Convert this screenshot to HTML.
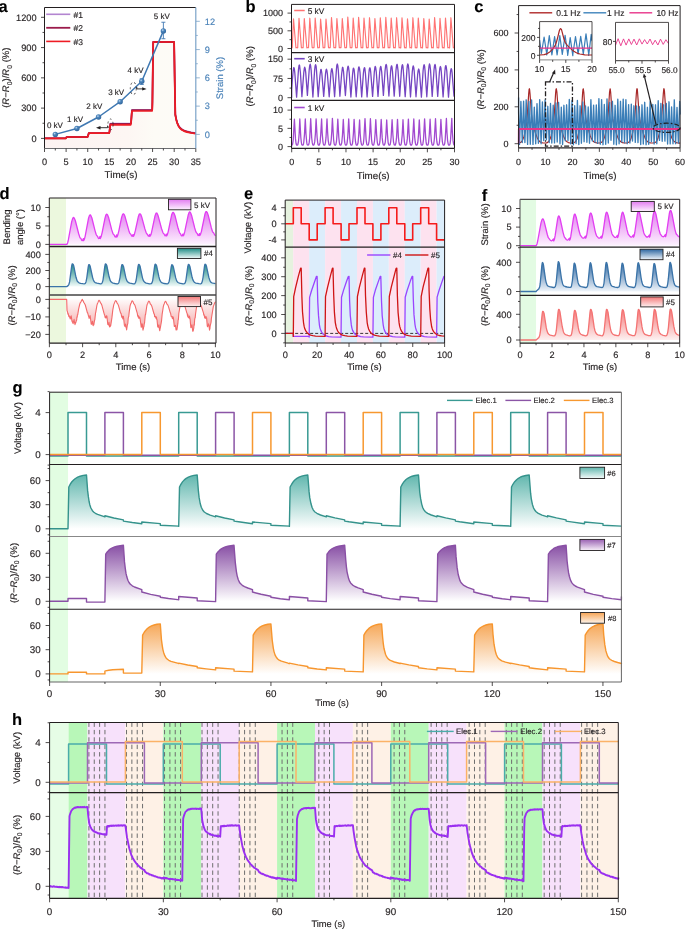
<!DOCTYPE html>
<html><head><meta charset="utf-8"><style>
html,body{margin:0;padding:0;background:#fff;width:685px;height:930px;overflow:hidden}
svg{display:block;will-change:transform}
text{font-family:"Liberation Sans", sans-serif;text-rendering:geometricPrecision}
</style></head><body>
<svg width="685" height="930" viewBox="0 0 685 930" font-family='"Liberation Sans", sans-serif'><defs><radialGradient id="sph" cx="0.38" cy="0.35" r="0.7"><stop offset="0" stop-color="#c8dcef"/><stop offset="0.35" stop-color="#4d86bd"/><stop offset="1" stop-color="#2f649a"/></radialGradient><linearGradient id="aFill" gradientUnits="userSpaceOnUse" x1="44.5" y1="0" x2="195.8" y2="0"><stop offset="0" stop-color="#fdf3f2"/><stop offset="0.55" stop-color="#fdf6f3"/><stop offset="0.72" stop-color="#fdfbf6"/><stop offset="1" stop-color="#fdfbf7"/></linearGradient><linearGradient id="gMag" x1="0" y1="0" x2="0" y2="1"><stop offset="0" stop-color="#e27cf0" stop-opacity="1"/><stop offset="1" stop-color="#fdf2fe" stop-opacity="1"/></linearGradient><linearGradient id="gTeal" x1="0" y1="0" x2="0" y2="1"><stop offset="0" stop-color="#1c8b84" stop-opacity="1"/><stop offset="1" stop-color="#f2fbfa" stop-opacity="1"/></linearGradient><linearGradient id="gBlue" x1="0" y1="0" x2="0" y2="1"><stop offset="0" stop-color="#2d66a0" stop-opacity="1"/><stop offset="1" stop-color="#f0f5fb" stop-opacity="1"/></linearGradient><linearGradient id="gPink" x1="0" y1="0" x2="0" y2="1"><stop offset="0" stop-color="#fefafa" stop-opacity="1"/><stop offset="1" stop-color="#f5a3a3" stop-opacity="1"/></linearGradient><linearGradient id="gPink2" x1="0" y1="0" x2="0" y2="1"><stop offset="0" stop-color="#f47b7b" stop-opacity="1"/><stop offset="1" stop-color="#fdf0f0" stop-opacity="1"/></linearGradient><linearGradient id="gG6" x1="0" y1="0" x2="0" y2="1"><stop offset="0" stop-color="#5fb6ad" stop-opacity="1"/><stop offset="1" stop-color="#ffffff" stop-opacity="1"/></linearGradient><linearGradient id="gG7" x1="0" y1="0" x2="0" y2="1"><stop offset="0" stop-color="#8c55a8" stop-opacity="1"/><stop offset="1" stop-color="#ffffff" stop-opacity="1"/></linearGradient><linearGradient id="gG8" x1="0" y1="0" x2="0" y2="1"><stop offset="0" stop-color="#f5a04a" stop-opacity="1"/><stop offset="1" stop-color="#ffffff" stop-opacity="1"/></linearGradient><linearGradient id="gL6" x1="0" y1="0" x2="0" y2="1"><stop offset="0" stop-color="#5fb6ad" stop-opacity="1"/><stop offset="1" stop-color="#f5fbfa" stop-opacity="1"/></linearGradient><linearGradient id="gL7" x1="0" y1="0" x2="0" y2="1"><stop offset="0" stop-color="#9a62b3" stop-opacity="1"/><stop offset="1" stop-color="#f7f0f9" stop-opacity="1"/></linearGradient><linearGradient id="gL8" x1="0" y1="0" x2="0" y2="1"><stop offset="0" stop-color="#f7a555" stop-opacity="1"/><stop offset="1" stop-color="#fdf3ea" stop-opacity="1"/></linearGradient><linearGradient id="gG6u" gradientUnits="userSpaceOnUse" x1="0" y1="474.17" x2="0" y2="528.8"><stop offset="0" stop-color="#5fb6ad" stop-opacity="1"/><stop offset="1" stop-color="#ffffff" stop-opacity="1"/></linearGradient><linearGradient id="gG7u" gradientUnits="userSpaceOnUse" x1="0" y1="546.9" x2="0" y2="601.3"><stop offset="0" stop-color="#8c55a8" stop-opacity="1"/><stop offset="1" stop-color="#ffffff" stop-opacity="1"/></linearGradient><linearGradient id="gG8u" gradientUnits="userSpaceOnUse" x1="0" y1="619.05" x2="0" y2="673.9"><stop offset="0" stop-color="#f5a04a" stop-opacity="1"/><stop offset="1" stop-color="#ffffff" stop-opacity="1"/></linearGradient></defs><polygon points="44.5,138.4 65.9,138.4 66.5,137.2 66.9,137.0 87.4,137.0 87.8,136.6 88.8,133.2 109.1,133.2 109.5,131.8 110.1,125.8 110.5,124.8 130.7,124.8 131.0,123.3 131.7,113.5 132.0,111.0 152.0,111.0 152.2,110.1 152.4,102.3 153.2,42.0 174.1,42.0 175.3,114.7 176.3,119.9 177.3,123.4 178.5,126.1 179.8,128.1 181.7,129.8 184.0,131.1 187.0,132.1 191.1,133.0 195.8,133.7 195.8,148.5 44.5,148.5" fill="url(#aFill)" stroke="none" />
<polyline points="44.5,138.1 65.9,138.1 66.5,136.9 66.9,136.7 87.4,136.7 87.8,136.3 88.8,132.9 109.1,132.8 109.5,131.5 110.3,123.7 110.5,123.5 130.7,123.5 131.0,123.0 132.0,109.9 152.0,109.8 152.2,109.0 152.4,101.2 153.2,41.7 174.1,41.7 175.3,114.4 176.3,119.2 177.3,122.7 178.5,125.4 179.8,127.4 181.7,129.1 184.0,130.4 187.0,131.4 191.1,132.3 195.8,133.0" fill="none" stroke="#b385d0" stroke-width="1.6" stroke-linejoin="round" />
<polyline points="44.5,138.4 65.9,138.4 66.5,137.2 66.9,137.0 87.4,137.0 87.8,136.6 88.8,133.2 109.1,133.2 109.5,131.8 110.3,124.0 110.5,123.8 130.7,123.8 131.0,123.3 132.0,110.2 152.0,110.1 152.2,109.3 152.4,101.5 153.2,42.0 174.1,42.0 175.3,114.7 176.3,119.5 177.3,123.0 178.5,125.7 179.8,127.7 181.7,129.4 184.0,130.7 187.0,131.7 191.1,132.6 195.8,133.3" fill="none" stroke="#9b1b4b" stroke-width="1.8" stroke-linejoin="round" />
<polyline points="44.5,138.4 65.9,138.4 66.5,137.2 66.9,137.0 87.4,137.0 87.8,136.6 88.8,133.2 109.1,133.2 109.5,131.8 110.1,125.8 110.5,124.8 130.7,124.8 131.0,123.3 131.7,113.5 132.0,111.0 152.0,111.0 152.2,110.1 152.4,102.3 153.2,42.0 174.1,42.0 175.3,114.7 176.3,119.9 177.3,123.4 178.5,126.1 179.8,128.1 181.7,129.8 184.0,131.1 187.0,132.1 191.1,133.0 195.8,133.7" fill="none" stroke="#ee1c24" stroke-width="1.7" stroke-linejoin="round" />
<line x1="46.2" y1="14.3" x2="70.3" y2="14.3" stroke="#b385d0" stroke-width="1.6" />
<text x="73.5" y="17.5" font-size="8.5" text-anchor="start" fill="#231f20" stroke="#231f20" stroke-width="0.15" font-weight="normal" >#1</text>
<line x1="46.2" y1="27.8" x2="70.3" y2="27.8" stroke="#9b1b4b" stroke-width="1.8" />
<text x="73.5" y="31" font-size="8.5" text-anchor="start" fill="#231f20" stroke="#231f20" stroke-width="0.15" font-weight="normal" >#2</text>
<line x1="46.2" y1="41.4" x2="70.3" y2="41.4" stroke="#ee1c24" stroke-width="1.6" />
<text x="73.5" y="44.6" font-size="8.5" text-anchor="start" fill="#231f20" stroke="#231f20" stroke-width="0.15" font-weight="normal" >#3</text>
<polyline points="55.3,134.4 76.9,128.5 98.5,117.0 120.2,101.7 141.8,81.2 163.4,30.9" fill="none" stroke="#3f78b2" stroke-width="1.5" stroke-linejoin="round" />
<line x1="163.38" y1="38.74" x2="163.38" y2="22.24" stroke="#3f78b2" stroke-width="0.9" />
<line x1="161.38" y1="38.74" x2="165.38" y2="38.74" stroke="#3f78b2" stroke-width="0.9" />
<line x1="161.38" y1="22.24" x2="165.38" y2="22.24" stroke="#3f78b2" stroke-width="0.9" />
<line x1="141.76" y1="84.45" x2="141.76" y2="78.79" stroke="#3f78b2" stroke-width="0.9" />
<line x1="139.76" y1="84.45" x2="143.76" y2="84.45" stroke="#3f78b2" stroke-width="0.9" />
<line x1="139.76" y1="78.79" x2="143.76" y2="78.79" stroke="#3f78b2" stroke-width="0.9" />
<circle cx="55.31" cy="134.4" r="2.7" fill="url(#sph)"/>
<circle cx="76.92" cy="128.46" r="2.7" fill="url(#sph)"/>
<circle cx="98.54" cy="116.96" r="2.7" fill="url(#sph)"/>
<circle cx="120.15" cy="101.7" r="2.7" fill="url(#sph)"/>
<circle cx="141.76" cy="81.24" r="2.7" fill="url(#sph)"/>
<circle cx="163.38" cy="30.91" r="2.7" fill="url(#sph)"/>
<text x="46.9" y="128.2" font-size="8" text-anchor="start" fill="#231f20" stroke="#231f20" stroke-width="0.15" font-weight="normal" >0 kV</text>
<text x="67.1" y="122" font-size="8" text-anchor="start" fill="#231f20" stroke="#231f20" stroke-width="0.15" font-weight="normal" >1 kV</text>
<text x="86.3" y="108.9" font-size="8" text-anchor="start" fill="#231f20" stroke="#231f20" stroke-width="0.15" font-weight="normal" >2 kV</text>
<text x="108.2" y="94.5" font-size="8" text-anchor="start" fill="#231f20" stroke="#231f20" stroke-width="0.15" font-weight="normal" >3 kV</text>
<text x="127.5" y="72.7" font-size="8" text-anchor="start" fill="#231f20" stroke="#231f20" stroke-width="0.15" font-weight="normal" >4 kV</text>
<text x="153.8" y="18.9" font-size="8" text-anchor="start" fill="#231f20" stroke="#231f20" stroke-width="0.15" font-weight="normal" >5 kV</text>
<ellipse cx="110.5" cy="124.5" rx="2.6" ry="5.5" fill="none" stroke="#231f20" stroke-width="0.75" stroke-dasharray="2,2.6"/>
<ellipse cx="133.3" cy="88.4" rx="3.0" ry="6.3" fill="none" stroke="#231f20" stroke-width="0.75" stroke-dasharray="2,2.6"/>
<polyline points="107.6,125.6 107.6,127.7 99.0,127.7" fill="none" stroke="#231f20" stroke-width="0.9" stroke-linejoin="round" />
<polygon points="96.0,127.7 100.5,126.0 100.5,129.4" fill="#231f20" stroke="none" />
<polyline points="136.8,87.0 136.8,88.9 143.5,88.9" fill="none" stroke="#231f20" stroke-width="0.9" stroke-linejoin="round" />
<polygon points="146.6,88.9 142.2,87.2 142.2,90.6" fill="#231f20" stroke="none" />
<line x1="44.5" y1="7.5" x2="195.8" y2="7.5" stroke="#231f20" stroke-width="1" />
<line x1="44.5" y1="7.5" x2="44.5" y2="148.5" stroke="#231f20" stroke-width="1" />
<line x1="44.5" y1="148.5" x2="195.8" y2="148.5" stroke="#6d6e71" stroke-width="1.2" />
<line x1="195.8" y1="7.5" x2="195.8" y2="148.5" stroke="#7ba3c8" stroke-width="1.2" />
<line x1="41" y1="138.4" x2="44.5" y2="138.4" stroke="#231f20" stroke-width="0.8" />
<text x="36.5" y="141.6" font-size="9.2" text-anchor="end" fill="#231f20" stroke="#231f20" stroke-width="0.15" font-weight="normal" >0</text>
<line x1="41" y1="108.12" x2="44.5" y2="108.12" stroke="#231f20" stroke-width="0.8" />
<text x="36.5" y="111.33" font-size="9.2" text-anchor="end" fill="#231f20" stroke="#231f20" stroke-width="0.15" font-weight="normal" >300</text>
<line x1="41" y1="77.85" x2="44.5" y2="77.85" stroke="#231f20" stroke-width="0.8" />
<text x="36.5" y="81.05" font-size="9.2" text-anchor="end" fill="#231f20" stroke="#231f20" stroke-width="0.15" font-weight="normal" >600</text>
<line x1="41" y1="47.58" x2="44.5" y2="47.58" stroke="#231f20" stroke-width="0.8" />
<text x="36.5" y="50.78" font-size="9.2" text-anchor="end" fill="#231f20" stroke="#231f20" stroke-width="0.15" font-weight="normal" >900</text>
<line x1="41" y1="17.3" x2="44.5" y2="17.3" stroke="#231f20" stroke-width="0.8" />
<text x="36.5" y="20.5" font-size="9.2" text-anchor="end" fill="#231f20" stroke="#231f20" stroke-width="0.15" font-weight="normal" >1200</text>
<line x1="42.5" y1="123.26" x2="44.5" y2="123.26" stroke="#231f20" stroke-width="0.8" />
<line x1="42.5" y1="92.99" x2="44.5" y2="92.99" stroke="#231f20" stroke-width="0.8" />
<line x1="42.5" y1="62.71" x2="44.5" y2="62.71" stroke="#231f20" stroke-width="0.8" />
<line x1="42.5" y1="32.44" x2="44.5" y2="32.44" stroke="#231f20" stroke-width="0.8" />
<line x1="195.8" y1="134.4" x2="199.8" y2="134.4" stroke="#7ba3c8" stroke-width="0.8" />
<text x="204.8" y="137.6" font-size="9.2" text-anchor="start" fill="#4a82b8" stroke="#4a82b8" stroke-width="0.15" font-weight="normal" >0</text>
<line x1="195.8" y1="106.12" x2="199.8" y2="106.12" stroke="#7ba3c8" stroke-width="0.8" />
<text x="204.8" y="109.33" font-size="9.2" text-anchor="start" fill="#4a82b8" stroke="#4a82b8" stroke-width="0.15" font-weight="normal" >3</text>
<line x1="195.8" y1="77.85" x2="199.8" y2="77.85" stroke="#7ba3c8" stroke-width="0.8" />
<text x="204.8" y="81.05" font-size="9.2" text-anchor="start" fill="#4a82b8" stroke="#4a82b8" stroke-width="0.15" font-weight="normal" >6</text>
<line x1="195.8" y1="49.58" x2="199.8" y2="49.58" stroke="#7ba3c8" stroke-width="0.8" />
<text x="204.8" y="52.78" font-size="9.2" text-anchor="start" fill="#4a82b8" stroke="#4a82b8" stroke-width="0.15" font-weight="normal" >9</text>
<line x1="195.8" y1="21.3" x2="199.8" y2="21.3" stroke="#7ba3c8" stroke-width="0.8" />
<text x="204.8" y="24.5" font-size="9.2" text-anchor="start" fill="#4a82b8" stroke="#4a82b8" stroke-width="0.15" font-weight="normal" >12</text>
<line x1="195.8" y1="120.26" x2="197.8" y2="120.26" stroke="#7ba3c8" stroke-width="0.8" />
<line x1="195.8" y1="91.99" x2="197.8" y2="91.99" stroke="#7ba3c8" stroke-width="0.8" />
<line x1="195.8" y1="63.71" x2="197.8" y2="63.71" stroke="#7ba3c8" stroke-width="0.8" />
<line x1="195.8" y1="35.44" x2="197.8" y2="35.44" stroke="#7ba3c8" stroke-width="0.8" />
<line x1="44.5" y1="148.5" x2="44.5" y2="152" stroke="#231f20" stroke-width="0.8" />
<text x="44.5" y="165.3" font-size="9.2" text-anchor="middle" fill="#231f20" stroke="#231f20" stroke-width="0.15" font-weight="normal" >0</text>
<line x1="66.11" y1="148.5" x2="66.11" y2="152" stroke="#231f20" stroke-width="0.8" />
<text x="66.11" y="165.3" font-size="9.2" text-anchor="middle" fill="#231f20" stroke="#231f20" stroke-width="0.15" font-weight="normal" >5</text>
<line x1="87.73" y1="148.5" x2="87.73" y2="152" stroke="#231f20" stroke-width="0.8" />
<text x="87.73" y="165.3" font-size="9.2" text-anchor="middle" fill="#231f20" stroke="#231f20" stroke-width="0.15" font-weight="normal" >10</text>
<line x1="109.34" y1="148.5" x2="109.34" y2="152" stroke="#231f20" stroke-width="0.8" />
<text x="109.34" y="165.3" font-size="9.2" text-anchor="middle" fill="#231f20" stroke="#231f20" stroke-width="0.15" font-weight="normal" >15</text>
<line x1="130.96" y1="148.5" x2="130.96" y2="152" stroke="#231f20" stroke-width="0.8" />
<text x="130.96" y="165.3" font-size="9.2" text-anchor="middle" fill="#231f20" stroke="#231f20" stroke-width="0.15" font-weight="normal" >20</text>
<line x1="152.57" y1="148.5" x2="152.57" y2="152" stroke="#231f20" stroke-width="0.8" />
<text x="152.57" y="165.3" font-size="9.2" text-anchor="middle" fill="#231f20" stroke="#231f20" stroke-width="0.15" font-weight="normal" >25</text>
<line x1="174.19" y1="148.5" x2="174.19" y2="152" stroke="#231f20" stroke-width="0.8" />
<text x="174.19" y="165.3" font-size="9.2" text-anchor="middle" fill="#231f20" stroke="#231f20" stroke-width="0.15" font-weight="normal" >30</text>
<line x1="195.8" y1="148.5" x2="195.8" y2="152" stroke="#231f20" stroke-width="0.8" />
<text x="195.8" y="165.3" font-size="9.2" text-anchor="middle" fill="#231f20" stroke="#231f20" stroke-width="0.15" font-weight="normal" >35</text>
<line x1="55.31" y1="148.5" x2="55.31" y2="150.5" stroke="#231f20" stroke-width="0.8" />
<line x1="76.92" y1="148.5" x2="76.92" y2="150.5" stroke="#231f20" stroke-width="0.8" />
<line x1="98.54" y1="148.5" x2="98.54" y2="150.5" stroke="#231f20" stroke-width="0.8" />
<line x1="120.15" y1="148.5" x2="120.15" y2="150.5" stroke="#231f20" stroke-width="0.8" />
<line x1="141.76" y1="148.5" x2="141.76" y2="150.5" stroke="#231f20" stroke-width="0.8" />
<line x1="163.38" y1="148.5" x2="163.38" y2="150.5" stroke="#231f20" stroke-width="0.8" />
<line x1="184.99" y1="148.5" x2="184.99" y2="150.5" stroke="#231f20" stroke-width="0.8" />
<text x="121" y="178.3" font-size="9.8" text-anchor="middle" fill="#231f20" stroke="#231f20" stroke-width="0.15" font-weight="normal" >Time(s)</text>
<text x="9.5" y="77.7" font-size="9.5" text-anchor="middle" fill="#231f20" stroke="#231f20" stroke-width="0.15" font-weight="normal" transform="rotate(-90 9.5 77.7)" >(<tspan font-style="italic">R</tspan>−<tspan font-style="italic">R</tspan><tspan font-size="72%" dy="2.2">0</tspan><tspan dy="-2.2">)/</tspan><tspan font-style="italic">R</tspan><tspan font-size="72%" dy="2.2">0</tspan><tspan dy="-2.2"> (%)</tspan></text>
<text x="222.6" y="78" font-size="9.5" text-anchor="middle" fill="#4a82b8" stroke="#4a82b8" stroke-width="0.15" font-weight="normal" transform="rotate(-90 222.6 78)" >Strain (%)</text>
<text x="-1.5" y="11.7" font-size="16.5" text-anchor="start" fill="#000" stroke="#000" stroke-width="0.1" font-weight="bold" >a</text>
<polyline points="291.7,48.5 291.8,47.6 292.0,47.5 292.2,47.8 293.5,18.8 295.9,47.5 296.0,47.8 296.5,47.6 297.1,47.8 297.4,47.5 297.7,47.7 299.0,18.3 301.4,47.8 301.9,47.6 302.6,47.8 302.8,47.5 303.1,47.7 304.3,18.6 306.8,47.5 306.8,47.8 307.3,47.6 308.0,47.8 308.2,47.5 308.5,47.6 309.8,18.2 312.2,47.6 312.3,47.8 312.8,47.6 313.4,47.8 313.6,47.5 313.9,47.7 314.0,47.6 315.2,18.1 317.7,47.8 318.2,47.6 318.8,47.8 319.0,47.5 319.3,47.7 319.4,47.5 320.6,19.0 323.1,47.6 323.1,47.8 323.7,47.6 324.3,47.8 324.5,47.5 324.7,47.7 324.8,47.5 326.0,19.0 328.5,47.7 329.2,47.6 329.7,47.8 330.0,47.5 330.2,47.7 331.5,17.5 333.9,47.7 334.6,47.6 335.1,47.8 335.4,47.5 335.6,47.7 335.7,47.4 336.9,18.5 339.3,47.7 339.9,47.6 340.6,47.8 340.8,47.5 341.0,47.7 342.3,18.5 344.8,47.7 345.4,47.6 345.9,47.8 346.3,47.5 346.5,47.7 347.8,17.1 350.2,47.8 350.8,47.6 351.4,47.8 351.7,47.5 351.9,47.7 352.0,47.2 353.2,18.0 355.6,47.8 356.2,47.6 356.8,47.8 357.1,47.5 357.3,47.7 358.6,17.3 361.1,47.8 361.7,47.6 362.2,47.8 362.5,47.5 362.8,47.7 362.8,47.1 364.0,18.0 366.5,47.8 367.1,47.6 367.6,47.8 367.9,47.5 368.2,47.7 369.5,17.7 371.9,47.8 372.5,47.6 373.1,47.8 373.3,47.5 373.6,47.7 374.9,18.6 377.3,47.8 378.0,47.6 378.5,47.8 378.8,47.5 379.0,47.7 380.3,17.8 382.8,47.8 383.4,47.6 383.9,47.8 384.2,47.5 384.5,47.7 385.8,17.4 388.2,47.8 388.8,47.6 389.4,47.8 389.6,47.5 389.9,47.7 391.2,18.0 393.6,47.8 394.2,47.6 394.8,47.8 395.1,47.5 395.3,47.8 396.6,17.7 399.1,47.8 399.7,47.6 400.2,47.8 400.5,47.5 400.8,47.8 402.0,17.8 404.5,47.8 405.1,47.6 405.6,47.8 405.9,47.5 406.2,47.8 407.5,18.9 409.9,47.8 410.5,47.6 411.1,47.8 411.3,47.5 411.6,47.8 412.9,17.7 415.3,47.8 415.9,47.6 416.5,47.8 416.8,47.5 417.0,47.8 418.3,18.0 420.8,47.8 421.3,47.6 421.9,47.8 422.2,47.5 422.5,47.8 423.8,18.6 426.2,47.8 426.7,47.6 427.4,47.8 427.6,47.5 427.9,47.8 429.2,19.1 431.6,47.4 431.6,47.8 432.2,47.6 432.8,47.8 433.1,47.5 433.3,47.8 434.6,17.6 437.1,47.8 437.6,47.6 438.2,47.8 438.5,47.5 438.8,47.8 440.0,18.4 442.4,47.4 442.5,47.8 443.0,47.6 443.6,47.8 443.9,47.5 444.2,47.8 445.5,18.0 447.8,47.4 447.9,47.8 448.5,47.6 449.1,47.8 449.3,47.5 449.6,47.8 450.9,17.7 453.3,47.4 453.3,47.8 453.9,47.6 454.5,47.8" fill="none" stroke="#ff7373" stroke-width="1.15" stroke-linejoin="round" />
<polyline points="291.7,97.7 291.7,90.0 292.3,80.7 293.1,71.5 293.7,67.7 294.0,67.7 294.3,68.6 294.8,72.8 296.6,97.1 298.5,69.3 299.0,65.5 299.3,65.0 299.6,65.6 300.4,72.5 301.9,96.6 303.8,72.3 304.3,68.5 304.7,67.2 305.2,68.6 305.7,72.4 307.4,95.4 309.2,69.8 309.7,65.6 310.2,64.2 310.6,65.7 311.2,70.7 312.9,97.0 314.6,70.3 315.1,66.0 315.6,64.6 316.1,66.1 316.5,70.6 318.2,96.6 319.9,76.1 320.7,70.0 320.9,69.4 321.2,69.6 321.8,73.0 323.7,96.4 325.5,73.9 326.0,70.3 326.4,69.1 326.9,70.5 327.4,74.2 329.2,96.8 330.9,73.6 331.4,69.9 331.9,68.6 332.3,70.1 332.8,73.9 334.6,96.6 336.4,69.7 336.8,65.4 337.3,64.0 337.8,65.7 338.3,70.2 339.9,96.3 341.6,74.5 342.4,67.9 342.7,67.3 342.9,67.6 343.5,71.3 345.4,95.5 347.1,71.9 347.7,67.4 348.0,66.3 348.2,66.1 348.6,67.6 349.2,72.5 350.9,97.0 352.6,73.8 353.1,69.3 353.4,68.3 353.6,68.1 354.1,69.6 354.5,73.6 356.2,96.8 358.0,72.6 358.5,68.1 358.8,67.0 359.0,66.9 359.5,68.4 360.0,72.4 361.7,96.9 363.4,73.3 363.9,69.2 364.4,67.6 364.6,67.8 364.9,68.8 365.4,73.3 367.1,96.9 368.9,73.3 369.3,69.3 369.8,67.8 370.0,68.0 370.3,68.9 370.8,73.2 372.6,96.4 374.3,72.2 374.8,68.0 375.2,66.4 375.4,66.6 375.7,67.6 376.3,72.2 378.0,96.4 379.7,72.0 380.2,67.9 380.7,66.4 380.9,66.6 381.1,67.6 381.7,72.1 383.4,95.4 385.1,70.3 385.6,66.0 386.1,64.4 386.3,64.6 386.6,65.7 387.1,70.5 388.9,96.0 390.6,71.6 391.0,67.4 391.5,65.8 391.7,66.0 392.0,67.1 392.5,71.8 394.2,96.1 396.0,70.2 396.5,65.9 397.0,64.3 397.2,64.5 397.4,65.6 398.0,70.4 399.7,96.3 401.4,70.7 401.9,66.3 402.4,64.7 402.6,64.9 402.9,66.1 403.3,70.2 405.2,96.7 406.9,70.1 407.3,65.6 407.8,63.9 408.3,65.3 408.8,69.6 410.5,96.9 412.3,71.5 412.8,67.4 413.2,65.8 413.7,67.2 414.2,71.1 416.0,96.8 417.7,74.2 418.2,70.4 418.7,69.0 419.1,70.2 419.6,73.9 421.4,97.1 423.1,70.6 423.6,66.3 424.1,64.7 424.6,66.1 425.0,70.3 426.8,96.8 428.6,70.0 429.1,65.6 429.5,64.0 430.0,65.5 430.5,69.8 432.2,96.4 434.0,70.2 434.5,65.9 435.0,64.4 435.4,65.8 435.9,70.0 437.7,96.4 439.4,72.0 439.9,67.9 440.4,66.5 440.9,67.9 441.3,71.9 443.1,96.9 444.9,71.3 445.3,67.1 445.7,65.6 445.9,65.7 446.2,66.6 446.8,71.2 448.5,97.1 450.2,75.0 450.6,70.8 451.1,68.8 451.3,68.7 451.6,69.3 452.1,72.9 454.0,96.1 454.5,89.3" fill="none" stroke="#7545c2" stroke-width="1.3" stroke-linejoin="round" />
<polyline points="291.7,146.6 291.7,145.1 292.2,144.9 292.6,144.1 293.2,140.1 294.4,119.2 295.5,138.9 296.0,143.3 296.4,144.6 296.7,145.1 297.4,145.1 297.8,144.7 298.5,141.5 299.2,133.1 299.8,119.0 300.8,137.2 301.3,142.0 301.7,144.4 302.2,145.1 302.8,145.1 303.1,144.9 303.5,143.9 303.8,142.0 304.5,134.1 305.3,119.0 306.0,134.2 306.7,142.0 307.0,143.9 307.4,144.9 308.2,145.1 308.7,144.7 309.2,142.4 309.7,137.9 310.7,118.7 311.7,138.0 312.3,142.9 312.8,144.8 313.1,145.1 313.5,145.1 314.0,144.8 314.7,141.9 315.4,133.8 316.1,118.9 317.1,137.2 317.6,142.0 318.0,144.4 318.5,145.1 319.3,145.0 319.7,144.1 320.1,142.4 320.7,134.9 321.6,119.0 322.2,133.1 322.9,141.5 323.3,143.7 323.7,144.9 323.9,145.1 324.3,145.1 324.9,144.8 325.4,142.8 326.0,137.7 327.0,119.0 327.6,132.0 328.2,140.3 328.9,144.4 329.2,145.0 329.8,145.1 330.2,144.9 330.6,144.1 331.2,140.0 331.8,131.4 332.4,118.3 333.6,139.5 334.1,143.6 334.5,144.7 334.9,145.1 335.5,145.1 335.9,144.5 336.5,141.2 337.1,133.4 337.8,119.1 338.8,137.3 339.3,142.1 339.7,144.4 340.2,145.1 341.0,145.0 341.4,144.1 341.8,142.3 342.5,134.8 343.3,119.5 344.0,133.4 344.6,141.7 345.0,143.7 345.4,144.9 345.6,145.1 346.1,145.1 346.6,144.8 347.1,142.8 347.7,137.7 348.7,119.0 349.7,138.1 350.2,142.6 350.7,144.8 351.2,145.1 351.7,145.1 352.0,144.9 352.4,143.8 352.7,141.7 353.4,133.5 354.1,119.4 355.1,137.6 355.5,141.7 356.0,144.3 356.4,145.1 357.3,145.0 357.7,144.1 358.1,142.3 358.7,135.0 359.6,120.0 360.2,133.7 360.9,141.7 361.6,144.8 362.0,145.1 362.7,145.0 363.0,144.5 363.4,143.2 363.9,138.5 365.0,118.6 366.1,139.6 366.7,143.7 367.0,144.8 367.4,145.1 368.0,145.1 368.4,144.6 369.1,141.0 369.7,133.1 370.4,118.7 371.5,139.1 372.1,143.8 372.5,144.8 372.8,145.1 373.5,145.1 373.8,144.6 374.5,141.2 375.1,133.5 375.8,119.6 376.6,134.6 377.3,142.2 377.6,144.0 378.0,145.0 378.4,145.1 378.9,145.1 379.4,144.3 379.9,141.7 380.3,136.6 381.2,119.5 382.2,137.9 382.8,142.8 383.3,144.8 383.8,145.1 384.3,145.1 384.5,144.9 384.9,143.8 385.3,141.8 385.9,135.0 386.7,120.0 387.5,134.8 388.1,142.3 388.5,144.1 388.9,145.0 389.7,145.1 390.2,144.5 390.6,142.2 391.1,137.5 392.1,119.7 392.9,134.7 393.5,141.8 394.2,144.8 394.6,145.1 395.3,145.0 395.9,143.0 396.5,138.2 397.5,119.3 398.4,137.1 398.9,141.9 399.4,144.3 399.9,145.1 400.4,145.1 400.8,145.0 401.2,144.0 401.5,142.3 402.2,134.9 403.0,119.7 403.7,133.7 404.4,141.8 405.0,144.8 405.4,145.1 406.1,145.0 406.7,143.4 407.3,138.9 408.4,119.1 409.1,133.7 409.7,141.3 410.4,144.7 410.8,145.1 411.5,145.1 411.8,144.6 412.2,143.4 412.7,138.9 413.8,119.0 414.7,137.2 415.2,142.0 415.7,144.4 416.2,145.1 416.7,145.1 417.0,145.0 417.4,144.0 417.8,142.2 418.5,134.7 419.3,119.9 420.0,133.8 420.6,141.3 421.2,144.7 421.6,145.1 422.3,145.1 422.6,144.7 422.9,143.7 423.5,139.6 424.6,118.9 425.6,136.9 426.1,141.9 426.5,144.4 427.0,145.1 427.6,145.1 427.9,144.9 428.3,144.0 428.6,142.1 429.3,134.3 430.1,119.2 430.8,133.8 431.4,141.3 432.1,144.7 432.4,145.1 433.1,145.1 433.5,144.7 433.8,143.6 434.3,139.5 435.5,118.7 436.4,137.1 436.9,142.0 437.4,144.4 437.9,145.1 438.4,145.1 438.8,144.9 439.2,144.0 439.5,142.1 440.2,134.3 440.9,119.3 441.7,133.8 442.3,141.3 442.9,144.5 443.3,145.1 443.9,145.1 444.3,144.7 444.7,143.6 445.2,139.5 446.4,118.5 447.0,132.7 447.6,140.8 448.3,144.5 448.7,145.1 449.3,145.1 449.7,144.7 450.1,143.6 450.6,139.4 451.8,118.4 452.3,131.2 453.0,140.4 453.6,144.2 454.0,144.9 454.5,145.1" fill="none" stroke="#a24ad0" stroke-width="1.3" stroke-linejoin="round" />
<line x1="294.2" y1="10.5" x2="304.7" y2="10.5" stroke="#ff7373" stroke-width="1.5" />
<text x="307.7" y="13.6" font-size="8.3" text-anchor="start" fill="#231f20" stroke="#231f20" stroke-width="0.15" font-weight="normal" >5 kV</text>
<line x1="294.2" y1="58.7" x2="304.7" y2="58.7" stroke="#7545c2" stroke-width="1.6" />
<text x="307.7" y="61.8" font-size="8.3" text-anchor="start" fill="#231f20" stroke="#231f20" stroke-width="0.15" font-weight="normal" >3 kV</text>
<line x1="294.2" y1="107.5" x2="304.7" y2="107.5" stroke="#a24ad0" stroke-width="1.6" />
<text x="307.7" y="110.6" font-size="8.3" text-anchor="start" fill="#231f20" stroke="#231f20" stroke-width="0.15" font-weight="normal" >1 kV</text>
<line x1="291.5" y1="4.4" x2="454.5" y2="4.4" stroke="#231f20" stroke-width="1" />
<line x1="291.5" y1="4.4" x2="291.5" y2="148.3" stroke="#231f20" stroke-width="1" />
<line x1="454.5" y1="4.4" x2="454.5" y2="148.3" stroke="#231f20" stroke-width="1" />
<line x1="291.5" y1="52.7" x2="454.5" y2="52.7" stroke="#231f20" stroke-width="1.2" />
<line x1="291.5" y1="100.3" x2="454.5" y2="100.3" stroke="#231f20" stroke-width="1.2" />
<line x1="291.5" y1="148.3" x2="454.5" y2="148.3" stroke="#231f20" stroke-width="1.2" />
<line x1="287.5" y1="48.5" x2="291.5" y2="48.5" stroke="#231f20" stroke-width="0.8" />
<text x="283" y="51.7" font-size="9" text-anchor="end" fill="#231f20" stroke="#231f20" stroke-width="0.15" font-weight="normal" >0</text>
<line x1="287.5" y1="30.8" x2="291.5" y2="30.8" stroke="#231f20" stroke-width="0.8" />
<text x="283" y="34" font-size="9" text-anchor="end" fill="#231f20" stroke="#231f20" stroke-width="0.15" font-weight="normal" >500</text>
<line x1="287.5" y1="13.1" x2="291.5" y2="13.1" stroke="#231f20" stroke-width="0.8" />
<text x="283" y="16.3" font-size="9" text-anchor="end" fill="#231f20" stroke="#231f20" stroke-width="0.15" font-weight="normal" >1000</text>
<line x1="289.5" y1="39.65" x2="291.5" y2="39.65" stroke="#231f20" stroke-width="0.8" />
<line x1="289.5" y1="21.95" x2="291.5" y2="21.95" stroke="#231f20" stroke-width="0.8" />
<line x1="287.5" y1="97.7" x2="291.5" y2="97.7" stroke="#231f20" stroke-width="0.8" />
<text x="283" y="100.9" font-size="9" text-anchor="end" fill="#231f20" stroke="#231f20" stroke-width="0.15" font-weight="normal" >0</text>
<line x1="287.5" y1="78.45" x2="291.5" y2="78.45" stroke="#231f20" stroke-width="0.8" />
<text x="283" y="81.65" font-size="9" text-anchor="end" fill="#231f20" stroke="#231f20" stroke-width="0.15" font-weight="normal" >75</text>
<line x1="287.5" y1="59.2" x2="291.5" y2="59.2" stroke="#231f20" stroke-width="0.8" />
<text x="283" y="62.4" font-size="9" text-anchor="end" fill="#231f20" stroke="#231f20" stroke-width="0.15" font-weight="normal" >150</text>
<line x1="289.5" y1="88.08" x2="291.5" y2="88.08" stroke="#231f20" stroke-width="0.8" />
<line x1="289.5" y1="68.83" x2="291.5" y2="68.83" stroke="#231f20" stroke-width="0.8" />
<line x1="287.5" y1="146.6" x2="291.5" y2="146.6" stroke="#231f20" stroke-width="0.8" />
<text x="283" y="149.8" font-size="9" text-anchor="end" fill="#231f20" stroke="#231f20" stroke-width="0.15" font-weight="normal" >0</text>
<line x1="287.5" y1="128.35" x2="291.5" y2="128.35" stroke="#231f20" stroke-width="0.8" />
<text x="283" y="131.55" font-size="9" text-anchor="end" fill="#231f20" stroke="#231f20" stroke-width="0.15" font-weight="normal" >5</text>
<line x1="287.5" y1="110.1" x2="291.5" y2="110.1" stroke="#231f20" stroke-width="0.8" />
<text x="283" y="113.3" font-size="9" text-anchor="end" fill="#231f20" stroke="#231f20" stroke-width="0.15" font-weight="normal" >10</text>
<line x1="289.5" y1="137.47" x2="291.5" y2="137.47" stroke="#231f20" stroke-width="0.8" />
<line x1="289.5" y1="119.22" x2="291.5" y2="119.22" stroke="#231f20" stroke-width="0.8" />
<line x1="291.7" y1="148.3" x2="291.7" y2="152.3" stroke="#231f20" stroke-width="0.8" />
<text x="291.7" y="165.3" font-size="9" text-anchor="middle" fill="#231f20" stroke="#231f20" stroke-width="0.15" font-weight="normal" >0</text>
<line x1="318.83" y1="148.3" x2="318.83" y2="152.3" stroke="#231f20" stroke-width="0.8" />
<text x="318.83" y="165.3" font-size="9" text-anchor="middle" fill="#231f20" stroke="#231f20" stroke-width="0.15" font-weight="normal" >5</text>
<line x1="345.97" y1="148.3" x2="345.97" y2="152.3" stroke="#231f20" stroke-width="0.8" />
<text x="345.97" y="165.3" font-size="9" text-anchor="middle" fill="#231f20" stroke="#231f20" stroke-width="0.15" font-weight="normal" >10</text>
<line x1="373.1" y1="148.3" x2="373.1" y2="152.3" stroke="#231f20" stroke-width="0.8" />
<text x="373.1" y="165.3" font-size="9" text-anchor="middle" fill="#231f20" stroke="#231f20" stroke-width="0.15" font-weight="normal" >15</text>
<line x1="400.23" y1="148.3" x2="400.23" y2="152.3" stroke="#231f20" stroke-width="0.8" />
<text x="400.23" y="165.3" font-size="9" text-anchor="middle" fill="#231f20" stroke="#231f20" stroke-width="0.15" font-weight="normal" >20</text>
<line x1="427.37" y1="148.3" x2="427.37" y2="152.3" stroke="#231f20" stroke-width="0.8" />
<text x="427.37" y="165.3" font-size="9" text-anchor="middle" fill="#231f20" stroke="#231f20" stroke-width="0.15" font-weight="normal" >25</text>
<line x1="454.5" y1="148.3" x2="454.5" y2="152.3" stroke="#231f20" stroke-width="0.8" />
<text x="454.5" y="165.3" font-size="9" text-anchor="middle" fill="#231f20" stroke="#231f20" stroke-width="0.15" font-weight="normal" >30</text>
<line x1="305.27" y1="148.3" x2="305.27" y2="150.3" stroke="#231f20" stroke-width="0.8" />
<line x1="332.4" y1="148.3" x2="332.4" y2="150.3" stroke="#231f20" stroke-width="0.8" />
<line x1="359.53" y1="148.3" x2="359.53" y2="150.3" stroke="#231f20" stroke-width="0.8" />
<line x1="386.67" y1="148.3" x2="386.67" y2="150.3" stroke="#231f20" stroke-width="0.8" />
<line x1="413.8" y1="148.3" x2="413.8" y2="150.3" stroke="#231f20" stroke-width="0.8" />
<line x1="440.93" y1="148.3" x2="440.93" y2="150.3" stroke="#231f20" stroke-width="0.8" />
<text x="373.2" y="178.5" font-size="9.8" text-anchor="middle" fill="#231f20" stroke="#231f20" stroke-width="0.15" font-weight="normal" >Time(s)</text>
<text x="253.3" y="76.3" font-size="9.5" text-anchor="middle" fill="#231f20" stroke="#231f20" stroke-width="0.15" font-weight="normal" transform="rotate(-90 253.3 76.3)" >(<tspan font-style="italic">R</tspan>−<tspan font-style="italic">R</tspan><tspan font-size="72%" dy="2.2">0</tspan><tspan dy="-2.2">)/</tspan><tspan font-style="italic">R</tspan><tspan font-size="72%" dy="2.2">0</tspan><tspan dy="-2.2"> (%)</tspan></text>
<text x="245.5" y="11.6" font-size="16.5" text-anchor="start" fill="#000" stroke="#000" stroke-width="0.1" font-weight="bold" >b</text>
<polyline points="518.6,143.0 519.9,142.8 520.9,142.3 521.7,141.5 522.5,140.3 524.0,136.4 525.5,130.1 526.3,125.5 527.0,119.9 528.7,93.6 529.1,89.5 529.4,88.7 529.6,89.6 530.0,93.6 531.5,114.9 532.6,122.3 535.0,131.6 537.1,137.4 538.0,139.3 538.9,140.7 540.0,141.8 541.2,142.5 542.8,142.9 544.9,143.0 546.5,142.9 547.7,142.4 548.6,141.5 549.4,140.3 550.3,138.4 551.1,135.9 552.5,129.3 553.6,122.3 554.4,113.0 555.6,93.3 556.0,89.4 556.3,88.7 556.9,92.2 558.5,115.1 559.4,121.8 561.6,130.2 563.5,136.2 565.1,139.6 566.0,140.9 567.0,141.8 568.4,142.6 570.2,143.0 572.5,143.0 574.1,142.6 575.2,141.9 576.0,140.9 576.8,139.4 577.6,137.2 579.3,129.9 580.6,122.1 581.4,112.7 582.6,93.0 583.0,89.3 583.3,88.8 583.8,92.4 585.0,110.6 585.8,118.7 587.2,125.3 590.1,135.5 591.2,138.1 592.3,140.0 593.5,141.5 594.8,142.4 597.0,143.0 599.7,143.0 601.3,142.5 602.5,141.5 603.7,139.3 604.8,136.2 606.0,131.1 607.1,125.0 608.2,114.3 609.5,92.7 610.1,88.8 610.3,89.2 610.7,92.7 611.9,110.9 612.8,118.9 614.0,124.9 616.7,134.4 617.7,137.3 618.7,139.2 619.8,140.8 621.0,141.9 622.5,142.6 624.5,143.0 626.6,143.0 628.2,142.5 629.1,141.9 629.9,140.9 631.2,137.9 632.6,132.9 633.8,126.6 634.8,117.5 636.3,94.2 636.7,89.8 637.0,88.7 637.3,89.3 637.5,91.5 638.9,111.2 639.7,119.1 640.8,124.4 643.5,134.0 645.5,139.0 646.6,140.6 647.6,141.7 649.0,142.5 650.7,142.9 653.0,143.0 654.6,142.7 655.6,142.2 656.4,141.4 657.2,140.1 657.9,138.6 659.2,133.9 660.6,127.3 661.6,118.8 663.3,93.9 663.7,89.7 663.9,88.7 664.2,89.5 664.5,91.7 665.8,111.5 666.5,118.2 667.4,123.4 669.7,132.0 671.7,137.7 672.8,139.7 673.9,141.1 675.0,142.0 676.3,142.7 677.9,143.0 680.1,143.1" fill="none" stroke="#a82828" stroke-width="1.2" stroke-linejoin="round" />
<polyline points="518.6,97.6 518.6,113.0 519.5,144.4 520.9,101.5 522.3,142.5 523.6,101.2 524.9,142.6 526.2,99.8 527.6,144.4 528.9,101.5 530.3,144.2 531.6,100.0 533.0,144.4 534.3,107.2 535.7,143.8 537.0,103.6 538.4,143.3 539.7,99.7 541.1,143.7 542.4,102.0 543.7,140.6 545.1,99.9 546.4,139.7 547.8,106.3 549.2,142.5 550.5,103.4 551.8,143.0 553.2,105.2 554.5,142.9 555.9,102.8 557.2,142.0 558.6,102.5 560.0,143.8 561.3,107.1 562.6,144.4 563.9,105.3 565.3,140.8 566.6,104.8 568.0,140.6 569.3,99.5 570.7,143.9 572.0,100.8 573.4,144.8 573.4,139.1 574.7,105.7 576.1,143.6 577.4,100.4 578.8,144.5 580.1,105.8 581.4,143.2 582.8,101.9 584.1,141.7 585.5,105.9 586.9,142.3 588.2,106.9 589.5,143.2 590.9,99.7 592.3,141.1 593.6,105.1 595.0,142.4 596.3,105.0 597.6,143.4 598.9,98.6 600.3,144.2 601.6,99.6 603.0,144.7 604.3,104.5 605.7,144.3 607.0,98.9 608.3,143.1 609.7,102.4 611.0,140.3 612.4,101.3 613.7,138.7 613.8,144.2 615.1,105.3 616.4,144.8 617.8,99.2 619.1,143.8 620.5,101.3 621.8,142.1 623.2,99.1 624.5,142.8 625.9,99.7 627.2,143.7 628.6,104.6 629.9,143.0 631.3,104.1 632.5,141.0 633.9,105.8 635.3,142.4 636.6,106.0 638.0,142.6 639.3,106.7 640.7,144.6 642.0,104.8 643.3,144.0 644.7,102.3 646.1,144.7 647.4,107.3 648.7,144.3 650.1,101.7 651.4,141.7 652.8,104.5 654.1,144.1 655.5,104.8 656.8,143.7 658.2,100.7 659.5,140.4 660.9,103.4 662.2,141.3 663.6,104.8 664.9,141.1 666.3,103.5 667.6,144.1 669.0,101.8 670.2,143.9 671.6,107.0 673.0,143.8 674.3,99.8 675.6,143.7 677.0,107.4 678.4,143.0 679.7,101.5 680.1,114.5" fill="none" stroke="#3a7eb8" stroke-width="1.35" stroke-linejoin="round" />
<polyline points="518.6,143.7 518.7,128.9 518.8,129.1 518.9,128.7 519.1,129.2 519.2,128.8 519.4,129.1 519.5,128.7 519.6,129.2 519.7,128.8 519.9,129.1 520.0,128.7 520.1,129.2 520.2,128.8 520.5,129.1 520.6,128.7 520.7,129.2 520.8,128.8 521.0,129.1 521.1,128.7 521.2,129.1 521.3,128.8 521.5,129.1 521.6,128.7 521.7,129.1 521.9,128.8 522.1,129.1 522.2,128.7 522.3,129.1 522.4,128.8 522.6,129.1 522.7,128.7 522.8,129.1 522.9,128.8 523.1,129.1 523.3,128.7 523.4,129.1 523.5,128.8 523.7,129.1 523.8,128.7 523.9,129.1 524.0,128.8 524.2,129.1 524.3,128.7 524.4,129.1 524.5,128.8 524.8,129.1 524.9,128.7 525.0,129.1 525.1,128.8 525.3,129.1 525.4,128.7 525.5,129.1 525.6,128.8 525.8,129.1 525.9,128.7 526.1,129.1 526.2,128.8 526.4,129.1 526.5,128.7 526.6,129.1 526.7,128.8 526.9,129.1 527.0,128.7 527.1,129.1 527.2,128.8 527.5,129.1 527.6,128.7 527.7,129.1 527.8,128.8 528.0,129.1 528.1,128.7 528.2,129.1 528.3,128.8 528.5,129.1 528.6,128.7 528.7,129.1 528.9,128.8 529.1,129.1 529.2,128.7 529.3,129.1 529.4,128.8 529.6,129.1 529.7,128.7 529.8,129.1 529.9,128.8 530.1,129.1 530.3,128.7 530.4,129.1 530.5,128.8 530.7,129.1 530.8,128.7 530.9,129.1 531.0,128.8 531.2,129.1 531.3,128.7 531.4,129.1 531.5,128.8 531.8,129.1 531.9,128.7 532.0,129.1 532.1,128.8 532.3,129.1 532.4,128.7 532.5,129.1 532.6,128.8 532.8,129.1 532.9,128.7 533.1,129.1 533.2,128.8 533.4,129.1 533.5,128.7 533.6,129.1 533.7,128.8 533.9,129.1 534.0,128.7 534.1,129.1 534.2,128.8 534.5,129.1 534.6,128.7 534.7,129.1 534.8,128.8 535.0,129.1 535.1,128.7 535.2,129.1 535.3,128.8 535.5,129.1 535.6,128.7 535.7,129.1 535.9,128.8 536.1,129.1 536.2,128.7 536.3,129.1 536.4,128.8 536.6,129.1 536.7,128.7 536.8,129.1 536.9,128.8 537.1,129.1 537.3,128.7 537.4,129.1 537.5,128.8 537.7,129.1 537.8,128.7 537.9,129.1 538.0,128.8 538.2,129.1 538.3,128.7 538.4,129.1 538.5,128.8 538.8,129.1 538.9,128.7 539.0,129.1 539.1,128.8 539.3,129.1 539.4,128.7 539.5,129.1 539.6,128.8 539.8,129.1 539.9,128.7 540.0,129.1 540.2,128.8 540.4,129.1 540.5,128.7 540.6,129.1 540.7,128.8 540.9,129.1 541.0,128.7 541.1,129.1 541.2,128.8 541.4,129.1 541.6,128.7 541.7,129.1 541.8,128.8 542.0,129.1 542.1,128.7 542.2,129.1 542.3,128.8 542.5,129.1 542.6,128.7 542.7,129.1 542.8,128.8 543.1,129.1 543.2,128.7 543.3,129.1 543.4,128.8 543.6,129.1 543.7,128.7 543.8,129.1 543.9,128.8 544.1,129.1 544.2,128.7 544.4,129.1 544.5,128.8 544.7,129.1 544.8,128.7 544.9,129.1 545.0,128.8 545.2,129.1 545.3,128.7 545.4,129.1 545.5,128.8 545.8,129.1 545.9,128.7 546.0,129.1 546.1,128.8 546.3,129.1 546.4,128.7 546.5,129.1 546.6,128.8 546.8,129.1 546.9,128.7 547.0,129.1 547.2,128.8 547.4,129.1 547.5,128.7 547.6,129.1 547.7,128.8 547.9,129.1 548.0,128.7 548.1,129.1 548.2,128.8 548.4,129.1 548.6,128.7 548.7,129.1 548.8,128.8 549.0,129.1 549.1,128.7 549.2,129.1 549.3,128.8 549.5,129.1 549.6,128.7 549.7,129.1 549.8,128.8 550.1,129.1 550.2,128.7 550.3,129.1 550.4,128.8 550.6,129.1 550.7,128.7 550.8,129.1 550.9,128.8 551.1,129.1 551.2,128.7 551.4,129.1 551.5,128.8 551.7,129.1 551.8,128.7 551.9,129.1 552.0,128.8 552.2,129.1 552.3,128.7 552.4,129.1 552.5,128.8 552.8,129.1 552.9,128.7 553.0,129.1 553.1,128.8 553.3,129.1 553.4,128.7 553.5,129.1 553.6,128.8 553.8,129.1 553.9,128.7 554.0,129.1 554.2,128.8 554.4,129.1 554.5,128.7 554.6,129.1 554.7,128.8 554.9,129.1 555.0,128.7 555.1,129.1 555.2,128.8 555.4,129.1 555.6,128.7 555.7,129.1 555.8,128.8 556.0,129.1 556.1,128.7 556.2,129.1 556.3,128.8 556.5,129.1 556.6,128.7 556.7,129.1 556.8,128.8 557.1,129.1 557.2,128.7 557.3,129.1 557.4,128.8 557.6,129.1 557.7,128.7 557.8,129.1 557.9,128.8 558.1,129.1 558.2,128.7 558.3,129.1 558.5,128.8 558.7,129.1 558.8,128.7 558.9,129.1 559.0,128.8 559.2,129.1 559.3,128.7 559.4,129.1 559.5,128.8 559.7,129.1 559.9,128.7 560.0,129.1 560.1,128.8 560.3,129.1 560.4,128.7 560.5,129.1 560.6,128.8 560.8,129.1 560.9,128.7 561.0,129.1 561.1,128.8 561.4,129.1 561.5,128.7 561.6,129.1 561.7,128.8 561.9,129.1 562.0,128.7 562.1,129.1 562.2,128.8 562.4,129.1 562.5,128.7 562.7,129.1 562.8,128.8 563.0,129.1 563.1,128.7 563.2,129.1 563.3,128.8 563.5,129.1 563.6,128.7 563.7,129.1 563.8,128.8 564.1,129.1 564.2,128.7 564.3,129.1 564.4,128.8 564.6,129.1 564.7,128.7 564.8,129.1 564.9,128.8 565.1,129.1 565.2,128.7 565.3,129.1 565.5,128.8 565.7,129.1 565.8,128.7 565.9,129.1 566.0,128.8 566.2,129.1 566.3,128.7 566.4,129.1 566.5,128.8 566.7,129.1 566.9,128.7 567.0,129.1 567.1,128.8 567.3,129.1 567.4,128.7 567.5,129.1 567.6,128.8 567.8,129.1 567.9,128.7 568.0,129.1 568.1,128.8 568.4,129.1 568.5,128.7 568.6,129.1 568.7,128.8 568.9,129.1 569.0,128.7 569.1,129.1 569.2,128.8 569.4,129.1 569.5,128.7 569.7,129.1 569.8,128.8 570.0,129.1 570.1,128.7 570.2,129.1 570.3,128.8 570.5,129.1 570.6,128.7 570.7,129.1 570.8,128.8 571.1,129.1 571.2,128.7 571.3,129.1 571.4,128.8 571.6,129.1 571.7,128.7 571.8,129.1 571.9,128.8 572.1,129.1 572.2,128.7 572.3,129.1 572.5,128.8 572.7,129.1 572.8,128.7 572.9,129.1 573.0,128.9 573.2,129.1 573.3,128.7 573.4,129.1 573.5,128.9 573.7,129.1 573.9,128.7 574.0,129.1 574.1,128.9 574.3,129.1 574.4,128.7 574.5,129.1 574.6,128.9 574.8,129.1 574.9,128.7 575.0,129.1 575.1,128.9 575.4,129.1 575.5,128.7 575.6,129.1 575.7,128.9 575.9,129.1 576.0,128.7 576.1,129.1 576.2,128.9 576.4,129.1 576.5,128.7 576.6,129.1 576.8,128.9 577.0,129.1 577.1,128.7 577.2,129.1 577.3,128.9 577.5,129.1 577.6,128.7 577.7,129.1 577.8,128.9 578.0,129.1 578.2,128.7 578.3,129.1 578.4,128.9 578.6,129.1 578.7,128.7 578.8,129.1 578.9,128.9 579.1,129.1 579.2,128.7 579.3,129.1 579.4,128.9 579.7,129.1 579.8,128.7 579.9,129.1 580.0,128.9 580.2,129.1 580.3,128.7 580.4,129.1 580.5,128.9 580.7,129.1 580.8,128.7 581.0,129.1 581.1,128.9 581.3,129.1 581.4,128.7 581.5,129.1 581.6,128.9 581.8,129.1 581.9,128.7 582.0,129.1 582.1,128.9 582.4,129.1 582.5,128.7 582.6,129.1 582.7,128.9 582.9,129.1 583.0,128.7 583.1,129.1 583.2,128.9 583.4,129.1 583.5,128.7 583.6,129.1 583.8,128.9 584.0,129.1 584.1,128.7 584.2,129.1 584.3,128.9 584.5,129.1 584.6,128.7 584.7,129.1 584.8,128.9 585.0,129.1 585.2,128.7 585.3,129.1 585.4,128.9 585.6,129.1 585.7,128.7 585.8,129.1 585.9,128.9 586.1,129.1 586.2,128.7 586.3,129.1 586.4,128.9 586.7,129.1 586.8,128.7 586.9,129.1 587.0,128.9 587.2,129.1 587.3,128.7 587.4,129.1 587.5,128.9 587.7,129.1 587.8,128.7 588.0,129.1 588.1,128.9 588.3,129.1 588.4,128.7 588.5,129.1 588.6,128.9 588.8,129.1 588.9,128.7 589.0,129.1 589.1,128.9 589.4,129.1 589.5,128.7 589.6,129.1 589.7,128.9 589.9,129.1 590.0,128.7 590.1,129.1 590.2,128.9 590.4,129.1 590.5,128.7 590.6,129.1 590.8,128.9 591.0,129.1 591.1,128.7 591.2,129.1 591.3,128.9 591.5,129.1 591.6,128.7 591.7,129.1 591.8,128.9 592.0,129.1 592.2,128.7 592.3,129.1 592.4,128.9 592.6,129.1 592.7,128.7 592.8,129.1 592.9,128.9 593.1,129.1 593.2,128.7 593.3,129.1 593.4,128.9 593.7,129.1 593.8,128.7 593.9,129.1 594.0,128.9 594.2,129.1 594.3,128.7 594.4,129.1 594.5,128.9 594.7,129.1 594.8,128.7 594.9,129.1 595.1,128.9 595.3,129.1 595.4,128.7 595.5,129.1 595.6,128.9 595.8,129.1 595.9,128.7 596.0,129.1 596.1,128.9 596.3,129.1 596.5,128.7 596.6,129.1 596.7,128.9 596.9,129.1 597.0,128.7 597.1,129.1 597.2,128.9 597.4,129.1 597.5,128.7 597.6,129.1 597.7,128.9 598.0,129.1 598.1,128.7 598.2,129.1 598.3,128.9 598.5,129.1 598.6,128.7 598.7,129.1 598.8,128.9 599.0,129.1 599.1,128.7 599.3,129.1 599.5,128.9 599.6,129.1 599.7,128.7 599.8,129.1 600.0,128.9 600.1,129.1 600.2,128.7 600.3,129.1 600.5,128.9 600.7,129.1 600.8,128.7 600.9,129.1 601.1,128.9 601.2,129.1 601.3,128.7 601.4,129.1 601.6,128.9 601.7,129.1 601.8,128.7 601.9,129.1 602.2,128.9 602.3,129.1 602.4,128.7 602.5,129.1 602.7,128.9 602.8,129.1 602.9,128.7 603.0,129.1 603.2,128.9 603.3,129.1 603.5,128.7 603.6,129.1 603.8,128.9 603.9,129.1 604.0,128.7 604.1,129.1 604.3,128.9 604.4,129.1 604.5,128.7 604.6,129.1 604.9,128.9 605.0,129.1 605.1,128.7 605.2,129.1 605.4,128.9 605.5,129.1 605.6,128.7 605.7,129.1 605.9,128.9 606.0,129.1 606.1,128.7 606.3,129.1 606.5,128.9 606.6,129.1 606.7,128.7 606.8,129.1 607.0,128.9 607.1,129.1 607.2,128.7 607.3,129.1 607.5,128.9 607.7,129.1 607.8,128.7 607.9,129.1 608.1,128.9 608.2,129.1 608.3,128.7 608.4,129.1 608.6,128.9 608.7,129.1 608.8,128.7 608.9,129.1 609.2,128.9 609.3,129.1 609.4,128.7 609.5,129.1 609.7,128.9 609.8,129.1 609.9,128.7 610.0,129.1 610.2,128.9 610.3,129.1 610.5,128.7 610.6,129.1 610.8,128.9 610.9,129.1 611.0,128.7 611.1,129.1 611.3,128.9 611.4,129.1 611.5,128.7 611.6,129.1 611.9,128.9 612.0,129.1 612.1,128.7 612.2,129.1 612.4,128.9 612.5,129.1 612.6,128.7 612.7,129.1 612.9,128.9 613.0,129.1 613.1,128.7 613.3,129.1 613.5,128.9 613.6,129.1 613.7,128.7 613.8,129.1 614.0,128.9 614.1,129.1 614.2,128.7 614.3,129.1 614.5,128.9 614.6,129.1 614.8,128.7 614.9,129.1 615.1,128.9 615.2,129.1 615.3,128.7 615.4,129.1 615.6,128.9 615.7,129.1 615.8,128.7 615.9,129.1 616.2,128.9 616.3,129.1 616.4,128.7 616.5,129.1 616.7,128.9 616.8,129.1 616.9,128.7 617.0,129.1 617.2,128.9 617.3,129.1 617.4,128.7 617.6,129.1 617.8,128.9 617.9,129.1 618.0,128.7 618.1,129.1 618.3,128.9 618.4,129.1 618.5,128.7 618.6,129.1 618.8,128.9 619.0,129.1 619.1,128.7 619.2,129.1 619.4,128.9 619.5,129.1 619.6,128.7 619.7,129.1 619.9,128.9 620.0,129.1 620.1,128.7 620.2,129.1 620.5,128.9 620.6,129.1 620.7,128.7 620.8,129.1 621.0,128.9 621.1,129.1 621.2,128.7 621.3,129.1 621.5,128.9 621.6,129.1 621.8,128.7 621.9,129.1 622.1,128.9 622.2,129.1 622.3,128.7 622.4,129.1 622.6,128.9 622.7,129.1 622.8,128.7 622.9,129.1 623.2,128.9 623.3,129.1 623.4,128.7 623.5,129.1 623.7,128.9 623.8,129.1 623.9,128.7 624.0,129.1 624.2,128.9 624.3,129.1 624.4,128.7 624.6,129.1 624.8,128.9 624.9,129.1 625.0,128.7 625.1,129.1 625.3,128.9 625.4,129.1 625.5,128.7 625.6,129.1 625.8,128.9 626.0,129.1 626.1,128.7 626.2,129.1 626.4,128.8 626.5,129.1 626.6,128.7 626.7,129.1 626.9,128.8 627.0,129.1 627.1,128.7 627.2,129.1 627.5,128.8 627.6,129.1 627.7,128.7 627.8,129.1 628.0,128.8 628.1,129.1 628.2,128.7 628.3,129.1 628.5,128.8 628.6,129.1 628.8,128.7 628.9,129.1 629.1,128.8 629.2,129.1 629.3,128.7 629.4,129.1 629.6,128.8 629.7,129.1 629.8,128.7 629.9,129.1 630.2,128.8 630.3,129.1 630.4,128.7 630.5,129.1 630.7,128.8 630.8,129.1 630.9,128.7 631.0,129.1 631.2,128.8 631.3,129.1 631.4,128.7 631.6,129.1 631.8,128.8 631.9,129.1 632.0,128.7 632.1,129.1 632.3,128.8 632.4,129.1 632.5,128.7 632.6,129.1 632.8,128.8 632.9,129.1 633.1,128.7 633.2,129.1 633.4,128.8 633.5,129.1 633.6,128.7 633.7,129.1 633.9,128.8 634.0,129.1 634.1,128.7 634.2,129.1 634.5,128.8 634.6,129.1 634.7,128.7 634.8,129.1 635.0,128.8 635.1,129.1 635.2,128.7 635.3,129.1 635.5,128.8 635.6,129.1 635.7,128.7 635.9,129.1 636.1,128.8 636.2,129.1 636.3,128.7 636.4,129.1 636.6,128.8 636.7,129.1 636.8,128.7 636.9,129.1 637.1,128.8 637.3,129.1 637.4,128.7 637.5,129.1 637.7,128.8 637.8,129.1 637.9,128.7 638.0,129.1 638.2,128.8 638.3,129.1 638.4,128.7 638.5,129.1 638.8,128.8 638.9,129.1 639.0,128.7 639.1,129.1 639.3,128.8 639.4,129.1 639.5,128.7 639.6,129.1 639.8,128.8 639.9,129.1 640.1,128.7 640.2,129.1 640.4,128.8 640.5,129.1 640.6,128.7 640.7,129.1 640.9,128.8 641.0,129.1 641.1,128.7 641.2,129.1 641.5,128.8 641.6,129.1 641.7,128.7 641.8,129.1 642.0,128.8 642.1,129.1 642.2,128.7 642.3,129.1 642.5,128.8 642.6,129.1 642.7,128.7 642.9,129.1 643.1,128.8 643.2,129.1 643.3,128.7 643.4,129.1 643.6,128.8 643.7,129.1 643.8,128.7 643.9,129.1 644.1,128.8 644.3,129.1 644.4,128.7 644.5,129.1 644.7,128.8 644.8,129.1 644.9,128.7 645.0,129.1 645.2,128.8 645.3,129.1 645.4,128.7 645.5,129.1 645.8,128.8 645.9,129.1 646.0,128.7 646.1,129.1 646.3,128.8 646.4,129.1 646.5,128.7 646.6,129.1 646.8,128.8 646.9,129.1 647.1,128.7 647.2,129.1 647.4,128.8 647.5,129.1 647.6,128.7 647.7,129.1 647.9,128.8 648.0,129.1 648.1,128.7 648.2,129.1 648.5,128.8 648.6,129.1 648.7,128.7 648.8,129.1 649.0,128.8 649.1,129.1 649.2,128.7 649.3,129.1 649.5,128.8 649.6,129.1 649.7,128.7 649.9,129.1 650.1,128.8 650.2,129.1 650.3,128.7 650.4,129.1 650.6,128.8 650.7,129.1 650.8,128.7 650.9,129.1 651.1,128.8 651.3,129.1 651.4,128.7 651.5,129.1 651.7,128.8 651.8,129.1 651.9,128.7 652.0,129.1 652.2,128.8 652.3,129.1 652.4,128.7 652.5,129.1 652.8,128.8 652.9,129.1 653.0,128.7 653.1,129.1 653.3,128.8 653.4,129.1 653.5,128.7 653.6,129.1 653.8,128.8 653.9,129.1 654.0,128.7 654.2,129.1 654.4,128.8 654.5,129.1 654.6,128.7 654.7,129.1 654.9,128.8 655.0,129.1 655.1,128.7 655.2,129.1 655.4,128.8 655.6,129.1 655.7,128.7 655.8,129.1 656.0,128.8 656.1,129.1 656.2,128.7 656.3,129.1 656.5,128.8 656.6,129.1 656.7,128.7 656.8,129.1 657.1,128.8 657.2,129.1 657.3,128.7 657.4,129.1 657.6,128.8 657.7,129.1 657.8,128.7 657.9,129.1 658.1,128.8 658.2,129.1 658.4,128.7 658.5,129.1 658.7,128.8 658.8,129.1 658.9,128.7 659.0,129.1 659.2,128.8 659.3,129.1 659.4,128.7 659.5,129.1 659.8,128.8 659.9,129.1 660.0,128.7 660.1,129.1 660.3,128.8 660.4,129.1 660.5,128.7 660.6,129.1 660.8,128.8 660.9,129.1 661.0,128.7 661.2,129.1 661.4,128.8 661.5,129.1 661.6,128.7 661.7,129.1 661.9,128.8 662.0,129.1 662.1,128.7 662.2,129.1 662.4,128.8 662.6,129.1 662.7,128.7 662.8,129.1 663.0,128.8 663.1,129.1 663.2,128.7 663.3,129.1 663.5,128.8 663.6,129.1 663.7,128.7 663.8,129.1 664.1,128.8 664.2,129.1 664.3,128.7 664.4,129.1 664.6,128.8 664.7,129.1 664.8,128.7 664.9,129.1 665.1,128.8 665.2,129.1 665.4,128.7 665.5,129.1 665.7,128.8 665.8,129.1 665.9,128.7 666.0,129.1 666.2,128.8 666.3,129.1 666.4,128.7 666.5,129.1 666.8,128.8 666.9,129.1 667.0,128.7 667.1,129.1 667.3,128.8 667.4,129.1 667.5,128.7 667.6,129.1 667.8,128.8 667.9,129.1 668.0,128.7 668.2,129.1 668.4,128.8 668.5,129.1 668.6,128.7 668.7,129.1 668.9,128.8 669.0,129.1 669.1,128.7 669.2,129.1 669.4,128.8 669.6,129.1 669.7,128.7 669.8,129.1 670.0,128.8 670.1,129.1 670.2,128.7 670.3,129.1 670.5,128.8 670.6,129.1 670.7,128.7 670.8,129.1 671.1,128.8 671.2,129.1 671.3,128.7 671.4,129.1 671.6,128.8 671.7,129.1 671.8,128.7 671.9,129.1 672.1,128.8 672.2,129.1 672.3,128.7 672.5,129.1 672.7,128.8 672.8,129.1 672.9,128.7 673.0,129.1 673.2,128.8 673.3,129.1 673.4,128.7 673.5,129.1 673.7,128.8 673.9,129.1 674.0,128.7 674.1,129.1 674.3,128.8 674.4,129.1 674.5,128.7 674.6,129.1 674.8,128.8 674.9,129.1 675.0,128.7 675.1,129.1 675.4,128.8 675.5,129.1 675.6,128.7 675.7,129.1 675.9,128.8 676.0,129.1 676.1,128.7 676.2,129.1 676.4,128.8 676.5,129.1 676.7,128.7 676.8,129.1 677.0,128.8 677.1,129.1 677.2,128.7 677.3,129.1 677.5,128.8 677.6,129.1 677.7,128.7 677.8,129.1 678.1,128.8 678.2,129.2 678.3,128.7 678.4,129.1 678.6,128.8 678.7,129.2 678.8,128.7 678.9,129.1 679.1,128.8 679.2,129.2 679.3,128.7 679.5,129.1 679.7,128.8 679.8,129.2 679.9,128.7 680.0,129.1 680.1,128.9" fill="none" stroke="#e8358a" stroke-width="1.6" stroke-linejoin="round" />
<rect x="545.52" y="81.9" width="26.92" height="64.3" fill="none" stroke="#231f20" stroke-width="1.3" stroke-dasharray="5,2,1.5,2"/>
<line x1="549.6" y1="81.9" x2="553.8" y2="72.5" stroke="#231f20" stroke-width="1.2" />
<polygon points="555.1,69.6 551.9,73.3 555.4,74.4" fill="#231f20" stroke="none" />
<ellipse cx="666.6" cy="127.8" rx="13.5" ry="4.6" fill="none" stroke="#231f20" stroke-width="1.2" stroke-dasharray="5,2,1.5,2"/>
<line x1="656" y1="124.3" x2="644.6" y2="77.2" stroke="#231f20" stroke-width="1.2" />
<polygon points="643.8,73.6 642.9,77.8 646.4,77.0" fill="#231f20" stroke="none" />
<line x1="529.4" y1="12.8" x2="552.2" y2="12.8" stroke="#b02a2a" stroke-width="1.4" />
<text x="556.2" y="15.9" font-size="8.5" text-anchor="start" fill="#231f20" stroke="#231f20" stroke-width="0.15" font-weight="normal" >0.1 Hz</text>
<line x1="583.4" y1="12.8" x2="606.2" y2="12.8" stroke="#3f84bc" stroke-width="1.4" />
<text x="607" y="15.9" font-size="8.5" text-anchor="start" fill="#231f20" stroke="#231f20" stroke-width="0.15" font-weight="normal" >1 Hz</text>
<line x1="629.4" y1="12.8" x2="652.2" y2="12.8" stroke="#e8358a" stroke-width="1.4" />
<text x="656.4" y="15.9" font-size="8.5" text-anchor="start" fill="#231f20" stroke="#231f20" stroke-width="0.15" font-weight="normal" >10 Hz</text>
<rect x="539.6" y="21.6" width="52.4" height="38.3" fill="#fff" />
<clipPath id="ci1"><rect x="539.6" y="21.6" width="52.39999999999998" height="38.3"/></clipPath>
<polyline points="539.6,40.2 541.4,53.5 544.1,37.0 546.6,53.2 546.7,55.0 549.3,35.6 551.9,55.0 554.6,36.6 557.1,54.8 559.8,35.5 562.3,54.4 565.1,35.4 567.6,53.7 567.7,55.5 570.2,37.6 572.8,55.6 572.9,53.8 575.5,36.7 578.1,53.9 580.7,36.4 583.3,53.8 586.0,33.8 588.6,53.7 588.7,55.4 591.2,34.3 592.0,41.3" fill="none" stroke="#3a7eb8" stroke-width="1.2" stroke-linejoin="round" clip-path="url(#ci1)"/>
<polyline points="539.6,55.0 544.2,54.6 547.3,53.6 550.1,51.7 552.9,48.8 554.7,46.2 555.9,43.7 557.1,39.8 559.4,30.5 560.1,28.9 560.6,28.6 561.2,29.1 561.7,30.3 564.1,39.5 565.5,43.0 567.5,45.6 571.8,49.6 573.9,51.3 575.9,52.5 577.8,53.4 579.9,54.0 584.8,54.8 592.0,55.0" fill="none" stroke="#a82828" stroke-width="1.2" stroke-linejoin="round" clip-path="url(#ci1)"/>
<line x1="539.6" y1="48.14" x2="592" y2="48.14" stroke="#e8358a" stroke-width="1.2" />
<line x1="539.6" y1="21.6" x2="592" y2="21.6" stroke="#231f20" stroke-width="0.8" />
<line x1="539.6" y1="21.6" x2="539.6" y2="59.9" stroke="#231f20" stroke-width="0.8" />
<line x1="592" y1="21.6" x2="592" y2="59.9" stroke="#231f20" stroke-width="0.8" />
<line x1="539.6" y1="59.9" x2="592" y2="59.9" stroke="#888" stroke-width="1.0" />
<line x1="537" y1="55.3" x2="539.6" y2="55.3" stroke="#231f20" stroke-width="0.8" />
<text x="535.4" y="58.5" font-size="8.5" text-anchor="end" fill="#231f20" stroke="#231f20" stroke-width="0.15" font-weight="normal" >0</text>
<line x1="537" y1="37.4" x2="539.6" y2="37.4" stroke="#231f20" stroke-width="0.8" />
<text x="535.4" y="40.6" font-size="8.5" text-anchor="end" fill="#231f20" stroke="#231f20" stroke-width="0.15" font-weight="normal" >200</text>
<line x1="538" y1="46.35" x2="539.6" y2="46.35" stroke="#231f20" stroke-width="0.8" />
<line x1="538" y1="28.45" x2="539.6" y2="28.45" stroke="#231f20" stroke-width="0.8" />
<line x1="539.6" y1="59.9" x2="539.6" y2="62.9" stroke="#231f20" stroke-width="0.8" />
<text x="539.6" y="72.3" font-size="8.5" text-anchor="middle" fill="#231f20" stroke="#231f20" stroke-width="0.15" font-weight="normal" >10</text>
<line x1="565.8" y1="59.9" x2="565.8" y2="62.9" stroke="#231f20" stroke-width="0.8" />
<text x="565.8" y="72.3" font-size="8.5" text-anchor="middle" fill="#231f20" stroke="#231f20" stroke-width="0.15" font-weight="normal" >15</text>
<line x1="592" y1="59.9" x2="592" y2="62.9" stroke="#231f20" stroke-width="0.8" />
<text x="592" y="72.3" font-size="8.5" text-anchor="middle" fill="#231f20" stroke="#231f20" stroke-width="0.15" font-weight="normal" >20</text>
<line x1="552.7" y1="59.9" x2="552.7" y2="61.9" stroke="#231f20" stroke-width="0.8" />
<line x1="578.9" y1="59.9" x2="578.9" y2="61.9" stroke="#231f20" stroke-width="0.8" />
<rect x="615.5" y="22.4" width="53" height="38.3" fill="#fff" />
<polyline points="615.5,45.2 618.1,38.7 620.8,45.8 623.5,38.9 626.1,45.1 628.8,38.9 631.4,44.5 634.0,39.1 636.7,45.0 639.4,38.8 642.0,44.1 644.6,39.6 647.3,44.0 650.0,39.0 652.6,44.7 655.2,40.2 657.9,45.0 660.5,39.1 663.2,44.4 665.9,39.7 668.5,43.6" fill="none" stroke="#e8358a" stroke-width="0.9" stroke-linejoin="round" />
<line x1="615.5" y1="22.4" x2="668.5" y2="22.4" stroke="#231f20" stroke-width="0.8" />
<line x1="615.5" y1="22.4" x2="615.5" y2="60.7" stroke="#231f20" stroke-width="0.8" />
<line x1="668.5" y1="22.4" x2="668.5" y2="60.7" stroke="#231f20" stroke-width="0.8" />
<line x1="615.5" y1="60.7" x2="668.5" y2="60.7" stroke="#231f20" stroke-width="0.9" />
<line x1="613" y1="41.4" x2="615.5" y2="41.4" stroke="#231f20" stroke-width="0.8" />
<text x="612.3" y="44.6" font-size="8.5" text-anchor="end" fill="#231f20" stroke="#231f20" stroke-width="0.15" font-weight="normal" >80</text>
<line x1="615.5" y1="60.7" x2="615.5" y2="63.7" stroke="#231f20" stroke-width="0.8" />
<text x="616.5" y="72.6" font-size="8.3" text-anchor="middle" fill="#231f20" stroke="#231f20" stroke-width="0.15" font-weight="normal" >55.0</text>
<line x1="642" y1="60.7" x2="642" y2="63.7" stroke="#231f20" stroke-width="0.8" />
<text x="643" y="72.6" font-size="8.3" text-anchor="middle" fill="#231f20" stroke="#231f20" stroke-width="0.15" font-weight="normal" >55.5</text>
<line x1="668.5" y1="60.7" x2="668.5" y2="63.7" stroke="#231f20" stroke-width="0.8" />
<text x="669.5" y="72.6" font-size="8.3" text-anchor="middle" fill="#231f20" stroke="#231f20" stroke-width="0.15" font-weight="normal" >56.0</text>
<line x1="628.75" y1="60.7" x2="628.75" y2="62.5" stroke="#231f20" stroke-width="0.8" />
<line x1="655.25" y1="60.7" x2="655.25" y2="62.5" stroke="#231f20" stroke-width="0.8" />
<line x1="518.6" y1="5.6" x2="680.1" y2="5.6" stroke="#231f20" stroke-width="1" />
<line x1="518.6" y1="5.6" x2="518.6" y2="147.9" stroke="#231f20" stroke-width="1" />
<line x1="680.1" y1="5.6" x2="680.1" y2="147.9" stroke="#231f20" stroke-width="1" />
<line x1="518.6" y1="147.9" x2="680.1" y2="147.9" stroke="#231f20" stroke-width="1.2" />
<line x1="514.6" y1="143.7" x2="518.6" y2="143.7" stroke="#231f20" stroke-width="0.8" />
<text x="508.6" y="146.9" font-size="9" text-anchor="end" fill="#231f20" stroke="#231f20" stroke-width="0.15" font-weight="normal" >0</text>
<line x1="514.6" y1="106.8" x2="518.6" y2="106.8" stroke="#231f20" stroke-width="0.8" />
<text x="508.6" y="110" font-size="9" text-anchor="end" fill="#231f20" stroke="#231f20" stroke-width="0.15" font-weight="normal" >200</text>
<line x1="514.6" y1="69.9" x2="518.6" y2="69.9" stroke="#231f20" stroke-width="0.8" />
<text x="508.6" y="73.1" font-size="9" text-anchor="end" fill="#231f20" stroke="#231f20" stroke-width="0.15" font-weight="normal" >400</text>
<line x1="514.6" y1="33" x2="518.6" y2="33" stroke="#231f20" stroke-width="0.8" />
<text x="508.6" y="36.2" font-size="9" text-anchor="end" fill="#231f20" stroke="#231f20" stroke-width="0.15" font-weight="normal" >600</text>
<line x1="516.6" y1="125.25" x2="518.6" y2="125.25" stroke="#231f20" stroke-width="0.8" />
<line x1="516.6" y1="88.35" x2="518.6" y2="88.35" stroke="#231f20" stroke-width="0.8" />
<line x1="516.6" y1="51.45" x2="518.6" y2="51.45" stroke="#231f20" stroke-width="0.8" />
<line x1="516.6" y1="14.55" x2="518.6" y2="14.55" stroke="#231f20" stroke-width="0.8" />
<line x1="518.6" y1="147.9" x2="518.6" y2="151.9" stroke="#231f20" stroke-width="0.8" />
<text x="518.6" y="165.3" font-size="9" text-anchor="middle" fill="#231f20" stroke="#231f20" stroke-width="0.15" font-weight="normal" >0</text>
<line x1="545.52" y1="147.9" x2="545.52" y2="151.9" stroke="#231f20" stroke-width="0.8" />
<text x="545.52" y="165.3" font-size="9" text-anchor="middle" fill="#231f20" stroke="#231f20" stroke-width="0.15" font-weight="normal" >10</text>
<line x1="572.43" y1="147.9" x2="572.43" y2="151.9" stroke="#231f20" stroke-width="0.8" />
<text x="572.43" y="165.3" font-size="9" text-anchor="middle" fill="#231f20" stroke="#231f20" stroke-width="0.15" font-weight="normal" >20</text>
<line x1="599.35" y1="147.9" x2="599.35" y2="151.9" stroke="#231f20" stroke-width="0.8" />
<text x="599.35" y="165.3" font-size="9" text-anchor="middle" fill="#231f20" stroke="#231f20" stroke-width="0.15" font-weight="normal" >30</text>
<line x1="626.27" y1="147.9" x2="626.27" y2="151.9" stroke="#231f20" stroke-width="0.8" />
<text x="626.27" y="165.3" font-size="9" text-anchor="middle" fill="#231f20" stroke="#231f20" stroke-width="0.15" font-weight="normal" >40</text>
<line x1="653.18" y1="147.9" x2="653.18" y2="151.9" stroke="#231f20" stroke-width="0.8" />
<text x="653.18" y="165.3" font-size="9" text-anchor="middle" fill="#231f20" stroke="#231f20" stroke-width="0.15" font-weight="normal" >50</text>
<line x1="680.1" y1="147.9" x2="680.1" y2="151.9" stroke="#231f20" stroke-width="0.8" />
<text x="680.1" y="165.3" font-size="9" text-anchor="middle" fill="#231f20" stroke="#231f20" stroke-width="0.15" font-weight="normal" >60</text>
<line x1="532.06" y1="147.9" x2="532.06" y2="149.9" stroke="#231f20" stroke-width="0.8" />
<line x1="558.98" y1="147.9" x2="558.98" y2="149.9" stroke="#231f20" stroke-width="0.8" />
<line x1="585.89" y1="147.9" x2="585.89" y2="149.9" stroke="#231f20" stroke-width="0.8" />
<line x1="612.81" y1="147.9" x2="612.81" y2="149.9" stroke="#231f20" stroke-width="0.8" />
<line x1="639.73" y1="147.9" x2="639.73" y2="149.9" stroke="#231f20" stroke-width="0.8" />
<line x1="666.64" y1="147.9" x2="666.64" y2="149.9" stroke="#231f20" stroke-width="0.8" />
<text x="600" y="178.5" font-size="9.8" text-anchor="middle" fill="#231f20" stroke="#231f20" stroke-width="0.15" font-weight="normal" >Time(s)</text>
<text x="483.5" y="79.5" font-size="9.5" text-anchor="middle" fill="#231f20" stroke="#231f20" stroke-width="0.15" font-weight="normal" transform="rotate(-90 483.5 79.5)" >(<tspan font-style="italic">R</tspan>−<tspan font-style="italic">R</tspan><tspan font-size="72%" dy="2.2">0</tspan><tspan dy="-2.2">)/</tspan><tspan font-style="italic">R</tspan><tspan font-size="72%" dy="2.2">0</tspan><tspan dy="-2.2"> (%)</tspan></text>
<text x="474.3" y="11.7" font-size="16.5" text-anchor="start" fill="#000" stroke="#000" stroke-width="0.1" font-weight="bold" >c</text>
<rect x="49.3" y="198" width="16.7" height="145.2" fill="#ecf8de" />
<polygon points="49.4,244.4 66.9,244.4 67.7,242.7 68.4,239.7 71.7,221.6 72.7,218.4 73.4,217.5 73.8,217.6 74.3,218.2 75.3,220.5 78.6,233.5 79.7,236.9 80.2,238.0 81.0,238.6 81.5,240.0 82.1,240.7 82.6,240.4 83.4,238.6 83.6,240.7 84.3,239.5 85.2,236.1 88.5,218.3 89.3,215.9 89.7,215.2 90.0,214.9 90.4,215.0 90.9,215.7 91.9,218.0 95.0,230.6 96.1,234.2 96.7,235.5 97.6,236.4 98.1,237.8 98.7,238.5 99.3,238.1 100.0,236.4 100.2,238.5 100.5,238.1 101.1,236.8 102.2,232.3 105.0,218.1 105.9,215.0 106.3,214.4 106.6,214.1 107.0,214.3 107.6,215.0 108.5,217.2 111.6,229.4 112.7,232.9 113.3,234.1 114.2,235.0 114.8,236.4 115.3,237.0 115.9,236.6 116.6,234.9 116.8,237.0 117.2,236.6 117.7,235.3 118.8,231.1 121.6,217.5 122.5,214.6 122.9,214.0 123.3,213.8 123.6,213.9 124.2,214.6 125.1,216.8 129.2,231.8 129.9,233.4 130.8,234.3 131.8,236.2 132.3,236.1 133.0,234.6 133.2,236.3 133.4,236.2 133.8,235.8 134.3,234.6 135.4,230.4 138.2,217.3 139.1,214.5 139.5,214.0 139.9,213.8 140.2,213.9 140.8,214.6 141.7,216.9 144.9,228.9 146.2,232.7 146.7,233.7 147.3,234.1 148.4,236.2 148.9,236.1 149.7,234.5 149.8,236.3 150.0,236.2 150.8,235.0 151.5,232.6 155.0,215.9 155.8,213.8 156.1,213.2 156.5,213.0 156.9,213.2 157.4,214.0 158.3,216.3 161.5,228.5 162.8,232.3 163.3,233.3 163.9,233.7 165.0,235.8 165.5,235.7 166.3,234.1 166.5,235.9 166.8,235.7 167.2,235.0 168.1,232.1 171.6,215.1 172.4,213.0 172.7,212.5 173.1,212.3 173.5,212.5 174.0,213.3 175.0,215.7 178.1,228.3 179.4,232.3 179.9,233.3 180.5,233.7 181.2,235.4 181.6,235.9 182.2,235.7 182.9,234.1 183.1,235.9 183.8,235.0 184.7,231.9 188.3,214.7 189.0,212.6 189.4,212.1 189.7,211.9 190.1,212.1 190.7,213.0 191.6,215.4 194.7,228.0 195.8,231.6 196.6,233.0 197.1,233.3 197.9,235.1 198.2,235.5 198.8,235.3 199.5,233.6 199.7,235.5 200.4,234.6 201.4,231.5 204.9,214.3 205.6,212.2 206.0,211.7 206.4,211.6 206.7,211.8 207.3,212.6 208.2,215.1 211.3,227.7 212.4,231.3 213.2,232.6 213.7,233.0 214.7,235.0 215.0,235.2 215.4,234.9 215.4,244.4 49.4,244.4" fill="url(#gMag)" stroke="none" />
<polyline points="49.4,244.4 66.9,244.4 67.7,242.7 68.4,239.7 71.7,221.6 72.7,218.4 73.4,217.5 73.8,217.6 74.3,218.2 75.3,220.5 78.6,233.5 79.7,236.9 80.2,238.0 81.0,238.6 81.5,240.0 82.1,240.7 82.6,240.4 83.4,238.6 83.6,240.7 84.3,239.5 85.2,236.1 88.5,218.3 89.3,215.9 89.7,215.2 90.0,214.9 90.4,215.0 90.9,215.7 91.9,218.0 95.0,230.6 96.1,234.2 96.7,235.5 97.6,236.4 98.1,237.8 98.7,238.5 99.3,238.1 100.0,236.4 100.2,238.5 100.5,238.1 101.1,236.8 102.2,232.3 105.0,218.1 105.9,215.0 106.3,214.4 106.6,214.1 107.0,214.3 107.6,215.0 108.5,217.2 111.6,229.4 112.7,232.9 113.3,234.1 114.2,235.0 114.8,236.4 115.3,237.0 115.9,236.6 116.6,234.9 116.8,237.0 117.2,236.6 117.7,235.3 118.8,231.1 121.6,217.5 122.5,214.6 122.9,214.0 123.3,213.8 123.6,213.9 124.2,214.6 125.1,216.8 129.2,231.8 129.9,233.4 130.8,234.3 131.8,236.2 132.3,236.1 133.0,234.6 133.2,236.3 133.4,236.2 133.8,235.8 134.3,234.6 135.4,230.4 138.2,217.3 139.1,214.5 139.5,214.0 139.9,213.8 140.2,213.9 140.8,214.6 141.7,216.9 144.9,228.9 146.2,232.7 146.7,233.7 147.3,234.1 148.4,236.2 148.9,236.1 149.7,234.5 149.8,236.3 150.0,236.2 150.8,235.0 151.5,232.6 155.0,215.9 155.8,213.8 156.1,213.2 156.5,213.0 156.9,213.2 157.4,214.0 158.3,216.3 161.5,228.5 162.8,232.3 163.3,233.3 163.9,233.7 165.0,235.8 165.5,235.7 166.3,234.1 166.5,235.9 166.8,235.7 167.2,235.0 168.1,232.1 171.6,215.1 172.4,213.0 172.7,212.5 173.1,212.3 173.5,212.5 174.0,213.3 175.0,215.7 178.1,228.3 179.4,232.3 179.9,233.3 180.5,233.7 181.2,235.4 181.6,235.9 182.2,235.7 182.9,234.1 183.1,235.9 183.8,235.0 184.7,231.9 188.3,214.7 189.0,212.6 189.4,212.1 189.7,211.9 190.1,212.1 190.7,213.0 191.6,215.4 194.7,228.0 195.8,231.6 196.6,233.0 197.1,233.3 197.9,235.1 198.2,235.5 198.8,235.3 199.5,233.6 199.7,235.5 200.4,234.6 201.4,231.5 204.9,214.3 205.6,212.2 206.0,211.7 206.4,211.6 206.7,211.8 207.3,212.6 208.2,215.1 211.3,227.7 212.4,231.3 213.2,232.6 213.7,233.0 214.7,235.0 215.0,235.2 215.4,234.9" fill="none" stroke="#e23ef2" stroke-width="1.3" stroke-linejoin="round" />
<polygon points="49.4,286.6 66.7,286.6 68.1,285.6 68.9,284.3 69.6,281.9 71.7,265.9 72.1,264.1 72.4,263.9 73.1,264.3 73.8,266.0 76.0,277.3 77.2,281.0 78.1,282.1 79.0,282.8 80.6,283.3 82.9,283.7 84.2,283.8 84.8,283.7 85.4,283.2 86.0,281.9 86.8,277.8 88.2,267.1 88.6,265.1 88.9,264.6 89.6,264.9 90.2,266.3 92.6,277.5 93.3,279.8 94.1,281.5 95.2,282.6 96.9,283.2 100.5,283.8 101.2,283.8 101.7,283.5 102.4,282.2 103.0,280.1 104.8,266.4 105.2,264.4 105.5,263.9 106.2,264.3 106.9,265.8 109.1,276.8 110.3,280.7 111.0,281.8 112.0,282.6 113.2,283.1 115.0,283.5 116.8,283.8 117.8,283.8 118.5,283.3 119.0,282.2 120.0,277.6 121.4,266.9 121.8,265.0 122.1,264.6 122.8,264.9 123.5,266.4 125.8,277.6 126.5,279.9 127.3,281.5 128.5,282.6 130.0,283.2 133.4,283.8 134.3,283.8 134.8,283.6 135.5,282.5 136.2,280.0 138.0,266.7 138.4,264.8 138.7,264.4 139.4,264.8 140.1,266.3 142.4,277.6 143.1,279.9 143.8,281.3 144.8,282.4 146.2,283.1 149.6,283.8 151.2,283.7 152.0,282.8 152.7,280.6 154.6,266.4 155.0,264.5 155.3,264.2 156.0,264.5 156.7,266.1 158.8,276.4 159.7,279.9 160.9,281.9 162.2,282.9 164.3,283.5 167.1,283.8 167.9,283.6 168.6,282.8 169.2,281.2 169.7,278.3 171.2,266.8 171.7,265.0 171.9,264.7 172.6,265.1 173.3,266.7 175.7,277.9 176.4,280.0 177.0,281.4 178.0,282.5 179.5,283.2 183.1,283.8 184.5,283.6 185.2,282.8 185.9,280.5 187.8,266.4 188.3,264.7 188.5,264.4 189.2,264.8 189.9,266.5 192.1,277.3 192.8,279.6 193.7,281.4 194.6,282.5 195.9,283.1 198.9,283.7 200.7,283.8 201.3,283.5 201.7,283.0 202.4,281.0 203.1,277.0 204.5,266.1 204.9,264.4 205.2,264.2 205.8,264.6 206.5,266.3 208.8,277.2 210.0,280.9 210.8,282.1 211.8,282.8 213.2,283.2 215.4,283.7 215.4,286.6 49.4,286.6" fill="url(#gTeal)" stroke="none" />
<polyline points="49.4,286.6 66.7,286.6 68.1,285.6 68.9,284.3 69.6,281.9 71.7,265.9 72.1,264.1 72.4,263.9 73.1,264.3 73.8,266.0 76.0,277.3 77.2,281.0 78.1,282.1 79.0,282.8 80.6,283.3 82.9,283.7 84.2,283.8 84.8,283.7 85.4,283.2 86.0,281.9 86.8,277.8 88.2,267.1 88.6,265.1 88.9,264.6 89.6,264.9 90.2,266.3 92.6,277.5 93.3,279.8 94.1,281.5 95.2,282.6 96.9,283.2 100.5,283.8 101.2,283.8 101.7,283.5 102.4,282.2 103.0,280.1 104.8,266.4 105.2,264.4 105.5,263.9 106.2,264.3 106.9,265.8 109.1,276.8 110.3,280.7 111.0,281.8 112.0,282.6 113.2,283.1 115.0,283.5 116.8,283.8 117.8,283.8 118.5,283.3 119.0,282.2 120.0,277.6 121.4,266.9 121.8,265.0 122.1,264.6 122.8,264.9 123.5,266.4 125.8,277.6 126.5,279.9 127.3,281.5 128.5,282.6 130.0,283.2 133.4,283.8 134.3,283.8 134.8,283.6 135.5,282.5 136.2,280.0 138.0,266.7 138.4,264.8 138.7,264.4 139.4,264.8 140.1,266.3 142.4,277.6 143.1,279.9 143.8,281.3 144.8,282.4 146.2,283.1 149.6,283.8 151.2,283.7 152.0,282.8 152.7,280.6 154.6,266.4 155.0,264.5 155.3,264.2 156.0,264.5 156.7,266.1 158.8,276.4 159.7,279.9 160.9,281.9 162.2,282.9 164.3,283.5 167.1,283.8 167.9,283.6 168.6,282.8 169.2,281.2 169.7,278.3 171.2,266.8 171.7,265.0 171.9,264.7 172.6,265.1 173.3,266.7 175.7,277.9 176.4,280.0 177.0,281.4 178.0,282.5 179.5,283.2 183.1,283.8 184.5,283.6 185.2,282.8 185.9,280.5 187.8,266.4 188.3,264.7 188.5,264.4 189.2,264.8 189.9,266.5 192.1,277.3 192.8,279.6 193.7,281.4 194.6,282.5 195.9,283.1 198.9,283.7 200.7,283.8 201.3,283.5 201.7,283.0 202.4,281.0 203.1,277.0 204.5,266.1 204.9,264.4 205.2,264.2 205.8,264.6 206.5,266.3 208.8,277.2 210.0,280.9 210.8,282.1 211.8,282.8 213.2,283.2 215.4,283.7" fill="none" stroke="#3a74a8" stroke-width="1.3" stroke-linejoin="round" />
<polygon points="49.4,299.4 66.7,299.4 67.0,310.4 67.7,312.7 67.9,314.2 68.2,313.6 68.9,316.6 69.1,315.7 69.3,316.1 70.3,319.0 70.8,316.3 71.0,317.3 71.2,315.8 72.0,321.5 72.2,320.6 72.4,322.3 72.7,322.4 73.1,323.7 73.6,320.9 73.9,321.3 74.1,319.3 74.6,323.2 74.8,323.1 75.0,324.7 75.3,322.5 75.5,323.2 75.8,322.4 76.0,322.2 76.2,320.9 76.7,320.0 76.9,316.9 77.2,317.2 77.4,314.7 77.7,314.8 78.6,309.1 79.8,304.0 80.3,302.7 81.0,301.8 81.7,300.2 82.4,299.4 82.6,300.3 83.1,300.7 83.8,302.5 84.5,303.4 85.3,305.0 87.4,312.9 87.6,312.6 88.6,316.4 88.8,316.5 89.1,318.4 89.5,317.0 89.8,317.7 90.0,315.5 90.2,316.0 91.2,324.1 91.4,323.1 91.7,324.2 91.9,324.1 92.4,321.2 92.6,321.2 93.1,325.7 93.6,324.3 93.8,324.8 94.5,320.3 94.8,319.9 95.5,313.2 95.7,312.6 96.9,305.3 97.4,303.6 97.8,302.9 98.6,300.9 99.0,300.3 99.7,301.0 100.5,302.9 101.2,303.7 101.9,305.3 104.3,314.3 104.5,314.4 105.2,317.7 105.4,316.3 105.9,318.0 106.6,315.7 106.9,316.3 107.8,324.5 108.1,324.3 108.3,324.9 108.8,323.9 109.0,322.3 109.5,326.9 110.0,326.5 110.2,326.6 110.4,324.9 110.7,325.7 111.9,317.9 112.8,309.9 113.8,304.6 115.2,301.1 115.7,300.6 116.4,301.3 117.1,303.2 117.8,304.0 118.5,305.6 120.6,313.2 120.9,313.0 121.1,313.6 121.8,317.3 122.1,316.0 122.3,317.4 122.5,317.1 122.8,318.9 123.3,316.2 123.7,318.7 124.4,325.4 124.7,325.4 124.9,326.4 125.2,325.1 125.4,325.1 125.6,324.0 125.9,327.0 126.3,328.0 126.6,330.0 127.3,325.2 127.8,323.7 128.2,318.5 128.5,316.8 128.7,316.8 129.2,312.1 130.1,305.9 130.6,304.1 131.1,303.3 131.6,301.8 132.0,301.0 132.3,300.8 133.0,301.6 133.7,303.6 134.4,304.3 134.9,305.2 137.3,313.4 137.7,316.1 138.0,315.8 138.2,317.1 138.5,315.9 138.9,318.4 139.2,317.6 139.4,318.1 139.6,317.0 140.1,318.8 141.3,327.3 141.8,324.2 142.0,323.9 142.3,324.0 143.0,330.2 143.2,328.1 143.4,328.9 143.7,326.7 143.9,326.6 144.2,324.1 144.6,322.5 145.3,314.8 145.6,314.4 146.8,306.0 147.2,304.3 147.7,303.5 148.2,302.0 148.9,301.1 149.6,301.9 150.3,304.0 151.0,304.6 151.8,306.2 153.9,313.5 154.1,314.2 154.4,314.0 154.6,316.7 154.8,316.1 155.1,316.8 155.6,316.4 155.8,318.2 156.0,317.1 156.5,317.1 156.7,319.4 157.0,319.5 157.7,326.7 157.9,325.5 158.2,327.3 158.6,326.2 158.9,324.8 159.4,329.1 159.8,330.8 160.1,328.5 160.3,328.0 161.5,321.1 162.2,313.8 163.4,306.2 163.9,304.5 164.3,303.7 164.8,302.2 165.5,301.3 166.2,302.2 167.0,304.2 167.7,304.8 168.4,306.4 170.3,312.9 170.5,312.9 171.2,316.5 171.9,317.0 172.2,316.5 172.4,318.8 172.7,317.6 173.1,316.9 173.4,317.8 174.3,326.4 174.8,326.3 175.0,325.7 175.3,326.5 175.5,325.3 176.0,329.8 176.2,330.0 176.7,328.4 176.9,329.8 177.9,323.2 178.1,320.3 178.4,319.5 178.8,313.5 180.0,306.4 180.5,304.7 181.4,302.4 182.2,301.6 182.9,302.5 183.6,304.5 184.3,305.1 185.0,306.7 186.9,313.1 187.1,313.2 187.6,316.3 187.9,314.8 188.3,317.7 188.6,317.7 188.8,317.3 189.0,317.3 189.3,318.1 189.5,316.0 190.2,320.2 190.5,324.3 190.9,327.6 191.2,326.9 191.4,327.3 191.9,324.8 192.8,331.3 193.1,331.1 193.8,328.0 194.0,324.6 194.3,325.2 194.7,319.3 195.0,317.9 195.2,317.6 195.5,314.5 196.4,307.8 196.9,305.6 198.3,302.2 198.8,301.9 199.3,302.4 200.2,304.7 200.7,305.1 201.4,306.4 203.5,313.2 203.8,315.1 204.0,314.5 204.2,314.9 204.7,317.8 205.0,316.9 205.2,318.4 205.7,317.9 205.9,316.4 206.4,318.2 206.6,317.9 207.3,326.1 207.6,326.8 208.0,325.4 208.3,325.5 208.5,323.8 209.0,325.6 209.5,330.2 209.7,328.4 209.9,328.9 210.2,325.8 211.1,322.1 211.4,318.5 213.3,306.6 214.7,302.9 215.2,302.2 215.4,302.4 215.4,299.4 49.4,299.4" fill="url(#gPink)" stroke="none" />
<polyline points="49.4,299.4 66.7,299.4 67.0,310.4 67.7,312.7 67.9,314.2 68.2,313.6 68.9,316.6 69.1,315.7 69.3,316.1 70.3,319.0 70.8,316.3 71.0,317.3 71.2,315.8 72.0,321.5 72.2,320.6 72.4,322.3 72.7,322.4 73.1,323.7 73.6,320.9 73.9,321.3 74.1,319.3 74.6,323.2 74.8,323.1 75.0,324.7 75.3,322.5 75.5,323.2 75.8,322.4 76.0,322.2 76.2,320.9 76.7,320.0 76.9,316.9 77.2,317.2 77.4,314.7 77.7,314.8 78.6,309.1 79.8,304.0 80.3,302.7 81.0,301.8 81.7,300.2 82.4,299.4 82.6,300.3 83.1,300.7 83.8,302.5 84.5,303.4 85.3,305.0 87.4,312.9 87.6,312.6 88.6,316.4 88.8,316.5 89.1,318.4 89.5,317.0 89.8,317.7 90.0,315.5 90.2,316.0 91.2,324.1 91.4,323.1 91.7,324.2 91.9,324.1 92.4,321.2 92.6,321.2 93.1,325.7 93.6,324.3 93.8,324.8 94.5,320.3 94.8,319.9 95.5,313.2 95.7,312.6 96.9,305.3 97.4,303.6 97.8,302.9 98.6,300.9 99.0,300.3 99.7,301.0 100.5,302.9 101.2,303.7 101.9,305.3 104.3,314.3 104.5,314.4 105.2,317.7 105.4,316.3 105.9,318.0 106.6,315.7 106.9,316.3 107.8,324.5 108.1,324.3 108.3,324.9 108.8,323.9 109.0,322.3 109.5,326.9 110.0,326.5 110.2,326.6 110.4,324.9 110.7,325.7 111.9,317.9 112.8,309.9 113.8,304.6 115.2,301.1 115.7,300.6 116.4,301.3 117.1,303.2 117.8,304.0 118.5,305.6 120.6,313.2 120.9,313.0 121.1,313.6 121.8,317.3 122.1,316.0 122.3,317.4 122.5,317.1 122.8,318.9 123.3,316.2 123.7,318.7 124.4,325.4 124.7,325.4 124.9,326.4 125.2,325.1 125.4,325.1 125.6,324.0 125.9,327.0 126.3,328.0 126.6,330.0 127.3,325.2 127.8,323.7 128.2,318.5 128.5,316.8 128.7,316.8 129.2,312.1 130.1,305.9 130.6,304.1 131.1,303.3 131.6,301.8 132.0,301.0 132.3,300.8 133.0,301.6 133.7,303.6 134.4,304.3 134.9,305.2 137.3,313.4 137.7,316.1 138.0,315.8 138.2,317.1 138.5,315.9 138.9,318.4 139.2,317.6 139.4,318.1 139.6,317.0 140.1,318.8 141.3,327.3 141.8,324.2 142.0,323.9 142.3,324.0 143.0,330.2 143.2,328.1 143.4,328.9 143.7,326.7 143.9,326.6 144.2,324.1 144.6,322.5 145.3,314.8 145.6,314.4 146.8,306.0 147.2,304.3 147.7,303.5 148.2,302.0 148.9,301.1 149.6,301.9 150.3,304.0 151.0,304.6 151.8,306.2 153.9,313.5 154.1,314.2 154.4,314.0 154.6,316.7 154.8,316.1 155.1,316.8 155.6,316.4 155.8,318.2 156.0,317.1 156.5,317.1 156.7,319.4 157.0,319.5 157.7,326.7 157.9,325.5 158.2,327.3 158.6,326.2 158.9,324.8 159.4,329.1 159.8,330.8 160.1,328.5 160.3,328.0 161.5,321.1 162.2,313.8 163.4,306.2 163.9,304.5 164.3,303.7 164.8,302.2 165.5,301.3 166.2,302.2 167.0,304.2 167.7,304.8 168.4,306.4 170.3,312.9 170.5,312.9 171.2,316.5 171.9,317.0 172.2,316.5 172.4,318.8 172.7,317.6 173.1,316.9 173.4,317.8 174.3,326.4 174.8,326.3 175.0,325.7 175.3,326.5 175.5,325.3 176.0,329.8 176.2,330.0 176.7,328.4 176.9,329.8 177.9,323.2 178.1,320.3 178.4,319.5 178.8,313.5 180.0,306.4 180.5,304.7 181.4,302.4 182.2,301.6 182.9,302.5 183.6,304.5 184.3,305.1 185.0,306.7 186.9,313.1 187.1,313.2 187.6,316.3 187.9,314.8 188.3,317.7 188.6,317.7 188.8,317.3 189.0,317.3 189.3,318.1 189.5,316.0 190.2,320.2 190.5,324.3 190.9,327.6 191.2,326.9 191.4,327.3 191.9,324.8 192.8,331.3 193.1,331.1 193.8,328.0 194.0,324.6 194.3,325.2 194.7,319.3 195.0,317.9 195.2,317.6 195.5,314.5 196.4,307.8 196.9,305.6 198.3,302.2 198.8,301.9 199.3,302.4 200.2,304.7 200.7,305.1 201.4,306.4 203.5,313.2 203.8,315.1 204.0,314.5 204.2,314.9 204.7,317.8 205.0,316.9 205.2,318.4 205.7,317.9 205.9,316.4 206.4,318.2 206.6,317.9 207.3,326.1 207.6,326.8 208.0,325.4 208.3,325.5 208.5,323.8 209.0,325.6 209.5,330.2 209.7,328.4 209.9,328.9 210.2,325.8 211.1,322.1 211.4,318.5 213.3,306.6 214.7,302.9 215.2,302.2 215.4,302.4" fill="none" stroke="#f36a6a" stroke-width="1.1" stroke-linejoin="round" />
<line x1="49.3" y1="198" x2="216" y2="198" stroke="#231f20" stroke-width="1" />
<line x1="49.3" y1="198" x2="49.3" y2="343.2" stroke="#231f20" stroke-width="1" />
<line x1="216" y1="198" x2="216" y2="343.2" stroke="#231f20" stroke-width="1" />
<line x1="49.3" y1="246.5" x2="216" y2="246.5" stroke="#231f20" stroke-width="1.3" />
<line x1="49.3" y1="295" x2="216" y2="295" stroke="#444" stroke-width="1.3" />
<line x1="49.3" y1="343.2" x2="216" y2="343.2" stroke="#231f20" stroke-width="1.2" />
<rect x="168.5" y="199.3" width="22.4" height="10.5" fill="url(#gMag)" stroke="#231f20" stroke-width="0.9"/>
<text x="194" y="207.55" font-size="8" text-anchor="start" fill="#231f20" stroke="#231f20" stroke-width="0.15" font-weight="normal" >5 kV</text>
<rect x="177.4" y="248.3" width="23.5" height="10.2" fill="url(#gTeal)" stroke="#231f20" stroke-width="0.9"/>
<text x="204" y="256.4" font-size="8" text-anchor="start" fill="#231f20" stroke="#231f20" stroke-width="0.15" font-weight="normal" >#4</text>
<rect x="178" y="296.5" width="22.5" height="10.1" fill="url(#gPink2)" stroke="#231f20" stroke-width="0.9"/>
<text x="203.5" y="304.55" font-size="8" text-anchor="start" fill="#231f20" stroke="#231f20" stroke-width="0.15" font-weight="normal" >#5</text>
<line x1="45.3" y1="244.4" x2="49.3" y2="244.4" stroke="#231f20" stroke-width="0.8" />
<text x="40.8" y="247.6" font-size="9.2" text-anchor="end" fill="#231f20" stroke="#231f20" stroke-width="0.15" font-weight="normal" >0</text>
<line x1="45.3" y1="225.95" x2="49.3" y2="225.95" stroke="#231f20" stroke-width="0.8" />
<text x="40.8" y="229.15" font-size="9.2" text-anchor="end" fill="#231f20" stroke="#231f20" stroke-width="0.15" font-weight="normal" >5</text>
<line x1="45.3" y1="207.5" x2="49.3" y2="207.5" stroke="#231f20" stroke-width="0.8" />
<text x="40.8" y="210.7" font-size="9.2" text-anchor="end" fill="#231f20" stroke="#231f20" stroke-width="0.15" font-weight="normal" >10</text>
<line x1="47.3" y1="235.18" x2="49.3" y2="235.18" stroke="#231f20" stroke-width="0.8" />
<line x1="47.3" y1="216.72" x2="49.3" y2="216.72" stroke="#231f20" stroke-width="0.8" />
<line x1="45.3" y1="286.6" x2="49.3" y2="286.6" stroke="#231f20" stroke-width="0.8" />
<text x="40.8" y="289.8" font-size="9.2" text-anchor="end" fill="#231f20" stroke="#231f20" stroke-width="0.15" font-weight="normal" >0</text>
<line x1="45.3" y1="270.5" x2="49.3" y2="270.5" stroke="#231f20" stroke-width="0.8" />
<text x="40.8" y="273.7" font-size="9.2" text-anchor="end" fill="#231f20" stroke="#231f20" stroke-width="0.15" font-weight="normal" >200</text>
<line x1="45.3" y1="254.4" x2="49.3" y2="254.4" stroke="#231f20" stroke-width="0.8" />
<text x="40.8" y="257.6" font-size="9.2" text-anchor="end" fill="#231f20" stroke="#231f20" stroke-width="0.15" font-weight="normal" >400</text>
<line x1="47.3" y1="278.55" x2="49.3" y2="278.55" stroke="#231f20" stroke-width="0.8" />
<line x1="47.3" y1="262.45" x2="49.3" y2="262.45" stroke="#231f20" stroke-width="0.8" />
<line x1="45.3" y1="299.4" x2="49.3" y2="299.4" stroke="#231f20" stroke-width="0.8" />
<text x="40.8" y="302.6" font-size="9.2" text-anchor="end" fill="#231f20" stroke="#231f20" stroke-width="0.15" font-weight="normal" >0</text>
<line x1="45.3" y1="316.9" x2="49.3" y2="316.9" stroke="#231f20" stroke-width="0.8" />
<text x="40.8" y="320.1" font-size="9.2" text-anchor="end" fill="#231f20" stroke="#231f20" stroke-width="0.15" font-weight="normal" >−10</text>
<line x1="45.3" y1="334.4" x2="49.3" y2="334.4" stroke="#231f20" stroke-width="0.8" />
<text x="40.8" y="337.6" font-size="9.2" text-anchor="end" fill="#231f20" stroke="#231f20" stroke-width="0.15" font-weight="normal" >−20</text>
<line x1="47.3" y1="308.15" x2="49.3" y2="308.15" stroke="#231f20" stroke-width="0.8" />
<line x1="47.3" y1="325.65" x2="49.3" y2="325.65" stroke="#231f20" stroke-width="0.8" />
<line x1="49.4" y1="343.2" x2="49.4" y2="347.2" stroke="#231f20" stroke-width="0.8" />
<text x="49.4" y="357.5" font-size="9.2" text-anchor="middle" fill="#231f20" stroke="#231f20" stroke-width="0.15" font-weight="normal" >0</text>
<line x1="82.6" y1="343.2" x2="82.6" y2="347.2" stroke="#231f20" stroke-width="0.8" />
<text x="82.6" y="357.5" font-size="9.2" text-anchor="middle" fill="#231f20" stroke="#231f20" stroke-width="0.15" font-weight="normal" >2</text>
<line x1="115.8" y1="343.2" x2="115.8" y2="347.2" stroke="#231f20" stroke-width="0.8" />
<text x="115.8" y="357.5" font-size="9.2" text-anchor="middle" fill="#231f20" stroke="#231f20" stroke-width="0.15" font-weight="normal" >4</text>
<line x1="149" y1="343.2" x2="149" y2="347.2" stroke="#231f20" stroke-width="0.8" />
<text x="149" y="357.5" font-size="9.2" text-anchor="middle" fill="#231f20" stroke="#231f20" stroke-width="0.15" font-weight="normal" >6</text>
<line x1="182.2" y1="343.2" x2="182.2" y2="347.2" stroke="#231f20" stroke-width="0.8" />
<text x="182.2" y="357.5" font-size="9.2" text-anchor="middle" fill="#231f20" stroke="#231f20" stroke-width="0.15" font-weight="normal" >8</text>
<line x1="215.4" y1="343.2" x2="215.4" y2="347.2" stroke="#231f20" stroke-width="0.8" />
<text x="215.4" y="357.5" font-size="9.2" text-anchor="middle" fill="#231f20" stroke="#231f20" stroke-width="0.15" font-weight="normal" >10</text>
<line x1="66" y1="343.2" x2="66" y2="345.2" stroke="#231f20" stroke-width="0.8" />
<line x1="99.2" y1="343.2" x2="99.2" y2="345.2" stroke="#231f20" stroke-width="0.8" />
<line x1="132.4" y1="343.2" x2="132.4" y2="345.2" stroke="#231f20" stroke-width="0.8" />
<line x1="165.6" y1="343.2" x2="165.6" y2="345.2" stroke="#231f20" stroke-width="0.8" />
<line x1="198.8" y1="343.2" x2="198.8" y2="345.2" stroke="#231f20" stroke-width="0.8" />
<text x="133" y="369.5" font-size="9.5" text-anchor="middle" fill="#231f20" stroke="#231f20" stroke-width="0.15" font-weight="normal" >Time (s)</text>
<text x="9.6" y="227" font-size="9.5" text-anchor="middle" fill="#231f20" stroke="#231f20" stroke-width="0.15" font-weight="normal" transform="rotate(-90 9.6 227)" >Bending</text>
<text x="22.9" y="227" font-size="9.5" text-anchor="middle" fill="#231f20" stroke="#231f20" stroke-width="0.15" font-weight="normal" transform="rotate(-90 22.9 227)" >angle (°)</text>
<text x="14.5" y="295.5" font-size="9.5" text-anchor="middle" fill="#231f20" stroke="#231f20" stroke-width="0.15" font-weight="normal" transform="rotate(-90 14.5 295.5)" >(<tspan font-style="italic">R</tspan>−<tspan font-style="italic">R</tspan><tspan font-size="72%" dy="2.2">0</tspan><tspan dy="-2.2">)/</tspan><tspan font-style="italic">R</tspan><tspan font-size="72%" dy="2.2">0</tspan><tspan dy="-2.2"> (%)</tspan></text>
<text x="-0.5" y="199.3" font-size="16.5" text-anchor="start" fill="#000" stroke="#000" stroke-width="0.1" font-weight="bold" >d</text>
<rect x="285.2" y="200.1" width="8.06" height="142.9" fill="#e6f2df" />
<rect x="293.26" y="200.1" width="15.93" height="142.9" fill="#fde2ef" />
<rect x="309.19" y="200.1" width="15.93" height="142.9" fill="#dcedfb" />
<rect x="325.12" y="200.1" width="15.93" height="142.9" fill="#fde2ef" />
<rect x="341.06" y="200.1" width="15.93" height="142.9" fill="#dcedfb" />
<rect x="356.99" y="200.1" width="15.93" height="142.9" fill="#fde2ef" />
<rect x="372.92" y="200.1" width="15.93" height="142.9" fill="#dcedfb" />
<rect x="388.85" y="200.1" width="15.93" height="142.9" fill="#fde2ef" />
<rect x="404.78" y="200.1" width="15.93" height="142.9" fill="#dcedfb" />
<rect x="420.71" y="200.1" width="15.93" height="142.9" fill="#fde2ef" />
<rect x="436.63" y="200.1" width="7.97" height="142.9" fill="#dcedfb" />
<polyline points="285.3,223.8 293.3,223.8 293.3,207.7 301.2,207.7 301.2,223.8 309.2,223.8 309.2,239.9 317.2,239.9 317.2,223.8 325.1,223.8 325.1,207.7 333.1,207.7 333.1,223.8 341.1,223.8 341.1,239.9 349.0,239.9 349.0,223.8 357.0,223.8 357.0,207.7 365.0,207.7 365.0,223.8 372.9,223.8 372.9,239.9 380.9,239.9 380.9,223.8 388.8,223.8 388.8,207.7 396.8,207.7 396.8,223.8 404.8,223.8 404.8,239.9 412.7,239.9 412.7,223.8 420.7,223.8 420.7,207.7 428.7,207.7 428.7,223.8 436.6,223.8 436.6,239.9 444.6,239.9" fill="none" stroke="#f51c1c" stroke-width="1.6" stroke-linejoin="round" stroke-linejoin="miter"/>
<line x1="285.2" y1="333.4" x2="444.6" y2="333.4" stroke="#231f20" stroke-width="0.9" stroke-dasharray="3,2"/>
<polyline points="285.3,333.4 293.2,333.4 293.3,336.4 309.1,336.4 309.2,337.1 309.6,297.4 311.5,290.7 314.5,282.0 316.5,276.3 317.1,276.3 317.8,302.3 318.5,315.4 319.4,324.8 320.0,328.1 320.8,330.4 321.7,332.3 323.0,333.9 324.6,335.1 326.5,336.0 328.7,336.6 331.5,336.9 341.0,337.2 341.5,297.3 343.5,290.4 346.4,281.7 348.3,276.5 349.0,276.3 349.6,300.4 350.3,315.6 351.3,324.9 351.9,328.1 352.6,330.4 353.7,332.4 354.9,334.0 356.5,335.2 358.5,336.0 360.7,336.6 363.5,336.9 372.9,337.2 373.4,297.3 375.3,290.3 378.4,281.4 380.2,276.4 380.8,276.3 381.5,300.9 382.2,315.8 383.2,325.0 383.8,328.2 384.5,330.4 385.5,332.5 386.8,334.0 388.4,335.2 390.3,336.0 392.6,336.6 395.4,336.9 404.8,337.2 405.2,297.2 407.2,290.3 410.3,281.1 412.1,276.4 412.7,276.3 413.3,299.0 414.0,314.9 415.0,324.6 415.6,327.9 416.4,330.5 417.4,332.5 418.7,334.0 420.3,335.2 422.2,336.0 424.4,336.6 427.2,336.9 436.6,337.2 437.1,297.1 439.2,290.0 442.3,280.9 444.0,276.3 444.6,276.3" fill="none" stroke="#9a45ff" stroke-width="1.3" stroke-linejoin="round" />
<polyline points="285.3,333.4 293.2,333.4 293.3,336.4 293.7,296.7 295.6,287.7 298.4,276.1 300.6,268.2 301.2,268.2 301.9,297.0 302.5,311.8 303.5,322.5 304.1,326.2 304.8,328.8 305.8,330.9 307.1,332.7 308.6,334.1 310.6,335.1 312.8,335.7 315.6,336.1 325.1,336.4 325.5,296.6 327.5,287.6 330.4,275.8 332.4,268.4 332.5,268.2 333.0,268.2 333.7,295.0 334.4,312.1 335.3,322.6 336.0,326.2 336.7,328.8 337.7,331.0 338.9,332.8 340.5,334.1 342.5,335.1 344.7,335.7 347.5,336.1 356.9,336.4 357.4,296.6 359.4,287.2 362.4,275.4 364.3,268.3 364.4,268.2 364.9,268.2 365.5,295.5 366.3,312.3 367.2,322.8 367.9,326.3 368.6,328.9 369.6,331.1 370.9,332.9 372.5,334.2 374.4,335.1 376.6,335.7 379.4,336.1 388.8,336.4 389.3,296.5 391.3,287.1 394.4,274.8 396.1,268.3 396.8,268.2 397.4,296.0 398.1,312.6 399.1,322.9 399.7,326.4 400.5,328.9 401.5,331.2 402.8,332.9 404.4,334.2 406.3,335.1 408.5,335.7 411.3,336.1 420.7,336.4 421.2,296.4 423.2,286.7 426.4,274.4 428.0,268.2 428.7,268.2 429.1,291.0 429.8,308.6 430.6,319.7 431.6,326.5 432.3,328.9 433.2,330.9 434.3,332.5 435.7,333.8 437.3,334.8 439.2,335.5 441.6,335.9 444.6,336.2" fill="none" stroke="#cf1515" stroke-width="1.3" stroke-linejoin="round" />
<line x1="367.1" y1="255" x2="390.4" y2="255" stroke="#9a45ff" stroke-width="1.4" />
<text x="393" y="258" font-size="8" text-anchor="start" fill="#231f20" stroke="#231f20" stroke-width="0.15" font-weight="normal" >#4</text>
<line x1="405.1" y1="255" x2="428.4" y2="255" stroke="#cf1515" stroke-width="1.4" />
<text x="431" y="258" font-size="8" text-anchor="start" fill="#231f20" stroke="#231f20" stroke-width="0.15" font-weight="normal" >#5</text>
<line x1="285.2" y1="200.1" x2="444.6" y2="200.1" stroke="#231f20" stroke-width="1" />
<line x1="285.2" y1="200.1" x2="285.2" y2="343" stroke="#231f20" stroke-width="1" />
<line x1="444.6" y1="200.1" x2="444.6" y2="343" stroke="#231f20" stroke-width="1" />
<line x1="285.2" y1="247.1" x2="444.6" y2="247.1" stroke="#231f20" stroke-width="1.3" />
<line x1="285.2" y1="343" x2="444.6" y2="343" stroke="#231f20" stroke-width="1.2" />
<line x1="281.2" y1="207.7" x2="285.2" y2="207.7" stroke="#231f20" stroke-width="0.8" />
<text x="276.7" y="210.9" font-size="9.2" text-anchor="end" fill="#231f20" stroke="#231f20" stroke-width="0.15" font-weight="normal" >4</text>
<line x1="281.2" y1="223.8" x2="285.2" y2="223.8" stroke="#231f20" stroke-width="0.8" />
<text x="276.7" y="227" font-size="9.2" text-anchor="end" fill="#231f20" stroke="#231f20" stroke-width="0.15" font-weight="normal" >0</text>
<line x1="281.2" y1="239.9" x2="285.2" y2="239.9" stroke="#231f20" stroke-width="0.8" />
<text x="276.7" y="243.1" font-size="9.2" text-anchor="end" fill="#231f20" stroke="#231f20" stroke-width="0.15" font-weight="normal" >-4</text>
<line x1="283.2" y1="215.75" x2="285.2" y2="215.75" stroke="#231f20" stroke-width="0.8" />
<line x1="283.2" y1="231.85" x2="285.2" y2="231.85" stroke="#231f20" stroke-width="0.8" />
<line x1="281.2" y1="333.4" x2="285.2" y2="333.4" stroke="#231f20" stroke-width="0.8" />
<text x="276.7" y="336.6" font-size="9.2" text-anchor="end" fill="#231f20" stroke="#231f20" stroke-width="0.15" font-weight="normal" >0</text>
<line x1="281.2" y1="314.5" x2="285.2" y2="314.5" stroke="#231f20" stroke-width="0.8" />
<text x="276.7" y="317.7" font-size="9.2" text-anchor="end" fill="#231f20" stroke="#231f20" stroke-width="0.15" font-weight="normal" >100</text>
<line x1="281.2" y1="295.6" x2="285.2" y2="295.6" stroke="#231f20" stroke-width="0.8" />
<text x="276.7" y="298.8" font-size="9.2" text-anchor="end" fill="#231f20" stroke="#231f20" stroke-width="0.15" font-weight="normal" >200</text>
<line x1="281.2" y1="276.7" x2="285.2" y2="276.7" stroke="#231f20" stroke-width="0.8" />
<text x="276.7" y="279.9" font-size="9.2" text-anchor="end" fill="#231f20" stroke="#231f20" stroke-width="0.15" font-weight="normal" >300</text>
<line x1="281.2" y1="257.8" x2="285.2" y2="257.8" stroke="#231f20" stroke-width="0.8" />
<text x="276.7" y="261" font-size="9.2" text-anchor="end" fill="#231f20" stroke="#231f20" stroke-width="0.15" font-weight="normal" >400</text>
<line x1="283.2" y1="342.85" x2="285.2" y2="342.85" stroke="#231f20" stroke-width="0.8" />
<line x1="283.2" y1="323.95" x2="285.2" y2="323.95" stroke="#231f20" stroke-width="0.8" />
<line x1="283.2" y1="305.05" x2="285.2" y2="305.05" stroke="#231f20" stroke-width="0.8" />
<line x1="283.2" y1="286.15" x2="285.2" y2="286.15" stroke="#231f20" stroke-width="0.8" />
<line x1="283.2" y1="267.25" x2="285.2" y2="267.25" stroke="#231f20" stroke-width="0.8" />
<line x1="285.3" y1="343" x2="285.3" y2="347" stroke="#231f20" stroke-width="0.8" />
<text x="285.3" y="357.5" font-size="9.2" text-anchor="middle" fill="#231f20" stroke="#231f20" stroke-width="0.15" font-weight="normal" >0</text>
<line x1="317.16" y1="343" x2="317.16" y2="347" stroke="#231f20" stroke-width="0.8" />
<text x="317.16" y="357.5" font-size="9.2" text-anchor="middle" fill="#231f20" stroke="#231f20" stroke-width="0.15" font-weight="normal" >20</text>
<line x1="349.02" y1="343" x2="349.02" y2="347" stroke="#231f20" stroke-width="0.8" />
<text x="349.02" y="357.5" font-size="9.2" text-anchor="middle" fill="#231f20" stroke="#231f20" stroke-width="0.15" font-weight="normal" >40</text>
<line x1="380.88" y1="343" x2="380.88" y2="347" stroke="#231f20" stroke-width="0.8" />
<text x="380.88" y="357.5" font-size="9.2" text-anchor="middle" fill="#231f20" stroke="#231f20" stroke-width="0.15" font-weight="normal" >60</text>
<line x1="412.74" y1="343" x2="412.74" y2="347" stroke="#231f20" stroke-width="0.8" />
<text x="412.74" y="357.5" font-size="9.2" text-anchor="middle" fill="#231f20" stroke="#231f20" stroke-width="0.15" font-weight="normal" >80</text>
<line x1="444.6" y1="343" x2="444.6" y2="347" stroke="#231f20" stroke-width="0.8" />
<text x="444.6" y="357.5" font-size="9.2" text-anchor="middle" fill="#231f20" stroke="#231f20" stroke-width="0.15" font-weight="normal" >100</text>
<line x1="301.23" y1="343" x2="301.23" y2="345" stroke="#231f20" stroke-width="0.8" />
<line x1="333.09" y1="343" x2="333.09" y2="345" stroke="#231f20" stroke-width="0.8" />
<line x1="364.95" y1="343" x2="364.95" y2="345" stroke="#231f20" stroke-width="0.8" />
<line x1="396.81" y1="343" x2="396.81" y2="345" stroke="#231f20" stroke-width="0.8" />
<line x1="428.67" y1="343" x2="428.67" y2="345" stroke="#231f20" stroke-width="0.8" />
<text x="364.4" y="369.5" font-size="9.5" text-anchor="middle" fill="#231f20" stroke="#231f20" stroke-width="0.15" font-weight="normal" >Time (s)</text>
<text x="251.3" y="227.7" font-size="9.5" text-anchor="middle" fill="#231f20" stroke="#231f20" stroke-width="0.15" font-weight="normal" transform="rotate(-90 251.3 227.7)" >Voltage (kV)</text>
<text x="251.8" y="296" font-size="9.5" text-anchor="middle" fill="#231f20" stroke="#231f20" stroke-width="0.15" font-weight="normal" transform="rotate(-90 251.8 296)" >(<tspan font-style="italic">R</tspan>−<tspan font-style="italic">R</tspan><tspan font-size="72%" dy="2.2">0</tspan><tspan dy="-2.2">)/</tspan><tspan font-style="italic">R</tspan><tspan font-size="72%" dy="2.2">0</tspan><tspan dy="-2.2"> (%)</tspan></text>
<text x="244" y="199.3" font-size="16.5" text-anchor="start" fill="#000" stroke="#000" stroke-width="0.1" font-weight="bold" >e</text>
<rect x="520" y="199.3" width="16.06" height="143.9" fill="#e3fbe3" />
<polygon points="520.1,245.7 536.3,245.6 537.0,243.9 537.7,241.0 541.0,222.9 541.9,219.9 542.6,218.9 543.0,219.0 543.4,219.4 544.2,221.6 547.3,234.5 548.3,237.7 550.3,240.2 551.2,240.8 551.7,240.8 552.2,240.5 553.5,238.9 553.7,240.9 553.8,240.7 554.4,239.4 555.1,235.9 557.6,219.2 558.1,217.0 558.6,216.0 559.0,216.0 559.3,216.5 560.2,219.0 563.1,232.6 564.3,236.9 566.3,239.5 567.1,240.1 567.7,240.1 568.2,239.7 569.5,238.1 569.6,240.1 570.2,239.2 570.7,236.9 573.4,218.4 574.1,215.1 574.6,214.1 575.0,214.2 575.3,214.7 576.2,217.2 579.0,230.8 580.3,235.1 582.2,237.7 583.1,238.2 583.7,238.2 584.2,237.8 585.4,236.2 585.6,238.2 586.1,237.3 586.9,234.1 589.5,216.1 590.0,213.9 590.6,213.0 590.9,213.1 591.3,213.6 592.2,216.3 595.0,230.6 595.9,234.1 596.6,235.8 598.2,237.7 598.9,238.2 599.5,238.2 600.0,238.0 601.4,236.2 601.6,238.2 602.1,237.2 603.0,232.8 605.3,216.4 606.0,213.1 606.6,212.2 606.9,212.4 607.3,212.9 608.2,215.6 610.8,229.1 611.9,233.5 612.6,235.0 614.4,237.1 615.1,237.5 615.8,237.3 616.5,236.7 617.4,235.4 617.6,237.5 618.1,236.4 619.0,232.1 621.3,216.1 622.0,213.1 622.5,212.2 622.9,212.4 623.2,212.9 624.1,215.7 627.0,229.7 628.2,234.1 630.2,236.6 631.1,237.1 631.6,237.1 632.1,236.7 633.4,235.0 633.5,237.1 634.1,236.0 634.8,232.5 637.4,214.1 638.0,211.9 638.5,211.1 638.9,211.3 639.2,211.9 640.1,214.8 643.7,232.5 644.4,234.4 646.1,236.6 646.9,237.1 647.6,237.0 648.3,236.5 649.3,235.0 649.5,237.1 649.9,236.4 650.9,231.3 653.2,214.9 654.0,211.9 654.5,211.1 654.8,211.3 655.2,211.9 656.1,214.8 658.9,229.4 660.2,233.8 662.1,236.3 663.0,236.8 663.5,236.7 664.1,236.3 665.3,234.6 665.5,236.7 666.0,235.4 666.7,231.9 669.4,213.2 669.9,211.1 670.5,210.4 670.8,210.6 671.2,211.2 672.1,214.3 674.9,229.3 676.0,233.4 676.5,234.4 676.9,234.6 678.3,236.4 679.0,236.8 679.7,236.6 679.7,245.7 520.1,245.7" fill="url(#gMag)" stroke="none" />
<polyline points="520.1,245.7 536.3,245.6 537.0,243.9 537.7,241.0 541.0,222.9 541.9,219.9 542.6,218.9 543.0,219.0 543.4,219.4 544.2,221.6 547.3,234.5 548.3,237.7 550.3,240.2 551.2,240.8 551.7,240.8 552.2,240.5 553.5,238.9 553.7,240.9 553.8,240.7 554.4,239.4 555.1,235.9 557.6,219.2 558.1,217.0 558.6,216.0 559.0,216.0 559.3,216.5 560.2,219.0 563.1,232.6 564.3,236.9 566.3,239.5 567.1,240.1 567.7,240.1 568.2,239.7 569.5,238.1 569.6,240.1 570.2,239.2 570.7,236.9 573.4,218.4 574.1,215.1 574.6,214.1 575.0,214.2 575.3,214.7 576.2,217.2 579.0,230.8 580.3,235.1 582.2,237.7 583.1,238.2 583.7,238.2 584.2,237.8 585.4,236.2 585.6,238.2 586.1,237.3 586.9,234.1 589.5,216.1 590.0,213.9 590.6,213.0 590.9,213.1 591.3,213.6 592.2,216.3 595.0,230.6 595.9,234.1 596.6,235.8 598.2,237.7 598.9,238.2 599.5,238.2 600.0,238.0 601.4,236.2 601.6,238.2 602.1,237.2 603.0,232.8 605.3,216.4 606.0,213.1 606.6,212.2 606.9,212.4 607.3,212.9 608.2,215.6 610.8,229.1 611.9,233.5 612.6,235.0 614.4,237.1 615.1,237.5 615.8,237.3 616.5,236.7 617.4,235.4 617.6,237.5 618.1,236.4 619.0,232.1 621.3,216.1 622.0,213.1 622.5,212.2 622.9,212.4 623.2,212.9 624.1,215.7 627.0,229.7 628.2,234.1 630.2,236.6 631.1,237.1 631.6,237.1 632.1,236.7 633.4,235.0 633.5,237.1 634.1,236.0 634.8,232.5 637.4,214.1 638.0,211.9 638.5,211.1 638.9,211.3 639.2,211.9 640.1,214.8 643.7,232.5 644.4,234.4 646.1,236.6 646.9,237.1 647.6,237.0 648.3,236.5 649.3,235.0 649.5,237.1 649.9,236.4 650.9,231.3 653.2,214.9 654.0,211.9 654.5,211.1 654.8,211.3 655.2,211.9 656.1,214.8 658.9,229.4 660.2,233.8 662.1,236.3 663.0,236.8 663.5,236.7 664.1,236.3 665.3,234.6 665.5,236.7 666.0,235.4 666.7,231.9 669.4,213.2 669.9,211.1 670.5,210.4 670.8,210.6 671.2,211.2 672.1,214.3 674.9,229.3 676.0,233.4 676.5,234.4 676.9,234.6 678.3,236.4 679.0,236.8 679.7,236.6" fill="none" stroke="#e23ef2" stroke-width="1.3" stroke-linejoin="round" />
<polygon points="520.1,291.5 536.1,291.5 537.0,290.4 538.9,288.8 539.7,286.8 540.2,283.7 541.8,265.9 542.2,263.1 542.5,262.5 543.0,263.1 543.5,265.1 545.5,279.3 546.2,282.6 547.0,284.8 547.9,286.0 549.4,286.7 553.5,287.5 554.3,287.5 554.8,287.2 555.2,286.7 555.6,285.5 556.2,282.5 557.8,264.8 558.2,262.1 558.4,261.6 559.0,262.4 559.5,264.5 561.5,279.0 562.6,283.7 563.2,285.1 564.0,286.0 565.1,286.5 567.1,287.0 569.4,287.4 570.4,287.4 571.1,286.9 571.5,286.0 572.4,280.5 573.9,264.9 574.1,263.5 574.4,263.1 574.9,263.8 575.5,265.8 577.5,279.6 578.1,282.7 578.8,284.6 579.7,285.9 581.2,286.6 585.3,287.5 586.3,287.5 586.8,287.2 587.5,286.0 588.0,283.5 589.7,265.5 590.1,263.1 590.4,262.7 590.9,263.5 591.4,265.6 593.4,279.6 594.1,282.7 594.8,284.6 595.7,285.9 597.0,286.6 601.0,287.4 602.1,287.5 602.6,287.3 603.0,286.8 603.4,285.9 604.0,283.3 605.7,265.1 606.1,262.7 606.4,262.4 606.9,263.2 607.4,265.3 609.2,277.9 610.1,282.7 611.1,285.3 611.8,286.0 612.6,286.4 615.0,287.1 617.8,287.5 618.7,287.2 619.3,286.3 619.8,284.2 620.2,281.4 621.7,265.6 622.1,263.3 622.3,263.1 622.9,263.9 623.3,265.4 625.4,279.8 626.1,282.9 626.7,284.7 627.7,285.9 629.1,286.7 633.4,287.5 634.2,287.5 634.7,287.2 635.4,285.8 635.9,283.2 637.5,266.4 637.9,263.4 638.2,262.7 638.6,263.0 638.8,263.6 639.4,265.8 641.0,277.3 641.8,281.8 642.6,284.4 643.5,285.8 644.3,286.3 645.4,286.7 649.2,287.5 650.4,287.4 651.1,286.6 651.6,284.8 652.0,282.3 653.5,266.9 653.9,264.1 654.1,263.5 654.7,264.0 655.2,265.9 657.3,280.1 658.0,283.1 658.7,284.8 659.5,285.9 660.7,286.6 663.7,287.3 666.1,287.5 666.7,287.1 667.1,286.5 667.7,283.8 668.4,278.2 669.5,265.8 669.8,263.0 670.1,262.4 670.6,263.0 671.2,264.9 673.2,279.0 673.7,281.8 674.4,284.1 675.0,285.3 676.0,286.2 677.3,286.7 679.7,287.2 679.7,291.5 520.1,291.5" fill="url(#gBlue)" stroke="none" />
<polyline points="520.1,291.5 536.1,291.5 537.0,290.4 538.9,288.8 539.7,286.8 540.2,283.7 541.8,265.9 542.2,263.1 542.5,262.5 543.0,263.1 543.5,265.1 545.5,279.3 546.2,282.6 547.0,284.8 547.9,286.0 549.4,286.7 553.5,287.5 554.3,287.5 554.8,287.2 555.2,286.7 555.6,285.5 556.2,282.5 557.8,264.8 558.2,262.1 558.4,261.6 559.0,262.4 559.5,264.5 561.5,279.0 562.6,283.7 563.2,285.1 564.0,286.0 565.1,286.5 567.1,287.0 569.4,287.4 570.4,287.4 571.1,286.9 571.5,286.0 572.4,280.5 573.9,264.9 574.1,263.5 574.4,263.1 574.9,263.8 575.5,265.8 577.5,279.6 578.1,282.7 578.8,284.6 579.7,285.9 581.2,286.6 585.3,287.5 586.3,287.5 586.8,287.2 587.5,286.0 588.0,283.5 589.7,265.5 590.1,263.1 590.4,262.7 590.9,263.5 591.4,265.6 593.4,279.6 594.1,282.7 594.8,284.6 595.7,285.9 597.0,286.6 601.0,287.4 602.1,287.5 602.6,287.3 603.0,286.8 603.4,285.9 604.0,283.3 605.7,265.1 606.1,262.7 606.4,262.4 606.9,263.2 607.4,265.3 609.2,277.9 610.1,282.7 611.1,285.3 611.8,286.0 612.6,286.4 615.0,287.1 617.8,287.5 618.7,287.2 619.3,286.3 619.8,284.2 620.2,281.4 621.7,265.6 622.1,263.3 622.3,263.1 622.9,263.9 623.3,265.4 625.4,279.8 626.1,282.9 626.7,284.7 627.7,285.9 629.1,286.7 633.4,287.5 634.2,287.5 634.7,287.2 635.4,285.8 635.9,283.2 637.5,266.4 637.9,263.4 638.2,262.7 638.6,263.0 638.8,263.6 639.4,265.8 641.0,277.3 641.8,281.8 642.6,284.4 643.5,285.8 644.3,286.3 645.4,286.7 649.2,287.5 650.4,287.4 651.1,286.6 651.6,284.8 652.0,282.3 653.5,266.9 653.9,264.1 654.1,263.5 654.7,264.0 655.2,265.9 657.3,280.1 658.0,283.1 658.7,284.8 659.5,285.9 660.7,286.6 663.7,287.3 666.1,287.5 666.7,287.1 667.1,286.5 667.7,283.8 668.4,278.2 669.5,265.8 669.8,263.0 670.1,262.4 670.6,263.0 671.2,264.9 673.2,279.0 673.7,281.8 674.4,284.1 675.0,285.3 676.0,286.2 677.3,286.7 679.7,287.2" fill="none" stroke="#3a73a8" stroke-width="1.3" stroke-linejoin="round" />
<polygon points="520.1,340.0 536.1,340.0 538.9,337.4 539.7,335.6 540.3,332.2 542.1,314.6 542.5,311.9 542.7,311.3 543.4,311.6 544.1,313.5 546.3,327.9 547.0,330.8 547.8,333.0 548.7,334.2 550.2,335.1 553.5,335.8 554.3,335.8 554.8,335.6 555.6,334.1 556.3,330.7 558.0,312.6 558.4,310.0 558.7,309.4 559.4,309.9 560.0,312.0 562.2,326.5 563.4,331.7 564.0,333.1 565.0,334.2 566.2,334.9 567.9,335.4 569.6,335.8 570.5,335.7 571.2,335.0 571.7,333.6 572.5,328.7 574.0,313.3 574.4,310.9 574.7,310.4 575.3,310.8 576.0,312.9 578.3,327.7 578.9,330.6 579.7,332.8 580.8,334.2 582.3,335.0 585.7,335.8 586.4,335.7 586.9,335.4 587.6,334.0 588.3,330.5 590.0,312.4 590.4,309.9 590.6,309.4 591.3,309.9 592.0,312.1 594.2,327.4 594.9,330.5 595.6,332.4 596.5,333.9 597.8,334.8 601.2,335.7 602.1,335.8 602.6,335.6 603.4,334.3 604.1,331.3 606.0,312.2 606.4,309.8 606.6,309.4 607.3,309.9 608.0,312.1 609.8,325.1 610.7,330.0 611.5,332.4 612.6,334.0 614.3,335.0 617.5,335.7 618.6,335.6 619.3,334.7 619.8,332.8 620.2,330.3 621.9,312.4 622.3,310.1 622.6,309.7 623.3,310.3 623.9,312.5 626.1,327.0 626.7,330.1 627.5,332.5 628.5,333.9 629.7,334.7 632.6,335.6 634.3,335.7 634.8,335.3 635.2,334.6 635.9,332.0 636.6,326.7 637.9,312.0 638.3,309.7 638.6,309.4 639.2,310.0 639.9,312.3 642.0,326.9 642.7,330.1 643.5,332.5 644.4,333.9 645.6,334.7 648.6,335.6 650.3,335.7 650.8,335.3 651.2,334.6 651.9,331.9 652.5,326.5 653.9,311.9 654.3,309.7 654.5,309.4 655.2,310.0 655.9,312.3 658.0,327.0 658.7,330.2 659.3,332.2 660.1,333.6 661.2,334.5 663.2,335.3 665.7,335.8 666.4,335.6 666.9,335.1 667.7,332.5 668.4,327.6 669.8,311.5 670.2,309.3 670.5,309.1 671.2,309.7 671.8,312.1 673.8,326.2 675.0,331.5 675.7,333.0 676.6,334.1 677.8,334.8 679.7,335.4 679.7,340.0 520.1,340.0" fill="url(#gPink2)" stroke="none" />
<polyline points="520.1,340.0 536.1,340.0 538.9,337.4 539.7,335.6 540.3,332.2 542.1,314.6 542.5,311.9 542.7,311.3 543.4,311.6 544.1,313.5 546.3,327.9 547.0,330.8 547.8,333.0 548.7,334.2 550.2,335.1 553.5,335.8 554.3,335.8 554.8,335.6 555.6,334.1 556.3,330.7 558.0,312.6 558.4,310.0 558.7,309.4 559.4,309.9 560.0,312.0 562.2,326.5 563.4,331.7 564.0,333.1 565.0,334.2 566.2,334.9 567.9,335.4 569.6,335.8 570.5,335.7 571.2,335.0 571.7,333.6 572.5,328.7 574.0,313.3 574.4,310.9 574.7,310.4 575.3,310.8 576.0,312.9 578.3,327.7 578.9,330.6 579.7,332.8 580.8,334.2 582.3,335.0 585.7,335.8 586.4,335.7 586.9,335.4 587.6,334.0 588.3,330.5 590.0,312.4 590.4,309.9 590.6,309.4 591.3,309.9 592.0,312.1 594.2,327.4 594.9,330.5 595.6,332.4 596.5,333.9 597.8,334.8 601.2,335.7 602.1,335.8 602.6,335.6 603.4,334.3 604.1,331.3 606.0,312.2 606.4,309.8 606.6,309.4 607.3,309.9 608.0,312.1 609.8,325.1 610.7,330.0 611.5,332.4 612.6,334.0 614.3,335.0 617.5,335.7 618.6,335.6 619.3,334.7 619.8,332.8 620.2,330.3 621.9,312.4 622.3,310.1 622.6,309.7 623.3,310.3 623.9,312.5 626.1,327.0 626.7,330.1 627.5,332.5 628.5,333.9 629.7,334.7 632.6,335.6 634.3,335.7 634.8,335.3 635.2,334.6 635.9,332.0 636.6,326.7 637.9,312.0 638.3,309.7 638.6,309.4 639.2,310.0 639.9,312.3 642.0,326.9 642.7,330.1 643.5,332.5 644.4,333.9 645.6,334.7 648.6,335.6 650.3,335.7 650.8,335.3 651.2,334.6 651.9,331.9 652.5,326.5 653.9,311.9 654.3,309.7 654.5,309.4 655.2,310.0 655.9,312.3 658.0,327.0 658.7,330.2 659.3,332.2 660.1,333.6 661.2,334.5 663.2,335.3 665.7,335.8 666.4,335.6 666.9,335.1 667.7,332.5 668.4,327.6 669.8,311.5 670.2,309.3 670.5,309.1 671.2,309.7 671.8,312.1 673.8,326.2 675.0,331.5 675.7,333.0 676.6,334.1 677.8,334.8 679.7,335.4" fill="none" stroke="#f47373" stroke-width="1.3" stroke-linejoin="round" />
<line x1="520" y1="199.3" x2="679.7" y2="199.3" stroke="#231f20" stroke-width="1" />
<line x1="520" y1="199.3" x2="520" y2="343.2" stroke="#666" stroke-width="1.2" />
<line x1="679.7" y1="199.3" x2="679.7" y2="343.2" stroke="#231f20" stroke-width="1" />
<line x1="520" y1="247.1" x2="679.7" y2="247.1" stroke="#231f20" stroke-width="1.3" />
<line x1="520" y1="295.4" x2="679.7" y2="295.4" stroke="#231f20" stroke-width="1.3" />
<line x1="520" y1="343.2" x2="679.7" y2="343.2" stroke="#231f20" stroke-width="1.2" />
<rect x="631.2" y="201.4" width="23.1" height="10.1" fill="url(#gMag)" stroke="#231f20" stroke-width="0.9"/>
<text x="657.5" y="209.45" font-size="8" text-anchor="start" fill="#231f20" stroke="#231f20" stroke-width="0.15" font-weight="normal" >5 kV</text>
<rect x="640" y="249.2" width="23" height="10.5" fill="url(#gBlue)" stroke="#231f20" stroke-width="0.9"/>
<text x="666" y="257.45" font-size="8" text-anchor="start" fill="#231f20" stroke="#231f20" stroke-width="0.15" font-weight="normal" >#4</text>
<rect x="640.7" y="296.9" width="22.5" height="10" fill="url(#gPink2)" stroke="#231f20" stroke-width="0.9"/>
<text x="666" y="304.9" font-size="8" text-anchor="start" fill="#231f20" stroke="#231f20" stroke-width="0.15" font-weight="normal" >#5</text>
<line x1="516" y1="245.7" x2="520" y2="245.7" stroke="#231f20" stroke-width="0.8" />
<text x="511.5" y="248.9" font-size="9.2" text-anchor="end" fill="#231f20" stroke="#231f20" stroke-width="0.15" font-weight="normal" >0</text>
<line x1="516" y1="227.1" x2="520" y2="227.1" stroke="#231f20" stroke-width="0.8" />
<text x="511.5" y="230.3" font-size="9.2" text-anchor="end" fill="#231f20" stroke="#231f20" stroke-width="0.15" font-weight="normal" >5</text>
<line x1="516" y1="208.5" x2="520" y2="208.5" stroke="#231f20" stroke-width="0.8" />
<text x="511.5" y="211.7" font-size="9.2" text-anchor="end" fill="#231f20" stroke="#231f20" stroke-width="0.15" font-weight="normal" >10</text>
<line x1="518" y1="236.4" x2="520" y2="236.4" stroke="#231f20" stroke-width="0.8" />
<line x1="518" y1="217.8" x2="520" y2="217.8" stroke="#231f20" stroke-width="0.8" />
<line x1="516" y1="291.5" x2="520" y2="291.5" stroke="#231f20" stroke-width="0.8" />
<text x="511.5" y="294.7" font-size="9.2" text-anchor="end" fill="#231f20" stroke="#231f20" stroke-width="0.15" font-weight="normal" >0</text>
<line x1="516" y1="262.3" x2="520" y2="262.3" stroke="#231f20" stroke-width="0.8" />
<text x="511.5" y="265.5" font-size="9.2" text-anchor="end" fill="#231f20" stroke="#231f20" stroke-width="0.15" font-weight="normal" >400</text>
<line x1="518" y1="276.9" x2="520" y2="276.9" stroke="#231f20" stroke-width="0.8" />
<line x1="518" y1="247.7" x2="520" y2="247.7" stroke="#231f20" stroke-width="0.8" />
<line x1="516" y1="340" x2="520" y2="340" stroke="#231f20" stroke-width="0.8" />
<text x="511.5" y="343.2" font-size="9.2" text-anchor="end" fill="#231f20" stroke="#231f20" stroke-width="0.15" font-weight="normal" >0</text>
<line x1="516" y1="314.3" x2="520" y2="314.3" stroke="#231f20" stroke-width="0.8" />
<text x="511.5" y="317.5" font-size="9.2" text-anchor="end" fill="#231f20" stroke="#231f20" stroke-width="0.15" font-weight="normal" >400</text>
<line x1="518" y1="327.15" x2="520" y2="327.15" stroke="#231f20" stroke-width="0.8" />
<line x1="518" y1="301.45" x2="520" y2="301.45" stroke="#231f20" stroke-width="0.8" />
<line x1="520.1" y1="343.2" x2="520.1" y2="347.2" stroke="#231f20" stroke-width="0.8" />
<text x="520.1" y="357.5" font-size="9.2" text-anchor="middle" fill="#231f20" stroke="#231f20" stroke-width="0.15" font-weight="normal" >0</text>
<line x1="552.02" y1="343.2" x2="552.02" y2="347.2" stroke="#231f20" stroke-width="0.8" />
<text x="552.02" y="357.5" font-size="9.2" text-anchor="middle" fill="#231f20" stroke="#231f20" stroke-width="0.15" font-weight="normal" >2</text>
<line x1="583.94" y1="343.2" x2="583.94" y2="347.2" stroke="#231f20" stroke-width="0.8" />
<text x="583.94" y="357.5" font-size="9.2" text-anchor="middle" fill="#231f20" stroke="#231f20" stroke-width="0.15" font-weight="normal" >4</text>
<line x1="615.86" y1="343.2" x2="615.86" y2="347.2" stroke="#231f20" stroke-width="0.8" />
<text x="615.86" y="357.5" font-size="9.2" text-anchor="middle" fill="#231f20" stroke="#231f20" stroke-width="0.15" font-weight="normal" >6</text>
<line x1="647.78" y1="343.2" x2="647.78" y2="347.2" stroke="#231f20" stroke-width="0.8" />
<text x="647.78" y="357.5" font-size="9.2" text-anchor="middle" fill="#231f20" stroke="#231f20" stroke-width="0.15" font-weight="normal" >8</text>
<line x1="679.7" y1="343.2" x2="679.7" y2="347.2" stroke="#231f20" stroke-width="0.8" />
<text x="679.7" y="357.5" font-size="9.2" text-anchor="middle" fill="#231f20" stroke="#231f20" stroke-width="0.15" font-weight="normal" >10</text>
<line x1="536.06" y1="343.2" x2="536.06" y2="345.2" stroke="#231f20" stroke-width="0.8" />
<line x1="567.98" y1="343.2" x2="567.98" y2="345.2" stroke="#231f20" stroke-width="0.8" />
<line x1="599.9" y1="343.2" x2="599.9" y2="345.2" stroke="#231f20" stroke-width="0.8" />
<line x1="631.82" y1="343.2" x2="631.82" y2="345.2" stroke="#231f20" stroke-width="0.8" />
<line x1="663.74" y1="343.2" x2="663.74" y2="345.2" stroke="#231f20" stroke-width="0.8" />
<text x="600" y="369.5" font-size="9.5" text-anchor="middle" fill="#231f20" stroke="#231f20" stroke-width="0.15" font-weight="normal" >Time (s)</text>
<text x="488.2" y="224.5" font-size="9.5" text-anchor="middle" fill="#231f20" stroke="#231f20" stroke-width="0.15" font-weight="normal" transform="rotate(-90 488.2 224.5)" >Strain (%)</text>
<text x="487.5" y="296" font-size="9.5" text-anchor="middle" fill="#231f20" stroke="#231f20" stroke-width="0.15" font-weight="normal" transform="rotate(-90 487.5 296)" >(<tspan font-style="italic">R</tspan>−<tspan font-style="italic">R</tspan><tspan font-size="72%" dy="2.2">0</tspan><tspan dy="-2.2">)/</tspan><tspan font-style="italic">R</tspan><tspan font-size="72%" dy="2.2">0</tspan><tspan dy="-2.2"> (%)</tspan></text>
<text x="481.8" y="200.8" font-size="16.5" text-anchor="start" fill="#000" stroke="#000" stroke-width="0.1" font-weight="bold" >f</text>
<rect x="49.6" y="392.2" width="18.45" height="289.8" fill="#e2fde2" />
<polyline points="49.6,455.9 68.0,455.9 68.0,412.6 86.5,412.6 86.5,455.9 178.7,455.9 178.7,412.6 197.2,412.6 197.2,455.9 289.4,455.9 289.4,412.6 307.8,412.6 307.8,455.9 400.1,455.9 400.1,412.6 418.5,412.6 418.5,455.9 510.7,455.9 510.7,412.6 529.2,412.6 529.2,455.9 621.4,455.9" fill="none" stroke="#399a93" stroke-width="1.5" stroke-linejoin="round" stroke-linejoin="miter"/>
<polyline points="49.6,455.3 104.9,455.3 104.9,412.6 123.4,412.6 123.4,455.3 215.6,455.3 215.6,412.6 234.1,412.6 234.1,455.3 326.3,455.3 326.3,412.6 344.7,412.6 344.7,455.3 436.9,455.3 436.9,412.6 455.4,412.6 455.4,455.3 547.6,455.3 547.6,412.6 566.1,412.6 566.1,455.3 621.4,455.3" fill="none" stroke="#8b55a6" stroke-width="1.5" stroke-linejoin="round" stroke-linejoin="miter"/>
<polyline points="49.6,454.5 141.8,454.5 141.8,412.6 160.3,412.6 160.3,454.5 252.5,454.5 252.5,412.6 270.9,412.6 270.9,454.5 363.2,454.5 363.2,412.6 381.6,412.6 381.6,454.5 473.8,454.5 473.8,412.6 492.3,412.6 492.3,454.5 584.5,454.5 584.5,412.6 603.0,412.6 603.0,454.5 621.4,454.5" fill="none" stroke="#f7982f" stroke-width="1.5" stroke-linejoin="round" stroke-linejoin="miter"/>
<line x1="447" y1="400.4" x2="472.7" y2="400.4" stroke="#399a93" stroke-width="1.4" />
<text x="475.5" y="403.2" font-size="7.7" text-anchor="start" fill="#231f20" stroke="#231f20" stroke-width="0.15" font-weight="normal" >Elec.1</text>
<line x1="505.4" y1="400.4" x2="531.1" y2="400.4" stroke="#8b55a6" stroke-width="1.4" />
<text x="533.5" y="403.2" font-size="7.7" text-anchor="start" fill="#231f20" stroke="#231f20" stroke-width="0.15" font-weight="normal" >Elec.2</text>
<line x1="563.8" y1="400.4" x2="589.5" y2="400.4" stroke="#f7982f" stroke-width="1.4" />
<text x="592.1" y="403.2" font-size="7.7" text-anchor="start" fill="#231f20" stroke="#231f20" stroke-width="0.15" font-weight="normal" >Elec.3</text>
<polygon points="49.6,528.8 68.0,528.8 68.8,487.0 70.3,484.2 71.7,482.0 73.6,480.0 75.4,478.5 77.7,477.2 80.2,476.2 83.2,475.4 86.5,475.0 87.6,490.4 88.4,496.9 89.1,501.5 89.8,504.7 90.9,508.0 92.4,510.7 93.9,512.2 95.4,513.3 97.6,514.4 104.9,516.9 104.9,515.7 113.8,518.0 123.4,519.9 123.4,521.1 132.3,522.5 141.8,523.7 141.8,522.0 160.3,523.6 160.3,525.2 178.7,526.1 178.7,526.4 179.5,487.0 181.0,484.1 182.5,481.9 184.3,479.9 186.2,478.4 188.4,477.1 191.0,476.1 193.9,475.4 197.2,475.0 198.4,491.2 199.1,497.4 200.2,503.5 201.3,507.3 202.8,510.2 204.3,512.0 206.5,513.5 210.2,515.1 215.6,516.9 215.6,515.7 224.6,518.0 234.0,519.9 234.1,521.1 238.6,521.8 252.5,523.7 252.5,522.0 270.9,523.6 270.9,525.2 289.4,526.1 289.4,526.4 290.1,487.0 291.8,484.0 293.2,481.8 295.1,479.8 296.9,478.4 299.1,477.1 301.7,476.1 304.7,475.4 307.8,475.0 309.1,491.9 309.8,497.9 311.0,503.8 312.1,507.5 313.2,509.8 314.6,511.7 316.9,513.3 320.5,515.0 326.3,516.9 326.3,515.7 334.9,517.9 344.7,519.9 344.7,521.1 349.0,521.8 363.2,523.7 363.2,522.0 381.6,523.6 381.6,525.2 400.1,526.1 400.1,526.4 400.8,487.0 402.5,483.8 404.0,481.7 405.8,479.8 407.7,478.3 409.9,477.1 412.1,476.2 415.0,475.5 418.5,475.0 419.8,492.6 420.6,498.4 421.7,504.1 422.8,507.7 423.9,509.9 425.4,511.8 427.6,513.4 431.3,515.0 436.9,516.9 437.0,515.7 445.7,517.9 455.4,519.9 455.4,521.1 459.7,521.8 473.8,523.7 473.8,522.0 492.3,523.6 492.3,525.2 510.7,526.1 510.7,526.4 511.5,487.0 512.9,484.3 514.7,481.7 516.6,479.7 518.4,478.3 520.6,477.0 522.8,476.2 525.8,475.5 529.2,475.0 530.6,493.2 531.3,498.8 532.4,504.4 533.5,507.8 534.7,510.0 536.1,511.8 538.3,513.4 542.0,515.1 547.6,516.9 547.6,515.7 556.4,517.9 566.1,519.9 566.1,521.1 571.2,521.9 584.5,523.7 584.5,522.0 603.0,523.6 603.0,525.2 621.4,526.1 621.4,528.8 49.6,528.8" fill="url(#gG6u)" stroke="none" />
<polyline points="49.6,528.8 68.0,528.8 68.8,487.0 70.3,484.2 71.7,482.0 73.6,480.0 75.4,478.5 77.7,477.2 80.2,476.2 83.2,475.4 86.5,475.0 87.6,490.4 88.4,496.9 89.1,501.5 89.8,504.7 90.9,508.0 92.4,510.7 93.9,512.2 95.4,513.3 97.6,514.4 104.9,516.9 104.9,515.7 113.8,518.0 123.4,519.9 123.4,521.1 132.3,522.5 141.8,523.7 141.8,522.0 160.3,523.6 160.3,525.2 178.7,526.1 178.7,526.4 179.5,487.0 181.0,484.1 182.5,481.9 184.3,479.9 186.2,478.4 188.4,477.1 191.0,476.1 193.9,475.4 197.2,475.0 198.4,491.2 199.1,497.4 200.2,503.5 201.3,507.3 202.8,510.2 204.3,512.0 206.5,513.5 210.2,515.1 215.6,516.9 215.6,515.7 224.6,518.0 234.0,519.9 234.1,521.1 238.6,521.8 252.5,523.7 252.5,522.0 270.9,523.6 270.9,525.2 289.4,526.1 289.4,526.4 290.1,487.0 291.8,484.0 293.2,481.8 295.1,479.8 296.9,478.4 299.1,477.1 301.7,476.1 304.7,475.4 307.8,475.0 309.1,491.9 309.8,497.9 311.0,503.8 312.1,507.5 313.2,509.8 314.6,511.7 316.9,513.3 320.5,515.0 326.3,516.9 326.3,515.7 334.9,517.9 344.7,519.9 344.7,521.1 349.0,521.8 363.2,523.7 363.2,522.0 381.6,523.6 381.6,525.2 400.1,526.1 400.1,526.4 400.8,487.0 402.5,483.8 404.0,481.7 405.8,479.8 407.7,478.3 409.9,477.1 412.1,476.2 415.0,475.5 418.5,475.0 419.8,492.6 420.6,498.4 421.7,504.1 422.8,507.7 423.9,509.9 425.4,511.8 427.6,513.4 431.3,515.0 436.9,516.9 437.0,515.7 445.7,517.9 455.4,519.9 455.4,521.1 459.7,521.8 473.8,523.7 473.8,522.0 492.3,523.6 492.3,525.2 510.7,526.1 510.7,526.4 511.5,487.0 512.9,484.3 514.7,481.7 516.6,479.7 518.4,478.3 520.6,477.0 522.8,476.2 525.8,475.5 529.2,475.0 530.6,493.2 531.3,498.8 532.4,504.4 533.5,507.8 534.7,510.0 536.1,511.8 538.3,513.4 542.0,515.1 547.6,516.9 547.6,515.7 556.4,517.9 566.1,519.9 566.1,521.1 571.2,521.9 584.5,523.7 584.5,522.0 603.0,523.6 603.0,525.2 621.4,526.1" fill="none" stroke="#35938c" stroke-width="1.4" stroke-linejoin="round" />
<polygon points="49.6,601.3 68.0,601.3 68.0,598.5 86.5,598.5 86.5,602.1 104.9,602.1 105.7,554.1 107.2,552.0 108.7,550.4 110.5,548.9 112.4,547.8 114.6,546.9 117.2,546.2 123.4,545.3 124.5,561.9 125.3,568.6 126.0,573.4 126.8,576.8 127.9,580.3 129.0,582.5 130.4,584.3 132.3,585.8 134.5,587.0 141.8,589.6 141.8,592.0 150.7,594.4 160.3,596.3 160.3,597.3 168.5,598.5 177.7,599.6 178.7,599.7 178.7,596.5 197.2,598.0 197.2,600.8 215.6,601.6 216.3,554.1 217.9,551.9 219.4,550.4 221.3,548.9 223.1,547.8 225.3,546.9 227.9,546.1 234.0,545.3 235.3,562.6 236.4,571.6 237.1,575.6 238.2,579.5 239.3,582.0 240.4,583.6 242.3,585.3 244.5,586.6 247.8,588.0 252.5,589.6 252.5,592.0 261.1,594.3 270.9,596.3 270.9,597.3 280.3,598.7 289.4,599.7 289.4,596.5 307.8,598.0 307.8,600.8 326.3,601.6 327.0,554.1 328.7,551.8 330.1,550.3 332.0,548.8 333.8,547.8 336.1,546.8 338.6,546.1 344.7,545.3 345.7,559.3 346.4,566.8 347.1,572.1 348.6,578.6 349.7,581.4 350.8,583.2 352.7,585.1 354.9,586.5 358.2,587.9 363.2,589.6 363.2,592.0 371.9,594.3 381.6,596.3 381.6,597.3 390.3,598.6 400.1,599.7 400.1,596.5 418.5,598.0 418.5,600.8 436.9,601.6 437.7,554.1 439.0,552.2 440.9,550.2 442.7,548.8 444.6,547.7 446.8,546.8 449.0,546.2 455.4,545.3 456.1,556.9 457.1,567.4 458.2,574.5 459.7,579.9 460.5,581.6 461.6,583.3 463.8,585.4 467.5,587.4 473.8,589.6 473.8,592.0 482.6,594.3 492.3,596.3 492.3,597.3 502.2,598.8 510.7,599.7 510.7,596.5 529.2,598.0 529.2,600.8 547.6,601.6 548.4,554.1 549.8,552.1 551.6,550.2 553.5,548.7 555.3,547.7 557.5,546.8 559.8,546.2 566.1,545.3 567.1,561.0 567.9,568.0 568.6,572.9 569.4,576.5 570.5,580.1 571.9,582.9 573.4,584.6 575.3,586.0 577.5,587.1 584.5,589.6 584.5,592.0 593.3,594.4 603.0,596.3 603.0,597.3 611.8,598.6 621.4,599.7 621.4,596.5 621.4,601.3 49.6,601.3" fill="url(#gG7u)" stroke="none" />
<polyline points="49.6,601.3 68.0,601.3 68.0,598.5 86.5,598.5 86.5,602.1 104.9,602.1 105.7,554.1 107.2,552.0 108.7,550.4 110.5,548.9 112.4,547.8 114.6,546.9 117.2,546.2 123.4,545.3 124.5,561.9 125.3,568.6 126.0,573.4 126.8,576.8 127.9,580.3 129.0,582.5 130.4,584.3 132.3,585.8 134.5,587.0 141.8,589.6 141.8,592.0 150.7,594.4 160.3,596.3 160.3,597.3 168.5,598.5 177.7,599.6 178.7,599.7 178.7,596.5 197.2,598.0 197.2,600.8 215.6,601.6 216.3,554.1 217.9,551.9 219.4,550.4 221.3,548.9 223.1,547.8 225.3,546.9 227.9,546.1 234.0,545.3 235.3,562.6 236.4,571.6 237.1,575.6 238.2,579.5 239.3,582.0 240.4,583.6 242.3,585.3 244.5,586.6 247.8,588.0 252.5,589.6 252.5,592.0 261.1,594.3 270.9,596.3 270.9,597.3 280.3,598.7 289.4,599.7 289.4,596.5 307.8,598.0 307.8,600.8 326.3,601.6 327.0,554.1 328.7,551.8 330.1,550.3 332.0,548.8 333.8,547.8 336.1,546.8 338.6,546.1 344.7,545.3 345.7,559.3 346.4,566.8 347.1,572.1 348.6,578.6 349.7,581.4 350.8,583.2 352.7,585.1 354.9,586.5 358.2,587.9 363.2,589.6 363.2,592.0 371.9,594.3 381.6,596.3 381.6,597.3 390.3,598.6 400.1,599.7 400.1,596.5 418.5,598.0 418.5,600.8 436.9,601.6 437.7,554.1 439.0,552.2 440.9,550.2 442.7,548.8 444.6,547.7 446.8,546.8 449.0,546.2 455.4,545.3 456.1,556.9 457.1,567.4 458.2,574.5 459.7,579.9 460.5,581.6 461.6,583.3 463.8,585.4 467.5,587.4 473.8,589.6 473.8,592.0 482.6,594.3 492.3,596.3 492.3,597.3 502.2,598.8 510.7,599.7 510.7,596.5 529.2,598.0 529.2,600.8 547.6,601.6 548.4,554.1 549.8,552.1 551.6,550.2 553.5,548.7 555.3,547.7 557.5,546.8 559.8,546.2 566.1,545.3 567.1,561.0 567.9,568.0 568.6,572.9 569.4,576.5 570.5,580.1 571.9,582.9 573.4,584.6 575.3,586.0 577.5,587.1 584.5,589.6 584.5,592.0 593.3,594.4 603.0,596.3 603.0,597.3 611.8,598.6 621.4,599.7 621.4,596.5" fill="none" stroke="#8a50a5" stroke-width="1.4" stroke-linejoin="round" />
<polygon points="49.6,673.9 68.0,673.9 68.0,672.3 86.5,672.3 86.5,673.9 104.9,673.9 104.9,671.1 105.5,670.9 108.7,670.3 112.7,669.8 123.4,669.2 123.4,673.1 141.8,673.1 142.6,635.2 144.1,632.5 145.6,630.4 147.4,628.5 149.3,627.1 151.5,625.9 154.1,625.0 157.0,624.3 160.3,623.9 161.4,639.3 162.2,645.3 162.9,649.6 163.7,652.7 164.8,655.7 165.9,657.7 167.4,659.3 168.8,660.3 171.0,661.3 178.4,663.4 178.7,663.5 178.7,663.1 187.7,665.0 197.2,666.5 197.2,667.8 206.1,668.9 215.6,669.9 215.6,667.8 234.0,669.1 234.1,671.1 252.5,671.9 253.2,635.2 254.8,632.3 256.3,630.3 258.2,628.5 260.0,627.1 262.2,625.9 264.8,625.0 267.8,624.3 270.9,623.9 272.2,640.0 273.3,648.1 274.0,651.6 275.1,655.1 276.3,657.2 277.7,659.0 279.2,660.1 281.4,661.2 288.1,663.2 289.4,663.5 289.4,663.1 298.0,664.9 307.8,666.5 307.8,667.8 317.2,669.0 326.3,669.9 326.3,667.8 344.7,669.1 344.7,671.1 363.2,671.9 363.9,635.2 365.6,632.2 367.1,630.3 368.9,628.4 370.8,627.0 373.0,625.9 375.6,624.9 378.5,624.3 381.6,623.9 382.6,637.0 383.3,643.7 384.0,648.5 385.5,654.3 386.6,656.7 387.7,658.3 388.8,659.4 390.3,660.4 394.4,662.0 400.1,663.5 400.1,663.1 408.8,664.9 418.5,666.5 418.5,667.8 427.2,668.9 436.9,669.9 437.0,667.8 455.4,669.1 455.4,671.1 473.8,671.9 474.6,635.2 476.0,632.7 477.8,630.2 479.6,628.3 481.5,627.0 483.7,625.8 485.9,625.0 488.9,624.3 492.3,623.9 493.0,634.5 494.0,644.2 495.2,650.6 496.3,654.5 497.7,657.5 499.6,659.4 501.8,660.8 505.5,662.1 510.7,663.5 510.7,663.1 519.5,664.9 529.2,666.5 529.2,667.8 534.7,668.5 547.6,669.9 547.6,667.8 566.1,669.1 566.1,671.1 584.5,671.9 585.2,635.2 586.7,632.6 588.2,630.5 590.0,628.6 591.9,627.2 594.1,626.0 596.7,625.0 599.6,624.3 603.0,623.9 603.7,634.5 604.8,644.7 605.9,650.9 607.4,655.6 608.1,657.0 609.2,658.5 610.3,659.5 611.8,660.4 614.4,661.5 617.7,662.5 621.4,663.5 621.4,663.1 621.4,673.9 49.6,673.9" fill="url(#gG8u)" stroke="none" />
<polyline points="49.6,673.9 68.0,673.9 68.0,672.3 86.5,672.3 86.5,673.9 104.9,673.9 104.9,671.1 105.5,670.9 108.7,670.3 112.7,669.8 123.4,669.2 123.4,673.1 141.8,673.1 142.6,635.2 144.1,632.5 145.6,630.4 147.4,628.5 149.3,627.1 151.5,625.9 154.1,625.0 157.0,624.3 160.3,623.9 161.4,639.3 162.2,645.3 162.9,649.6 163.7,652.7 164.8,655.7 165.9,657.7 167.4,659.3 168.8,660.3 171.0,661.3 178.4,663.4 178.7,663.5 178.7,663.1 187.7,665.0 197.2,666.5 197.2,667.8 206.1,668.9 215.6,669.9 215.6,667.8 234.0,669.1 234.1,671.1 252.5,671.9 253.2,635.2 254.8,632.3 256.3,630.3 258.2,628.5 260.0,627.1 262.2,625.9 264.8,625.0 267.8,624.3 270.9,623.9 272.2,640.0 273.3,648.1 274.0,651.6 275.1,655.1 276.3,657.2 277.7,659.0 279.2,660.1 281.4,661.2 288.1,663.2 289.4,663.5 289.4,663.1 298.0,664.9 307.8,666.5 307.8,667.8 317.2,669.0 326.3,669.9 326.3,667.8 344.7,669.1 344.7,671.1 363.2,671.9 363.9,635.2 365.6,632.2 367.1,630.3 368.9,628.4 370.8,627.0 373.0,625.9 375.6,624.9 378.5,624.3 381.6,623.9 382.6,637.0 383.3,643.7 384.0,648.5 385.5,654.3 386.6,656.7 387.7,658.3 388.8,659.4 390.3,660.4 394.4,662.0 400.1,663.5 400.1,663.1 408.8,664.9 418.5,666.5 418.5,667.8 427.2,668.9 436.9,669.9 437.0,667.8 455.4,669.1 455.4,671.1 473.8,671.9 474.6,635.2 476.0,632.7 477.8,630.2 479.6,628.3 481.5,627.0 483.7,625.8 485.9,625.0 488.9,624.3 492.3,623.9 493.0,634.5 494.0,644.2 495.2,650.6 496.3,654.5 497.7,657.5 499.6,659.4 501.8,660.8 505.5,662.1 510.7,663.5 510.7,663.1 519.5,664.9 529.2,666.5 529.2,667.8 534.7,668.5 547.6,669.9 547.6,667.8 566.1,669.1 566.1,671.1 584.5,671.9 585.2,635.2 586.7,632.6 588.2,630.5 590.0,628.6 591.9,627.2 594.1,626.0 596.7,625.0 599.6,624.3 603.0,623.9 603.7,634.5 604.8,644.7 605.9,650.9 607.4,655.6 608.1,657.0 609.2,658.5 610.3,659.5 611.8,660.4 614.4,661.5 617.7,662.5 621.4,663.5 621.4,663.1" fill="none" stroke="#f7962e" stroke-width="1.4" stroke-linejoin="round" />
<line x1="49.6" y1="392.2" x2="621.4" y2="392.2" stroke="#231f20" stroke-width="1" />
<line x1="49.6" y1="392.2" x2="49.6" y2="682" stroke="#231f20" stroke-width="1" />
<line x1="621.4" y1="392.2" x2="621.4" y2="682" stroke="#666" stroke-width="1" />
<line x1="49.6" y1="464.5" x2="621.4" y2="464.5" stroke="#231f20" stroke-width="1.1" />
<line x1="49.6" y1="536.5" x2="621.4" y2="536.5" stroke="#888" stroke-width="1.2" />
<line x1="49.6" y1="609.2" x2="621.4" y2="609.2" stroke="#231f20" stroke-width="1.1" />
<line x1="49.6" y1="682" x2="621.4" y2="682" stroke="#666" stroke-width="1.2" />
<rect x="579.9" y="467.2" width="24.7" height="11.3" fill="url(#gL6)" stroke="#231f20" stroke-width="0.9"/>
<text x="607.3" y="475.85" font-size="7.5" text-anchor="start" fill="#231f20" stroke="#231f20" stroke-width="0.15" font-weight="normal" >#6</text>
<rect x="579.9" y="539.4" width="24.7" height="11.1" fill="url(#gL7)" stroke="#231f20" stroke-width="0.9"/>
<text x="607.3" y="547.95" font-size="7.5" text-anchor="start" fill="#231f20" stroke="#231f20" stroke-width="0.15" font-weight="normal" >#7</text>
<rect x="580.6" y="612.5" width="23.9" height="10.7" fill="url(#gL8)" stroke="#231f20" stroke-width="0.9"/>
<text x="608.1" y="620.85" font-size="7.5" text-anchor="start" fill="#231f20" stroke="#231f20" stroke-width="0.15" font-weight="normal" >#8</text>
<line x1="45.6" y1="454.6" x2="49.6" y2="454.6" stroke="#231f20" stroke-width="0.8" />
<text x="40.6" y="457.8" font-size="9.8" text-anchor="end" fill="#231f20" stroke="#231f20" stroke-width="0.15" font-weight="normal" >0</text>
<line x1="45.6" y1="412.6" x2="49.6" y2="412.6" stroke="#231f20" stroke-width="0.8" />
<text x="40.6" y="415.8" font-size="9.8" text-anchor="end" fill="#231f20" stroke="#231f20" stroke-width="0.15" font-weight="normal" >4</text>
<line x1="47.6" y1="433.6" x2="49.6" y2="433.6" stroke="#231f20" stroke-width="0.8" />
<line x1="47.6" y1="391.6" x2="49.6" y2="391.6" stroke="#231f20" stroke-width="0.8" />
<line x1="47.6" y1="465.1" x2="49.6" y2="465.1" stroke="#231f20" stroke-width="0.8" />
<line x1="45.6" y1="528.8" x2="49.6" y2="528.8" stroke="#231f20" stroke-width="0.8" />
<text x="40.6" y="532" font-size="9.8" text-anchor="end" fill="#231f20" stroke="#231f20" stroke-width="0.15" font-weight="normal" >0</text>
<line x1="45.6" y1="504.7" x2="49.6" y2="504.7" stroke="#231f20" stroke-width="0.8" />
<text x="40.6" y="507.9" font-size="9.8" text-anchor="end" fill="#231f20" stroke="#231f20" stroke-width="0.15" font-weight="normal" >30</text>
<line x1="45.6" y1="480.6" x2="49.6" y2="480.6" stroke="#231f20" stroke-width="0.8" />
<text x="40.6" y="483.8" font-size="9.8" text-anchor="end" fill="#231f20" stroke="#231f20" stroke-width="0.15" font-weight="normal" >60</text>
<line x1="47.6" y1="516.75" x2="49.6" y2="516.75" stroke="#231f20" stroke-width="0.8" />
<line x1="47.6" y1="492.65" x2="49.6" y2="492.65" stroke="#231f20" stroke-width="0.8" />
<line x1="47.6" y1="468.55" x2="49.6" y2="468.55" stroke="#231f20" stroke-width="0.8" />
<line x1="47.6" y1="534.82" x2="49.6" y2="534.82" stroke="#231f20" stroke-width="0.8" />
<line x1="45.6" y1="601.3" x2="49.6" y2="601.3" stroke="#231f20" stroke-width="0.8" />
<text x="40.6" y="604.5" font-size="9.8" text-anchor="end" fill="#231f20" stroke="#231f20" stroke-width="0.15" font-weight="normal" >0</text>
<line x1="45.6" y1="577.3" x2="49.6" y2="577.3" stroke="#231f20" stroke-width="0.8" />
<text x="40.6" y="580.5" font-size="9.8" text-anchor="end" fill="#231f20" stroke="#231f20" stroke-width="0.15" font-weight="normal" >30</text>
<line x1="45.6" y1="553.3" x2="49.6" y2="553.3" stroke="#231f20" stroke-width="0.8" />
<text x="40.6" y="556.5" font-size="9.8" text-anchor="end" fill="#231f20" stroke="#231f20" stroke-width="0.15" font-weight="normal" >60</text>
<line x1="47.6" y1="589.3" x2="49.6" y2="589.3" stroke="#231f20" stroke-width="0.8" />
<line x1="47.6" y1="565.3" x2="49.6" y2="565.3" stroke="#231f20" stroke-width="0.8" />
<line x1="47.6" y1="541.3" x2="49.6" y2="541.3" stroke="#231f20" stroke-width="0.8" />
<line x1="47.6" y1="607.3" x2="49.6" y2="607.3" stroke="#231f20" stroke-width="0.8" />
<line x1="45.6" y1="673.9" x2="49.6" y2="673.9" stroke="#231f20" stroke-width="0.8" />
<text x="40.6" y="677.1" font-size="9.8" text-anchor="end" fill="#231f20" stroke="#231f20" stroke-width="0.15" font-weight="normal" >0</text>
<line x1="45.6" y1="649.7" x2="49.6" y2="649.7" stroke="#231f20" stroke-width="0.8" />
<text x="40.6" y="652.9" font-size="9.8" text-anchor="end" fill="#231f20" stroke="#231f20" stroke-width="0.15" font-weight="normal" >30</text>
<line x1="45.6" y1="625.5" x2="49.6" y2="625.5" stroke="#231f20" stroke-width="0.8" />
<text x="40.6" y="628.7" font-size="9.8" text-anchor="end" fill="#231f20" stroke="#231f20" stroke-width="0.15" font-weight="normal" >60</text>
<line x1="47.6" y1="661.8" x2="49.6" y2="661.8" stroke="#231f20" stroke-width="0.8" />
<line x1="47.6" y1="637.6" x2="49.6" y2="637.6" stroke="#231f20" stroke-width="0.8" />
<line x1="47.6" y1="613.4" x2="49.6" y2="613.4" stroke="#231f20" stroke-width="0.8" />
<line x1="47.6" y1="679.95" x2="49.6" y2="679.95" stroke="#231f20" stroke-width="0.8" />
<line x1="49.6" y1="682" x2="49.6" y2="686" stroke="#231f20" stroke-width="0.8" />
<text x="49.6" y="697.2" font-size="9.8" text-anchor="middle" fill="#231f20" stroke="#231f20" stroke-width="0.15" font-weight="normal" >0</text>
<line x1="160.27" y1="682" x2="160.27" y2="686" stroke="#231f20" stroke-width="0.8" />
<text x="160.27" y="697.2" font-size="9.8" text-anchor="middle" fill="#231f20" stroke="#231f20" stroke-width="0.15" font-weight="normal" >30</text>
<line x1="270.94" y1="682" x2="270.94" y2="686" stroke="#231f20" stroke-width="0.8" />
<text x="270.94" y="697.2" font-size="9.8" text-anchor="middle" fill="#231f20" stroke="#231f20" stroke-width="0.15" font-weight="normal" >60</text>
<line x1="381.61" y1="682" x2="381.61" y2="686" stroke="#231f20" stroke-width="0.8" />
<text x="381.61" y="697.2" font-size="9.8" text-anchor="middle" fill="#231f20" stroke="#231f20" stroke-width="0.15" font-weight="normal" >90</text>
<line x1="492.28" y1="682" x2="492.28" y2="686" stroke="#231f20" stroke-width="0.8" />
<text x="492.28" y="697.2" font-size="9.8" text-anchor="middle" fill="#231f20" stroke="#231f20" stroke-width="0.15" font-weight="normal" >120</text>
<line x1="602.95" y1="682" x2="602.95" y2="686" stroke="#231f20" stroke-width="0.8" />
<text x="602.95" y="697.2" font-size="9.8" text-anchor="middle" fill="#231f20" stroke="#231f20" stroke-width="0.15" font-weight="normal" >150</text>
<line x1="104.94" y1="682" x2="104.94" y2="684" stroke="#231f20" stroke-width="0.8" />
<line x1="215.61" y1="682" x2="215.61" y2="684" stroke="#231f20" stroke-width="0.8" />
<line x1="326.28" y1="682" x2="326.28" y2="684" stroke="#231f20" stroke-width="0.8" />
<line x1="436.95" y1="682" x2="436.95" y2="684" stroke="#231f20" stroke-width="0.8" />
<line x1="547.62" y1="682" x2="547.62" y2="684" stroke="#231f20" stroke-width="0.8" />
<text x="332" y="706" font-size="9.3" text-anchor="middle" fill="#231f20" stroke="#231f20" stroke-width="0.15" font-weight="normal" >Time (s)</text>
<text x="21" y="428" font-size="9.5" text-anchor="middle" fill="#231f20" stroke="#231f20" stroke-width="0.15" font-weight="normal" transform="rotate(-90 21 428)" >Voltage (kV)</text>
<text x="16.5" y="573" font-size="9.5" text-anchor="middle" fill="#231f20" stroke="#231f20" stroke-width="0.15" font-weight="normal" transform="rotate(-90 16.5 573)" >(<tspan font-style="italic">R</tspan>−<tspan font-style="italic">R</tspan><tspan font-size="72%" dy="2.2">0</tspan><tspan dy="-2.2">)/</tspan><tspan font-style="italic">R</tspan><tspan font-size="72%" dy="2.2">0</tspan><tspan dy="-2.2"> (%)</tspan></text>
<text x="12.5" y="392.5" font-size="16.5" text-anchor="start" fill="#000" stroke="#000" stroke-width="0.1" font-weight="bold" >g</text>
<rect x="49.6" y="722.5" width="18.96" height="175.8" fill="#e6fde6" />
<rect x="68.56" y="722.5" width="18.96" height="175.8" fill="#b8f7b8" />
<rect x="87.51" y="722.5" width="37.91" height="175.8" fill="#f7e1fb" />
<rect x="125.43" y="722.5" width="37.91" height="175.8" fill="#fef1e6" />
<rect x="163.34" y="722.5" width="37.91" height="175.8" fill="#b8f7b8" />
<rect x="201.25" y="722.5" width="37.91" height="175.8" fill="#f7e1fb" />
<rect x="239.17" y="722.5" width="37.91" height="175.8" fill="#fef1e6" />
<rect x="277.08" y="722.5" width="37.91" height="175.8" fill="#b8f7b8" />
<rect x="314.99" y="722.5" width="37.91" height="175.8" fill="#f7e1fb" />
<rect x="352.91" y="722.5" width="37.91" height="175.8" fill="#fef1e6" />
<rect x="390.82" y="722.5" width="37.91" height="175.8" fill="#b8f7b8" />
<rect x="428.73" y="722.5" width="37.91" height="175.8" fill="#f7e1fb" />
<rect x="466.65" y="722.5" width="37.91" height="175.8" fill="#fef1e6" />
<rect x="504.56" y="722.5" width="37.91" height="175.8" fill="#b8f7b8" />
<rect x="542.47" y="722.5" width="37.91" height="175.8" fill="#f7e1fb" />
<rect x="580.39" y="722.5" width="37.91" height="175.8" fill="#fef1e6" />
<line x1="88.92" y1="722.5" x2="88.92" y2="898.3" stroke="#6e6e6e" stroke-width="1.0" stroke-dasharray="4.4,3"/>
<line x1="94.26" y1="722.5" x2="94.26" y2="898.3" stroke="#6e6e6e" stroke-width="1.0" stroke-dasharray="4.4,3"/>
<line x1="99.61" y1="722.5" x2="99.61" y2="898.3" stroke="#6e6e6e" stroke-width="1.0" stroke-dasharray="4.4,3"/>
<line x1="104.95" y1="722.5" x2="104.95" y2="898.3" stroke="#6e6e6e" stroke-width="1.0" stroke-dasharray="4.4,3"/>
<line x1="126.53" y1="722.5" x2="126.53" y2="898.3" stroke="#6e6e6e" stroke-width="1.0" stroke-dasharray="4.4,3"/>
<line x1="131.87" y1="722.5" x2="131.87" y2="898.3" stroke="#6e6e6e" stroke-width="1.0" stroke-dasharray="4.4,3"/>
<line x1="137.22" y1="722.5" x2="137.22" y2="898.3" stroke="#6e6e6e" stroke-width="1.0" stroke-dasharray="4.4,3"/>
<line x1="142.56" y1="722.5" x2="142.56" y2="898.3" stroke="#6e6e6e" stroke-width="1.0" stroke-dasharray="4.4,3"/>
<line x1="164.55" y1="722.5" x2="164.55" y2="898.3" stroke="#6e6e6e" stroke-width="1.0" stroke-dasharray="4.4,3"/>
<line x1="169.9" y1="722.5" x2="169.9" y2="898.3" stroke="#6e6e6e" stroke-width="1.0" stroke-dasharray="4.4,3"/>
<line x1="175.24" y1="722.5" x2="175.24" y2="898.3" stroke="#6e6e6e" stroke-width="1.0" stroke-dasharray="4.4,3"/>
<line x1="180.59" y1="722.5" x2="180.59" y2="898.3" stroke="#6e6e6e" stroke-width="1.0" stroke-dasharray="4.4,3"/>
<line x1="202.01" y1="722.5" x2="202.01" y2="898.3" stroke="#6e6e6e" stroke-width="1.0" stroke-dasharray="4.4,3"/>
<line x1="207.36" y1="722.5" x2="207.36" y2="898.3" stroke="#6e6e6e" stroke-width="1.0" stroke-dasharray="4.4,3"/>
<line x1="212.7" y1="722.5" x2="212.7" y2="898.3" stroke="#6e6e6e" stroke-width="1.0" stroke-dasharray="4.4,3"/>
<line x1="218.05" y1="722.5" x2="218.05" y2="898.3" stroke="#6e6e6e" stroke-width="1.0" stroke-dasharray="4.4,3"/>
<line x1="239.24" y1="722.5" x2="239.24" y2="898.3" stroke="#6e6e6e" stroke-width="1.0" stroke-dasharray="4.4,3"/>
<line x1="244.59" y1="722.5" x2="244.59" y2="898.3" stroke="#6e6e6e" stroke-width="1.0" stroke-dasharray="4.4,3"/>
<line x1="249.93" y1="722.5" x2="249.93" y2="898.3" stroke="#6e6e6e" stroke-width="1.0" stroke-dasharray="4.4,3"/>
<line x1="255.28" y1="722.5" x2="255.28" y2="898.3" stroke="#6e6e6e" stroke-width="1.0" stroke-dasharray="4.4,3"/>
<line x1="282.05" y1="722.5" x2="282.05" y2="898.3" stroke="#6e6e6e" stroke-width="1.0" stroke-dasharray="4.4,3"/>
<line x1="287.39" y1="722.5" x2="287.39" y2="898.3" stroke="#6e6e6e" stroke-width="1.0" stroke-dasharray="4.4,3"/>
<line x1="292.74" y1="722.5" x2="292.74" y2="898.3" stroke="#6e6e6e" stroke-width="1.0" stroke-dasharray="4.4,3"/>
<line x1="318.82" y1="722.5" x2="318.82" y2="898.3" stroke="#6e6e6e" stroke-width="1.0" stroke-dasharray="4.4,3"/>
<line x1="324.17" y1="722.5" x2="324.17" y2="898.3" stroke="#6e6e6e" stroke-width="1.0" stroke-dasharray="4.4,3"/>
<line x1="329.51" y1="722.5" x2="329.51" y2="898.3" stroke="#6e6e6e" stroke-width="1.0" stroke-dasharray="4.4,3"/>
<line x1="356.93" y1="722.5" x2="356.93" y2="898.3" stroke="#6e6e6e" stroke-width="1.0" stroke-dasharray="4.4,3"/>
<line x1="362.27" y1="722.5" x2="362.27" y2="898.3" stroke="#6e6e6e" stroke-width="1.0" stroke-dasharray="4.4,3"/>
<line x1="367.62" y1="722.5" x2="367.62" y2="898.3" stroke="#6e6e6e" stroke-width="1.0" stroke-dasharray="4.4,3"/>
<line x1="394.08" y1="722.5" x2="394.08" y2="898.3" stroke="#6e6e6e" stroke-width="1.0" stroke-dasharray="4.4,3"/>
<line x1="399.43" y1="722.5" x2="399.43" y2="898.3" stroke="#6e6e6e" stroke-width="1.0" stroke-dasharray="4.4,3"/>
<line x1="404.77" y1="722.5" x2="404.77" y2="898.3" stroke="#6e6e6e" stroke-width="1.0" stroke-dasharray="4.4,3"/>
<line x1="431.12" y1="722.5" x2="431.12" y2="898.3" stroke="#6e6e6e" stroke-width="1.0" stroke-dasharray="4.4,3"/>
<line x1="436.47" y1="722.5" x2="436.47" y2="898.3" stroke="#6e6e6e" stroke-width="1.0" stroke-dasharray="4.4,3"/>
<line x1="441.81" y1="722.5" x2="441.81" y2="898.3" stroke="#6e6e6e" stroke-width="1.0" stroke-dasharray="4.4,3"/>
<line x1="447.16" y1="722.5" x2="447.16" y2="898.3" stroke="#6e6e6e" stroke-width="1.0" stroke-dasharray="4.4,3"/>
<line x1="469.15" y1="722.5" x2="469.15" y2="898.3" stroke="#6e6e6e" stroke-width="1.0" stroke-dasharray="4.4,3"/>
<line x1="474.49" y1="722.5" x2="474.49" y2="898.3" stroke="#6e6e6e" stroke-width="1.0" stroke-dasharray="4.4,3"/>
<line x1="479.84" y1="722.5" x2="479.84" y2="898.3" stroke="#6e6e6e" stroke-width="1.0" stroke-dasharray="4.4,3"/>
<line x1="485.19" y1="722.5" x2="485.19" y2="898.3" stroke="#6e6e6e" stroke-width="1.0" stroke-dasharray="4.4,3"/>
<line x1="506.27" y1="722.5" x2="506.27" y2="898.3" stroke="#6e6e6e" stroke-width="1.0" stroke-dasharray="4.4,3"/>
<line x1="511.61" y1="722.5" x2="511.61" y2="898.3" stroke="#6e6e6e" stroke-width="1.0" stroke-dasharray="4.4,3"/>
<line x1="516.96" y1="722.5" x2="516.96" y2="898.3" stroke="#6e6e6e" stroke-width="1.0" stroke-dasharray="4.4,3"/>
<line x1="522.3" y1="722.5" x2="522.3" y2="898.3" stroke="#6e6e6e" stroke-width="1.0" stroke-dasharray="4.4,3"/>
<line x1="544.18" y1="722.5" x2="544.18" y2="898.3" stroke="#6e6e6e" stroke-width="1.0" stroke-dasharray="4.4,3"/>
<line x1="549.53" y1="722.5" x2="549.53" y2="898.3" stroke="#6e6e6e" stroke-width="1.0" stroke-dasharray="4.4,3"/>
<line x1="554.87" y1="722.5" x2="554.87" y2="898.3" stroke="#6e6e6e" stroke-width="1.0" stroke-dasharray="4.4,3"/>
<line x1="560.22" y1="722.5" x2="560.22" y2="898.3" stroke="#6e6e6e" stroke-width="1.0" stroke-dasharray="4.4,3"/>
<line x1="581.6" y1="722.5" x2="581.6" y2="898.3" stroke="#6e6e6e" stroke-width="1.0" stroke-dasharray="4.4,3"/>
<line x1="586.95" y1="722.5" x2="586.95" y2="898.3" stroke="#6e6e6e" stroke-width="1.0" stroke-dasharray="4.4,3"/>
<line x1="592.29" y1="722.5" x2="592.29" y2="898.3" stroke="#6e6e6e" stroke-width="1.0" stroke-dasharray="4.4,3"/>
<line x1="597.64" y1="722.5" x2="597.64" y2="898.3" stroke="#6e6e6e" stroke-width="1.0" stroke-dasharray="4.4,3"/>
<polyline points="49.6,783.9 68.6,783.9 68.6,743.9 106.5,743.9 106.5,783.9 163.3,783.9 163.3,743.9 220.2,743.9 220.2,783.9 277.1,783.9 277.1,743.9 333.9,743.9 333.9,783.9 390.8,783.9 390.8,743.9 447.7,743.9 447.7,783.9 504.6,783.9 504.6,743.9 561.4,743.9 561.4,783.9 618.3,783.9" fill="none" stroke="#4aacaa" stroke-width="1.5" stroke-linejoin="round" stroke-linejoin="miter"/>
<polyline points="49.6,783.1 87.5,783.1 87.5,742.8 144.4,742.8 144.4,783.1 201.3,783.1 201.3,742.8 258.1,742.8 258.1,783.1 315.0,783.1 315.0,742.8 371.9,742.8 371.9,783.1 428.7,783.1 428.7,742.8 485.6,742.8 485.6,783.1 542.5,783.1 542.5,742.8 599.3,742.8 599.3,783.1 618.3,783.1" fill="none" stroke="#9d68b6" stroke-width="1.5" stroke-linejoin="round" stroke-linejoin="miter"/>
<polyline points="49.6,782.1 125.4,782.1 125.4,741.6 182.3,741.6 182.3,782.1 239.2,782.1 239.2,741.6 296.0,741.6 296.0,782.1 352.9,782.1 352.9,741.6 409.8,741.6 409.8,782.1 466.6,782.1 466.6,741.6 523.5,741.6 523.5,782.1 580.4,782.1 580.4,741.6 618.3,741.6" fill="none" stroke="#fbb267" stroke-width="1.5" stroke-linejoin="round" stroke-linejoin="miter"/>
<line x1="426.9" y1="731.4" x2="453.7" y2="731.4" stroke="#4aacaa" stroke-width="1.4" />
<text x="456" y="734.3" font-size="7.8" text-anchor="start" fill="#231f20" stroke="#231f20" stroke-width="0.15" font-weight="normal" >Elec.1</text>
<line x1="490.7" y1="731.4" x2="517.3" y2="731.4" stroke="#9d68b6" stroke-width="1.4" />
<text x="520.3" y="734.3" font-size="7.8" text-anchor="start" fill="#231f20" stroke="#231f20" stroke-width="0.15" font-weight="normal" >Elec.2</text>
<line x1="555" y1="731.4" x2="581.4" y2="731.4" stroke="#fbb267" stroke-width="1.4" />
<text x="583.9" y="734.3" font-size="7.8" text-anchor="start" fill="#231f20" stroke="#231f20" stroke-width="0.15" font-weight="normal" >Elec.3</text>
<polyline points="49.6,886.5 49.8,886.4 50.0,886.6 50.4,886.1 51.1,886.6 51.5,886.4 52.6,886.8 53.0,886.7 53.4,886.3 54.5,886.5 54.9,886.9 56.8,886.6 57.2,887.1 57.6,886.9 57.9,886.8 58.7,887.2 59.1,887.0 59.5,887.3 59.8,886.8 61.0,887.3 61.4,887.0 61.7,887.2 62.1,887.0 64.4,887.6 65.2,887.3 65.5,887.8 65.9,887.8 66.3,887.5 66.7,887.7 67.1,887.6 67.8,887.8 68.2,887.4 68.6,887.9 69.5,816.4 69.7,815.3 71.2,811.0 73.1,808.7 73.5,808.7 74.3,807.8 75.4,807.4 75.8,807.8 76.5,807.1 77.3,807.4 77.7,807.0 78.1,807.2 78.4,807.0 78.8,807.3 79.6,807.2 80.0,807.4 80.7,806.9 81.5,807.4 82.2,807.3 82.6,806.9 83.7,807.3 84.1,806.8 84.5,807.1 85.3,807.3 86.0,807.3 86.4,807.0 87.2,807.3 87.5,807.1 88.1,814.7 88.7,819.8 89.4,824.0 90.2,826.4 91.7,829.3 92.9,830.5 93.2,830.8 93.6,830.8 94.4,831.8 94.7,831.5 95.1,831.9 95.5,831.9 95.9,832.4 96.3,832.3 97.4,832.8 98.2,833.5 98.5,833.5 98.9,833.3 99.7,833.4 100.1,833.9 100.8,833.7 101.6,833.9 102.0,834.1 102.7,834.1 103.1,834.4 103.5,834.1 103.9,834.1 104.2,834.7 104.6,834.2 105.4,834.4 105.7,834.8 106.1,834.4 106.5,834.8 107.0,826.4 107.4,826.1 107.6,826.5 108.0,826.5 108.4,825.9 108.8,826.4 109.2,825.9 109.5,826.3 109.9,825.8 110.7,825.7 111.1,825.9 111.4,825.6 111.8,826.0 112.2,825.7 112.6,825.9 113.0,825.5 114.1,825.7 114.5,825.9 116.0,825.4 116.8,825.8 117.5,825.4 118.3,825.8 118.6,825.3 119.0,825.3 119.4,825.7 119.8,825.5 120.2,825.5 120.5,825.3 121.3,825.6 122.1,825.2 122.4,825.7 122.8,825.7 123.6,825.2 124.3,825.5 124.7,825.2 125.1,825.3 125.4,825.5 127.0,837.4 129.3,848.5 131.5,855.5 132.3,856.8 132.7,857.9 135.0,861.8 135.3,862.0 136.5,863.8 136.9,863.9 138.4,865.9 138.8,865.9 140.3,867.6 140.7,867.9 141.0,867.8 141.4,868.4 141.8,868.3 142.2,868.9 143.3,869.5 143.7,870.0 144.4,869.9 144.4,870.4 144.4,870.2 145.0,871.6 145.2,871.5 145.6,872.2 146.3,872.5 146.7,873.2 147.1,873.1 147.9,873.5 148.2,873.5 149.0,873.8 149.4,874.5 149.8,874.3 151.3,874.8 151.7,875.3 152.0,875.1 152.4,875.5 153.2,875.5 154.3,876.3 155.4,876.2 156.2,876.8 156.6,876.9 157.0,876.8 157.3,877.2 157.7,877.3 158.1,877.6 159.2,877.5 160.0,877.9 160.4,877.7 161.5,878.5 161.9,878.0 162.7,878.2 163.3,878.7 163.3,877.9 163.7,877.5 164.2,878.1 164.6,878.1 164.9,877.8 165.3,878.3 165.7,878.0 166.5,878.3 166.8,878.1 167.2,878.6 167.6,878.5 168.7,879.0 169.1,878.9 169.9,879.2 170.2,878.7 170.6,879.1 171.0,878.9 172.1,879.2 172.5,879.0 173.7,879.4 174.4,879.4 175.6,879.9 175.9,879.5 176.7,880.1 177.1,880.1 177.5,879.7 177.8,880.1 179.0,879.9 179.4,880.2 180.1,880.2 180.5,880.5 180.9,880.0 181.2,880.6 181.6,880.1 182.3,880.7 183.1,820.9 183.2,818.5 183.5,817.2 184.3,814.6 185.4,812.0 185.8,811.5 186.6,811.0 187.3,809.9 187.7,810.0 188.5,809.3 189.2,809.6 189.6,809.1 190.0,809.3 190.4,808.8 191.1,809.1 191.5,808.7 192.2,808.9 192.6,808.6 195.3,808.7 195.7,808.5 196.4,809.0 196.8,808.6 199.1,809.0 199.5,808.6 199.8,808.5 200.6,808.9 201.0,808.4 201.2,808.5 202.2,820.0 203.3,825.7 204.8,829.8 205.9,831.5 206.7,831.8 207.8,833.1 208.6,833.3 210.1,834.5 210.5,834.1 210.8,834.3 211.2,834.8 211.6,834.6 212.0,835.0 212.7,834.9 213.1,835.3 213.5,835.2 213.9,835.5 214.3,835.5 214.6,835.8 215.4,835.8 215.8,835.5 216.2,836.0 216.5,835.7 216.9,836.2 217.3,835.7 217.7,836.2 218.0,836.3 218.4,836.3 218.8,835.9 219.2,836.1 219.6,836.0 220.2,836.5 220.2,836.8 220.8,826.2 221.1,826.6 221.2,826.1 221.5,826.4 222.6,825.9 223.0,826.3 223.4,825.8 223.7,826.2 224.1,825.8 224.5,826.2 224.9,825.7 225.3,826.0 226.0,826.1 226.8,825.8 227.2,825.4 227.9,825.7 228.3,825.4 228.7,825.8 229.0,825.8 229.4,825.3 230.2,825.5 230.6,825.3 230.9,825.8 231.3,825.3 232.5,825.3 232.8,825.7 234.4,825.4 235.1,825.5 235.9,825.2 236.3,825.3 236.6,825.7 238.2,825.4 238.5,825.6 238.9,825.3 239.2,825.5 240.4,835.5 242.3,845.7 243.8,851.4 246.1,857.4 246.5,857.8 247.6,860.2 248.8,861.6 249.2,862.3 249.5,862.5 250.3,863.9 251.8,865.3 252.2,866.0 253.0,866.3 253.7,867.4 255.6,868.5 256.0,869.0 257.9,869.8 258.5,871.0 258.6,871.0 259.1,872.2 259.4,872.2 259.8,872.6 260.2,872.5 260.5,873.2 260.9,873.1 261.7,873.8 262.1,873.6 262.4,873.7 262.8,874.3 263.2,874.0 265.1,875.3 265.9,875.1 266.2,875.7 266.6,875.7 267.0,875.9 267.7,875.8 269.3,876.8 270.0,876.6 270.4,876.7 270.8,877.3 271.2,877.2 271.5,877.5 272.3,877.2 272.7,877.7 273.1,877.4 273.4,877.5 274.2,878.1 274.6,877.8 275.3,877.9 275.7,878.6 276.1,878.7 277.1,878.7 277.1,877.9 277.3,877.6 278.0,877.8 278.0,878.1 278.4,878.0 279.1,878.3 279.5,878.0 279.9,878.4 280.6,878.5 281.0,878.4 281.4,878.8 281.8,878.5 282.2,878.9 282.5,878.5 282.9,879.0 283.3,878.7 284.4,879.1 285.2,879.0 286.3,879.5 286.7,879.3 287.1,879.6 287.9,879.4 289.0,879.6 289.4,879.9 289.8,879.5 290.1,879.7 290.9,879.6 291.6,880.1 293.5,880.3 295.1,880.2 295.4,880.4 295.8,880.2 296.0,880.2 296.0,881.0 297.0,819.1 297.7,815.5 299.2,811.4 300.0,810.7 300.8,809.6 301.5,809.5 301.9,808.9 302.3,809.1 303.0,808.9 303.4,808.2 303.8,808.5 304.9,808.0 305.3,808.3 306.1,808.0 306.4,808.4 307.2,807.9 308.0,808.1 308.3,807.8 308.7,808.1 309.1,807.9 309.9,808.3 310.2,808.1 311.0,808.3 313.3,807.8 313.7,808.1 314.4,807.8 314.8,808.1 315.0,807.8 315.9,819.4 316.7,824.1 317.8,828.3 318.6,830.0 319.0,830.1 320.5,832.3 321.2,832.5 321.6,833.1 322.4,833.5 322.8,833.5 323.1,834.1 323.5,833.8 323.9,834.5 324.3,834.3 324.7,834.4 325.0,834.7 325.4,834.7 326.2,835.2 328.4,835.3 330.0,835.6 330.7,836.0 332.2,835.9 333.4,836.4 333.8,836.2 334.0,836.6 334.5,826.2 334.5,826.5 334.9,826.6 334.9,826.2 335.3,826.1 335.7,826.4 336.0,826.0 336.4,825.9 337.6,826.2 338.7,825.7 339.5,826.0 339.8,825.6 340.2,826.0 340.6,825.7 341.3,826.0 342.1,825.5 342.9,825.9 343.2,825.6 343.6,825.7 345.1,825.3 345.5,825.6 345.9,825.4 346.3,825.7 347.0,825.7 347.4,825.3 347.8,825.6 348.6,825.2 349.3,825.6 350.1,825.4 350.8,825.7 351.2,825.2 352.9,825.2 353.5,830.6 354.6,838.1 356.1,845.9 357.3,850.4 359.9,857.5 363.4,863.1 363.7,863.2 364.5,864.5 365.2,865.3 365.6,865.5 366.0,866.1 366.4,866.2 366.8,866.7 367.1,866.7 367.9,867.7 368.3,867.6 369.0,868.5 369.4,868.4 369.8,869.2 370.6,869.3 370.9,869.8 371.7,869.9 372.1,870.7 372.1,870.3 372.2,870.6 372.8,872.3 373.2,872.6 373.6,872.5 374.7,873.5 376.3,873.8 377.0,874.4 377.4,874.2 378.5,874.8 379.7,875.6 380.0,875.4 380.8,875.6 381.9,876.2 382.3,876.0 382.7,876.7 383.8,876.7 384.6,877.2 385.0,877.1 385.4,877.4 386.1,877.6 386.9,877.6 387.6,878.1 388.4,878.0 389.2,878.4 389.9,878.3 390.3,878.8 390.7,878.5 390.8,878.9 390.8,877.5 391.0,877.9 391.0,877.5 391.2,878.0 391.8,877.7 392.2,878.2 392.6,878.3 392.9,878.0 393.7,878.3 394.8,878.4 395.6,878.8 396.4,878.5 397.1,878.7 397.5,878.7 398.3,879.1 398.6,878.9 399.0,879.4 399.4,879.1 399.8,879.5 400.2,879.2 400.9,879.3 401.3,879.7 402.0,879.4 402.4,879.9 402.8,879.6 403.2,879.8 403.9,879.5 404.3,880.1 405.5,879.7 405.8,879.8 406.2,880.3 407.4,880.0 408.1,880.2 408.5,880.0 409.3,880.1 409.6,880.3 409.8,880.8 410.7,818.9 411.5,815.5 413.1,812.1 413.4,811.8 413.8,811.0 414.2,810.9 414.6,810.3 414.9,810.5 415.7,809.7 416.5,809.6 416.8,809.2 417.2,809.6 417.6,809.1 418.4,809.3 421.0,808.8 421.8,809.1 422.9,808.7 423.3,809.0 424.1,808.8 424.8,809.1 425.2,808.9 425.6,809.0 426.0,808.7 426.7,809.1 427.8,808.7 428.7,808.9 429.7,820.2 430.5,824.9 431.3,827.6 432.4,830.1 433.5,831.6 434.3,832.2 434.7,832.2 435.1,833.0 435.4,833.0 436.2,833.7 439.2,834.8 440.0,835.3 440.4,835.1 440.7,835.3 441.1,835.1 441.5,835.7 441.9,835.5 442.3,835.7 443.0,835.5 443.8,835.8 444.2,835.6 444.5,836.1 444.9,835.7 445.3,836.1 445.7,836.0 446.4,836.4 447.2,836.2 447.6,836.4 447.7,836.1 447.7,836.9 448.3,826.2 448.6,826.1 448.7,826.6 449.1,826.3 449.5,826.3 450.2,826.0 451.7,826.2 452.1,825.8 452.5,825.7 452.9,826.1 453.6,826.0 454.0,825.5 454.4,826.0 455.2,825.5 455.5,825.9 455.9,825.5 456.3,825.7 456.7,825.5 457.4,825.8 457.8,825.3 458.2,825.6 458.6,825.3 459.0,825.5 459.3,825.3 460.1,825.8 460.5,825.8 460.9,825.2 461.2,825.4 462.0,825.3 462.4,825.5 463.1,825.4 463.5,825.7 464.3,825.2 464.6,825.4 465.0,825.3 465.4,825.7 466.5,825.4 466.6,825.2 467.6,833.3 469.6,844.6 471.9,852.9 473.4,856.9 474.5,858.8 474.9,859.9 477.5,863.7 477.9,863.8 478.3,864.6 479.1,865.0 479.4,865.7 481.7,867.3 482.1,868.1 483.2,868.8 483.6,868.7 484.0,869.2 484.4,869.2 484.8,869.9 485.6,870.0 486.3,871.6 487.0,872.7 487.8,872.9 488.2,872.8 488.5,873.3 488.9,873.3 489.3,873.8 489.7,873.6 490.1,874.3 490.8,874.3 492.3,875.1 492.7,875.0 493.1,875.3 493.9,875.4 494.2,875.8 494.6,875.7 495.4,875.8 495.8,876.5 496.1,876.4 496.9,876.8 497.7,876.7 498.0,877.2 498.4,876.9 499.2,877.0 499.9,877.7 500.3,877.5 501.1,877.9 501.4,877.7 501.8,878.1 502.2,877.9 502.6,877.9 503.3,878.6 503.7,878.2 504.1,878.7 504.5,878.8 504.6,877.8 504.9,877.6 505.1,878.0 505.5,878.1 506.0,877.8 506.8,878.1 507.1,878.0 507.5,878.6 508.3,878.3 508.7,878.6 509.0,878.3 509.4,878.8 509.8,878.4 510.6,878.7 510.9,878.6 511.7,879.1 512.8,879.0 514.3,879.2 514.7,879.7 515.1,879.3 516.2,879.8 516.6,879.6 517.0,879.9 517.8,879.8 518.9,880.2 519.7,879.8 520.0,880.2 520.8,880.4 521.6,880.1 521.9,880.4 522.3,880.1 522.7,880.6 523.5,880.6 523.5,880.2 523.5,881.2 524.2,829.4 524.6,817.9 526.1,813.6 526.9,812.1 527.2,812.0 527.6,811.6 528.0,810.8 529.1,810.4 529.5,810.5 530.3,809.8 530.7,810.0 531.0,809.7 532.6,809.9 532.9,809.4 533.3,809.7 534.5,809.3 534.8,809.7 535.6,809.3 536.4,809.5 537.5,809.2 538.2,809.7 538.6,809.6 539.0,809.3 539.8,809.4 540.1,809.3 540.5,809.6 542.0,809.1 542.5,809.5 543.0,816.8 543.9,823.4 545.1,827.5 546.2,830.0 547.0,831.1 549.6,833.4 550.0,833.6 550.4,833.5 551.5,834.2 551.9,834.7 552.3,834.6 552.7,834.8 553.0,834.6 553.8,835.2 554.6,835.1 555.7,835.6 556.5,835.5 556.8,835.9 558.0,835.6 558.4,835.9 559.1,835.8 559.9,835.9 560.6,836.4 561.0,836.0 561.4,836.5 561.4,836.1 561.4,836.8 562.0,826.4 562.2,826.5 562.4,826.1 562.5,826.3 562.9,826.0 563.3,826.4 563.7,826.4 564.4,826.2 564.8,825.7 565.2,826.2 565.9,825.7 566.3,826.0 567.5,826.0 567.8,825.7 568.6,825.9 569.7,825.5 570.1,825.8 570.5,825.8 570.9,825.4 571.6,825.4 572.0,825.6 572.4,825.5 572.8,825.6 573.5,825.2 573.9,825.5 574.7,825.4 575.8,825.7 576.2,825.3 576.6,825.4 576.9,825.2 577.3,825.5 577.7,825.2 578.1,825.3 578.5,825.6 578.8,825.3 579.2,825.7 579.6,825.3 580.4,825.3 581.3,833.2 582.6,841.0 583.8,846.5 586.1,854.3 588.3,859.3 589.8,861.4 590.2,862.4 590.6,862.4 591.7,864.3 592.9,865.0 593.6,866.2 594.0,866.1 594.8,867.0 595.5,867.4 595.9,867.9 598.2,869.7 599.3,870.0 599.3,870.4 599.5,870.3 599.7,870.6 599.7,871.0 599.9,871.5 600.1,871.4 600.3,872.1 600.8,872.3 601.2,872.9 602.0,873.1 602.4,873.6 602.7,873.5 605.0,874.3 605.4,874.9 606.5,875.3 606.9,875.1 607.7,875.3 608.1,875.8 608.8,875.7 610.0,876.3 610.3,876.8 612.2,876.8 612.6,877.3 613.0,877.0 613.4,877.6 613.7,877.3 614.1,877.7 614.9,877.7 615.3,878.2 615.6,878.0 616.0,878.0 616.8,878.5 617.2,878.3 617.5,878.6 618.3,878.8 618.3,877.6" fill="none" stroke="#9a2ff0" stroke-width="1.9" stroke-linejoin="round" />
<line x1="49.6" y1="722.5" x2="618.3" y2="722.5" stroke="#231f20" stroke-width="1" />
<line x1="49.6" y1="722.5" x2="49.6" y2="898.3" stroke="#231f20" stroke-width="1" />
<line x1="618.3" y1="722.5" x2="618.3" y2="898.3" stroke="#231f20" stroke-width="1" />
<line x1="49.6" y1="792.6" x2="618.3" y2="792.6" stroke="#231f20" stroke-width="1.3" />
<line x1="49.6" y1="898.3" x2="618.3" y2="898.3" stroke="#231f20" stroke-width="1.2" />
<line x1="45.6" y1="782.3" x2="49.6" y2="782.3" stroke="#231f20" stroke-width="0.8" />
<text x="40.6" y="785.5" font-size="9.8" text-anchor="end" fill="#231f20" stroke="#231f20" stroke-width="0.15" font-weight="normal" >0</text>
<line x1="45.6" y1="742.6" x2="49.6" y2="742.6" stroke="#231f20" stroke-width="0.8" />
<text x="40.6" y="745.8" font-size="9.8" text-anchor="end" fill="#231f20" stroke="#231f20" stroke-width="0.15" font-weight="normal" >4</text>
<line x1="47.6" y1="762.45" x2="49.6" y2="762.45" stroke="#231f20" stroke-width="0.8" />
<line x1="47.6" y1="722.75" x2="49.6" y2="722.75" stroke="#231f20" stroke-width="0.8" />
<line x1="47.6" y1="792.22" x2="49.6" y2="792.22" stroke="#231f20" stroke-width="0.8" />
<line x1="45.6" y1="886.3" x2="49.6" y2="886.3" stroke="#231f20" stroke-width="0.8" />
<text x="40.6" y="889.5" font-size="9.8" text-anchor="end" fill="#231f20" stroke="#231f20" stroke-width="0.15" font-weight="normal" >0</text>
<line x1="45.6" y1="851.35" x2="49.6" y2="851.35" stroke="#231f20" stroke-width="0.8" />
<text x="40.6" y="854.55" font-size="9.8" text-anchor="end" fill="#231f20" stroke="#231f20" stroke-width="0.15" font-weight="normal" >30</text>
<line x1="45.6" y1="816.4" x2="49.6" y2="816.4" stroke="#231f20" stroke-width="0.8" />
<text x="40.6" y="819.6" font-size="9.8" text-anchor="end" fill="#231f20" stroke="#231f20" stroke-width="0.15" font-weight="normal" >60</text>
<line x1="47.6" y1="868.83" x2="49.6" y2="868.83" stroke="#231f20" stroke-width="0.8" />
<line x1="47.6" y1="833.88" x2="49.6" y2="833.88" stroke="#231f20" stroke-width="0.8" />
<line x1="47.6" y1="798.93" x2="49.6" y2="798.93" stroke="#231f20" stroke-width="0.8" />
<line x1="47.6" y1="895.04" x2="49.6" y2="895.04" stroke="#231f20" stroke-width="0.8" />
<line x1="49.6" y1="898.3" x2="49.6" y2="902.3" stroke="#231f20" stroke-width="0.8" />
<text x="49.6" y="914.5" font-size="9.8" text-anchor="middle" fill="#231f20" stroke="#231f20" stroke-width="0.15" font-weight="normal" >0</text>
<line x1="163.34" y1="898.3" x2="163.34" y2="902.3" stroke="#231f20" stroke-width="0.8" />
<text x="163.34" y="914.5" font-size="9.8" text-anchor="middle" fill="#231f20" stroke="#231f20" stroke-width="0.15" font-weight="normal" >30</text>
<line x1="277.08" y1="898.3" x2="277.08" y2="902.3" stroke="#231f20" stroke-width="0.8" />
<text x="277.08" y="914.5" font-size="9.8" text-anchor="middle" fill="#231f20" stroke="#231f20" stroke-width="0.15" font-weight="normal" >60</text>
<line x1="390.82" y1="898.3" x2="390.82" y2="902.3" stroke="#231f20" stroke-width="0.8" />
<text x="390.82" y="914.5" font-size="9.8" text-anchor="middle" fill="#231f20" stroke="#231f20" stroke-width="0.15" font-weight="normal" >90</text>
<line x1="504.56" y1="898.3" x2="504.56" y2="902.3" stroke="#231f20" stroke-width="0.8" />
<text x="504.56" y="914.5" font-size="9.8" text-anchor="middle" fill="#231f20" stroke="#231f20" stroke-width="0.15" font-weight="normal" >120</text>
<line x1="618.3" y1="898.3" x2="618.3" y2="902.3" stroke="#231f20" stroke-width="0.8" />
<text x="618.3" y="914.5" font-size="9.8" text-anchor="middle" fill="#231f20" stroke="#231f20" stroke-width="0.15" font-weight="normal" >150</text>
<line x1="106.47" y1="898.3" x2="106.47" y2="900.3" stroke="#231f20" stroke-width="0.8" />
<line x1="220.21" y1="898.3" x2="220.21" y2="900.3" stroke="#231f20" stroke-width="0.8" />
<line x1="333.95" y1="898.3" x2="333.95" y2="900.3" stroke="#231f20" stroke-width="0.8" />
<line x1="447.69" y1="898.3" x2="447.69" y2="900.3" stroke="#231f20" stroke-width="0.8" />
<line x1="561.43" y1="898.3" x2="561.43" y2="900.3" stroke="#231f20" stroke-width="0.8" />
<text x="328.3" y="927.3" font-size="9.3" text-anchor="middle" fill="#231f20" stroke="#231f20" stroke-width="0.15" font-weight="normal" >Time (s)</text>
<text x="20.5" y="757.8" font-size="9.5" text-anchor="middle" fill="#231f20" stroke="#231f20" stroke-width="0.15" font-weight="normal" transform="rotate(-90 20.5 757.8)" >Voltage (kV)</text>
<text x="20" y="845" font-size="9.5" text-anchor="middle" fill="#231f20" stroke="#231f20" stroke-width="0.15" font-weight="normal" transform="rotate(-90 20 845)" >(<tspan font-style="italic">R</tspan>−<tspan font-style="italic">R</tspan><tspan font-size="72%" dy="2.2">0</tspan><tspan dy="-2.2">)/</tspan><tspan font-style="italic">R</tspan><tspan font-size="72%" dy="2.2">0</tspan><tspan dy="-2.2"> (%)</tspan></text>
<text x="12" y="724.9" font-size="16.5" text-anchor="start" fill="#000" stroke="#000" stroke-width="0.1" font-weight="bold" >h</text></svg>
</body></html>
